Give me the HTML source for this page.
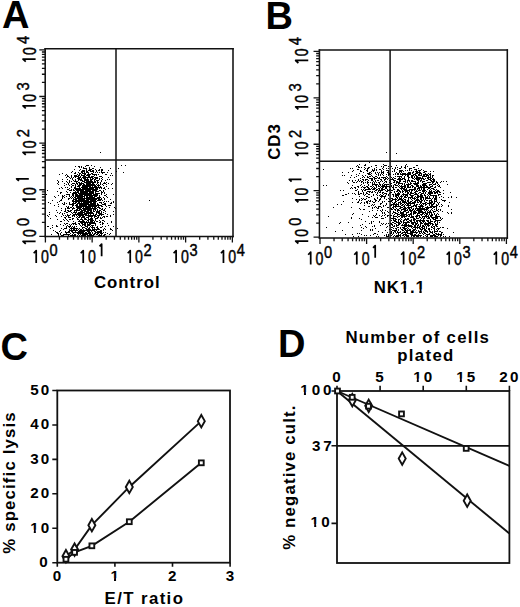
<!DOCTYPE html>
<html><head><meta charset="utf-8"><title>Figure</title><style>
html,body{margin:0;padding:0;background:#fff;}
body{width:520px;height:607px;overflow:hidden;}
svg{display:block;}
text{font-family:"Liberation Sans",sans-serif;fill:#000;}
.L{font-weight:bold;font-size:38px;}
.X{font-weight:bold;font-size:16.8px;letter-spacing:1px;}
.N{font-weight:bold;font-size:15.2px;letter-spacing:2.1px;}
.T{font-size:17.4px;stroke:#000;stroke-width:0.45px;}
.T0{font-size:17.9px;stroke:#000;stroke-width:0.45px;}
</style></head>
<body><svg width="520" height="607" viewBox="0 0 520 607"><rect width="520" height="607" fill="#fff"/><text x="2" y="27.6" class="L">A</text><text x="265.5" y="28.8" class="L">B</text><text x="0.6" y="359.8" class="L">C</text><text x="277.9" y="357.2" class="L">D</text><path d="M45.2 48.1V237.3M233 48.1V237.3" stroke="#111" stroke-width="1.55" fill="none"/><path d="M44.45 48.85H233.75" stroke="#111" stroke-width="1.5" fill="none"/><path d="M44.45 236.5H233.75" stroke="#111" stroke-width="1.6" fill="none"/><line x1="116" y1="48.85" x2="116" y2="236.5" stroke="#111" stroke-width="1.5"/><line x1="45.2" y1="159.95" x2="233" y2="159.95" stroke="#111" stroke-width="1.5"/><path d="M45.4 236.5v5.9M45.2 236.4h-5.9M59.47 236.5v3.3M45.2 222.36h-3.3M67.7 236.5v3.3M45.2 214.15h-3.3M73.54 236.5v3.3M45.2 208.33h-3.3M78.07 236.5v3.3M45.2 203.81h-3.3M81.77 236.5v3.3M45.2 200.11h-3.3M84.9 236.5v3.3M45.2 196.99h-3.3M87.61 236.5v3.3M45.2 194.29h-3.3M90 236.5v3.3M45.2 191.9h-3.3M92.14 236.5v5.9M45.2 189.77h-5.9M106.21 236.5v3.3M45.2 175.73h-3.3M114.44 236.5v3.3M45.2 167.52h-3.3M120.28 236.5v3.3M45.2 161.7h-3.3M124.81 236.5v3.3M45.2 157.18h-3.3M128.51 236.5v3.3M45.2 153.48h-3.3M131.64 236.5v3.3M45.2 150.36h-3.3M134.35 236.5v3.3M45.2 147.66h-3.3M136.74 236.5v3.3M45.2 145.27h-3.3M138.88 236.5v5.9M45.2 143.14h-5.9M152.95 236.5v3.3M45.2 129.1h-3.3M161.18 236.5v3.3M45.2 120.89h-3.3M167.02 236.5v3.3M45.2 115.07h-3.3M171.55 236.5v3.3M45.2 110.55h-3.3M175.25 236.5v3.3M45.2 106.85h-3.3M178.38 236.5v3.3M45.2 103.73h-3.3M181.09 236.5v3.3M45.2 101.03h-3.3M183.48 236.5v3.3M45.2 98.64h-3.3M185.62 236.5v5.9M45.2 96.51h-5.9M199.69 236.5v3.3M45.2 82.47h-3.3M207.92 236.5v3.3M45.2 74.26h-3.3M213.76 236.5v3.3M45.2 68.44h-3.3M218.29 236.5v3.3M45.2 63.92h-3.3M221.99 236.5v3.3M45.2 60.22h-3.3M225.12 236.5v3.3M45.2 57.1h-3.3M227.83 236.5v3.3M45.2 54.4h-3.3M230.22 236.5v3.3M45.2 52.01h-3.3M232.36 236.5v5.9M45.2 49.88h-5.9" stroke="#111" stroke-width="1.3" fill="none"/><g transform="translate(45,263.1)"><path d="M-8.8 0V-12.6L-11.3 -9.85" fill="none" stroke="#000" stroke-width="1.75" stroke-linejoin="round"/><text class="T0" transform="scale(0.79,1)" x="0" y="0" text-anchor="middle">0</text><text class="T" transform="scale(0.84,1)" x="5.48" y="-6.8">0</text></g><g transform="translate(92.04,263.1)"><path d="M-8.8 0V-12.6L-11.3 -9.85" fill="none" stroke="#000" stroke-width="1.75" stroke-linejoin="round"/><text class="T0" transform="scale(0.79,1)" x="0" y="0" text-anchor="middle">0</text><path d="M9.6 -6.8V-19L7.5 -16.69" fill="none" stroke="#000" stroke-width="1.75" stroke-linejoin="round"/></g><g transform="translate(139.03,263.1)"><path d="M-8.8 0V-12.6L-11.3 -9.85" fill="none" stroke="#000" stroke-width="1.75" stroke-linejoin="round"/><text class="T0" transform="scale(0.79,1)" x="0" y="0" text-anchor="middle">0</text><text class="T" transform="scale(0.84,1)" x="5.48" y="-6.8">2</text></g><g transform="translate(184.92,263.1)"><path d="M-8.8 0V-12.6L-11.3 -9.85" fill="none" stroke="#000" stroke-width="1.75" stroke-linejoin="round"/><text class="T0" transform="scale(0.79,1)" x="0" y="0" text-anchor="middle">0</text><text class="T" transform="scale(0.84,1)" x="5.48" y="-6.8">3</text></g><g transform="translate(232.26,263.1)"><path d="M-8.8 0V-12.6L-11.3 -9.85" fill="none" stroke="#000" stroke-width="1.75" stroke-linejoin="round"/><text class="T0" transform="scale(0.79,1)" x="0" y="0" text-anchor="middle">0</text><text class="T" transform="scale(0.84,1)" x="5.48" y="-6.8">4</text></g><g transform="translate(35.6,232) rotate(-90)"><path d="M-9.3 0V-12.6L-11.8 -9.85" fill="none" stroke="#000" stroke-width="1.75" stroke-linejoin="round"/><text class="T0" transform="scale(0.79,1)" x="-1.52" y="0" text-anchor="middle">0</text><text class="T" transform="scale(0.84,1)" x="7.14" y="-6.8">0</text></g><g transform="translate(35.6,189.77) rotate(-90)"><path d="M-9.3 0V-12.6L-11.8 -9.85" fill="none" stroke="#000" stroke-width="1.75" stroke-linejoin="round"/><text class="T0" transform="scale(0.79,1)" x="-1.52" y="0" text-anchor="middle">0</text><path d="M11 -6.8V-19L8.9 -16.69" fill="none" stroke="#000" stroke-width="1.75" stroke-linejoin="round"/></g><g transform="translate(35.6,143.14) rotate(-90)"><path d="M-9.3 0V-12.6L-11.8 -9.85" fill="none" stroke="#000" stroke-width="1.75" stroke-linejoin="round"/><text class="T0" transform="scale(0.79,1)" x="-1.52" y="0" text-anchor="middle">0</text><text class="T" transform="scale(0.84,1)" x="7.14" y="-6.8">2</text></g><g transform="translate(35.6,96.51) rotate(-90)"><path d="M-9.3 0V-12.6L-11.8 -9.85" fill="none" stroke="#000" stroke-width="1.75" stroke-linejoin="round"/><text class="T0" transform="scale(0.79,1)" x="-1.52" y="0" text-anchor="middle">0</text><text class="T" transform="scale(0.84,1)" x="7.14" y="-6.8">3</text></g><g transform="translate(35.6,49.88) rotate(-90)"><path d="M-9.3 0V-12.6L-11.8 -9.85" fill="none" stroke="#000" stroke-width="1.75" stroke-linejoin="round"/><text class="T0" transform="scale(0.79,1)" x="-1.52" y="0" text-anchor="middle">0</text><text class="T" transform="scale(0.84,1)" x="7.14" y="-6.8">4</text></g><path d="M88 216h1v1h-1zM80 212h1v1h-1zM85 194h1v1h-1zM100 200h1v1h-1zM87 208h1v1h-1zM95 198h1v1h-1zM91 184h1v1h-1zM84 192h1v1h-1zM78 177h1v1h-1zM76 195h1v1h-1zM86 194h1v1h-1zM87 179h1v1h-1zM86 201h1v1h-1zM92 186h1v1h-1zM84 170h1v1h-1zM83 167h1v1h-1zM77 213h1v1h-1zM72 209h1v1h-1zM89 194h1v1h-1zM90 205h1v1h-1zM94 195h1v1h-1zM83 190h1v1h-1zM80 197h1v1h-1zM81 213h1v1h-1zM74 183h1v1h-1zM80 169h1v1h-1zM85 191h1v1h-1zM99 170h1v1h-1zM95 188h1v1h-1zM86 189h1v1h-1zM91 182h1v1h-1zM86 203h1v1h-1zM98 211h1v1h-1zM84 202h1v1h-1zM84 221h1v1h-1zM88 195h1v1h-1zM85 195h1v1h-1zM86 186h1v1h-1zM101 171h1v1h-1zM62 196h1v1h-1zM86 203h1v1h-1zM86 196h1v1h-1zM89 212h1v1h-1zM84 193h1v1h-1zM101 205h1v1h-1zM80 231h1v1h-1zM92 190h1v1h-1zM79 202h1v1h-1zM81 183h1v1h-1zM78 191h1v1h-1zM95 192h1v1h-1zM77 207h1v1h-1zM87 210h1v1h-1zM95 196h1v1h-1zM86 197h1v1h-1zM79 207h1v1h-1zM97 200h1v1h-1zM85 194h1v1h-1zM82 187h1v1h-1zM84 186h1v1h-1zM84 176h1v1h-1zM89 199h1v1h-1zM79 166h1v1h-1zM87 213h1v1h-1zM82 191h1v1h-1zM83 207h1v1h-1zM81 212h1v1h-1zM85 211h1v1h-1zM87 195h1v1h-1zM77 188h1v1h-1zM85 207h1v1h-1zM89 188h1v1h-1zM90 212h1v1h-1zM86 192h1v1h-1zM84 209h1v1h-1zM91 185h1v1h-1zM90 191h1v1h-1zM82 215h1v1h-1zM93 188h1v1h-1zM88 205h1v1h-1zM83 196h1v1h-1zM92 173h1v1h-1zM89 208h1v1h-1zM91 179h1v1h-1zM89 186h1v1h-1zM91 206h1v1h-1zM89 187h1v1h-1zM83 210h1v1h-1zM81 205h1v1h-1zM91 194h1v1h-1zM104 199h1v1h-1zM102 170h1v1h-1zM71 212h1v1h-1zM91 194h1v1h-1zM87 171h1v1h-1zM83 184h1v1h-1zM85 210h1v1h-1zM87 203h1v1h-1zM82 192h1v1h-1zM88 194h1v1h-1zM96 186h1v1h-1zM100 184h1v1h-1zM94 187h1v1h-1zM99 200h1v1h-1zM90 208h1v1h-1zM83 183h1v1h-1zM73 215h1v1h-1zM82 190h1v1h-1zM87 226h1v1h-1zM75 201h1v1h-1zM84 205h1v1h-1zM74 192h1v1h-1zM93 220h1v1h-1zM98 186h1v1h-1zM87 196h1v1h-1zM77 178h1v1h-1zM92 201h1v1h-1zM86 215h1v1h-1zM80 205h1v1h-1zM87 197h1v1h-1zM90 200h1v1h-1zM89 202h1v1h-1zM101 194h1v1h-1zM94 207h1v1h-1zM85 209h1v1h-1zM81 214h1v1h-1zM81 191h1v1h-1zM89 210h1v1h-1zM93 211h1v1h-1zM86 185h1v1h-1zM91 202h1v1h-1zM80 212h1v1h-1zM88 185h1v1h-1zM90 179h1v1h-1zM81 204h1v1h-1zM76 199h1v1h-1zM78 208h1v1h-1zM82 201h1v1h-1zM76 193h1v1h-1zM94 204h1v1h-1zM74 211h1v1h-1zM93 193h1v1h-1zM97 183h1v1h-1zM86 214h1v1h-1zM96 216h1v1h-1zM79 173h1v1h-1zM90 178h1v1h-1zM86 180h1v1h-1zM94 209h1v1h-1zM91 198h1v1h-1zM87 194h1v1h-1zM90 201h1v1h-1zM90 192h1v1h-1zM100 202h1v1h-1zM97 217h1v1h-1zM81 174h1v1h-1zM96 193h1v1h-1zM88 194h1v1h-1zM88 181h1v1h-1zM86 192h1v1h-1zM87 165h1v1h-1zM93 203h1v1h-1zM75 188h1v1h-1zM87 207h1v1h-1zM87 217h1v1h-1zM87 184h1v1h-1zM82 208h1v1h-1zM83 210h1v1h-1zM94 206h1v1h-1zM94 196h1v1h-1zM87 190h1v1h-1zM83 176h1v1h-1zM83 183h1v1h-1zM77 200h1v1h-1zM90 193h1v1h-1zM97 211h1v1h-1zM94 190h1v1h-1zM77 206h1v1h-1zM89 208h1v1h-1zM90 216h1v1h-1zM85 207h1v1h-1zM81 166h1v1h-1zM84 219h1v1h-1zM75 212h1v1h-1zM82 192h1v1h-1zM87 201h1v1h-1zM80 200h1v1h-1zM90 210h1v1h-1zM82 220h1v1h-1zM100 232h1v1h-1zM78 200h1v1h-1zM74 203h1v1h-1zM91 182h1v1h-1zM76 201h1v1h-1zM91 187h1v1h-1zM82 200h1v1h-1zM88 220h1v1h-1zM79 166h1v1h-1zM90 190h1v1h-1zM89 208h1v1h-1zM91 218h1v1h-1zM96 175h1v1h-1zM87 226h1v1h-1zM84 212h1v1h-1zM87 192h1v1h-1zM98 213h1v1h-1zM85 211h1v1h-1zM78 188h1v1h-1zM93 199h1v1h-1zM80 204h1v1h-1zM89 216h1v1h-1zM94 194h1v1h-1zM84 196h1v1h-1zM85 218h1v1h-1zM98 217h1v1h-1zM90 195h1v1h-1zM93 193h1v1h-1zM89 175h1v1h-1zM84 218h1v1h-1zM80 177h1v1h-1zM86 221h1v1h-1zM97 193h1v1h-1zM84 196h1v1h-1zM80 199h1v1h-1zM85 177h1v1h-1zM83 194h1v1h-1zM81 182h1v1h-1zM93 225h1v1h-1zM85 192h1v1h-1zM91 195h1v1h-1zM82 217h1v1h-1zM80 188h1v1h-1zM82 186h1v1h-1zM85 206h1v1h-1zM97 207h1v1h-1zM87 180h1v1h-1zM87 185h1v1h-1zM86 212h1v1h-1zM88 195h1v1h-1zM82 198h1v1h-1zM88 185h1v1h-1zM83 210h1v1h-1zM75 192h1v1h-1zM79 220h1v1h-1zM91 205h1v1h-1zM90 202h1v1h-1zM89 176h1v1h-1zM89 206h1v1h-1zM77 210h1v1h-1zM92 177h1v1h-1zM84 194h1v1h-1zM83 203h1v1h-1zM78 195h1v1h-1zM89 208h1v1h-1zM87 195h1v1h-1zM92 170h1v1h-1zM94 194h1v1h-1zM78 192h1v1h-1zM74 169h1v1h-1zM85 187h1v1h-1zM92 186h1v1h-1zM78 185h1v1h-1zM99 198h1v1h-1zM83 184h1v1h-1zM79 196h1v1h-1zM90 214h1v1h-1zM95 202h1v1h-1zM82 186h1v1h-1zM71 184h1v1h-1zM90 193h1v1h-1zM90 179h1v1h-1zM93 202h1v1h-1zM87 204h1v1h-1zM71 190h1v1h-1zM81 223h1v1h-1zM86 191h1v1h-1zM93 183h1v1h-1zM97 188h1v1h-1zM87 185h1v1h-1zM93 168h1v1h-1zM92 187h1v1h-1zM87 182h1v1h-1zM89 201h1v1h-1zM91 202h1v1h-1zM91 212h1v1h-1zM84 181h1v1h-1zM78 208h1v1h-1zM84 213h1v1h-1zM87 184h1v1h-1zM93 225h1v1h-1zM86 185h1v1h-1zM81 210h1v1h-1zM83 192h1v1h-1zM92 198h1v1h-1zM88 190h1v1h-1zM83 200h1v1h-1zM88 206h1v1h-1zM84 203h1v1h-1zM90 199h1v1h-1zM91 212h1v1h-1zM88 199h1v1h-1zM80 203h1v1h-1zM86 194h1v1h-1zM81 206h1v1h-1zM105 204h1v1h-1zM88 204h1v1h-1zM83 199h1v1h-1zM82 189h1v1h-1zM89 201h1v1h-1zM86 187h1v1h-1zM89 183h1v1h-1zM92 193h1v1h-1zM87 209h1v1h-1zM91 180h1v1h-1zM85 203h1v1h-1zM86 197h1v1h-1zM90 199h1v1h-1zM88 201h1v1h-1zM97 205h1v1h-1zM91 193h1v1h-1zM95 195h1v1h-1zM92 168h1v1h-1zM89 197h1v1h-1zM84 216h1v1h-1zM90 196h1v1h-1zM83 224h1v1h-1zM92 207h1v1h-1zM82 216h1v1h-1zM91 194h1v1h-1zM86 175h1v1h-1zM92 183h1v1h-1zM93 192h1v1h-1zM83 203h1v1h-1zM88 182h1v1h-1zM86 206h1v1h-1zM85 179h1v1h-1zM85 185h1v1h-1zM83 199h1v1h-1zM87 195h1v1h-1zM75 203h1v1h-1zM86 192h1v1h-1zM88 225h1v1h-1zM78 176h1v1h-1zM92 187h1v1h-1zM96 184h1v1h-1zM84 210h1v1h-1zM93 204h1v1h-1zM90 196h1v1h-1zM84 195h1v1h-1zM96 208h1v1h-1zM87 202h1v1h-1zM93 214h1v1h-1zM86 197h1v1h-1zM89 234h1v1h-1zM89 216h1v1h-1zM76 210h1v1h-1zM77 183h1v1h-1zM83 196h1v1h-1zM88 203h1v1h-1zM89 192h1v1h-1zM105 203h1v1h-1zM92 226h1v1h-1zM94 206h1v1h-1zM89 224h1v1h-1zM79 185h1v1h-1zM88 170h1v1h-1zM82 214h1v1h-1zM84 200h1v1h-1zM92 182h1v1h-1zM89 189h1v1h-1zM79 194h1v1h-1zM87 192h1v1h-1zM82 211h1v1h-1zM95 206h1v1h-1zM86 183h1v1h-1zM81 183h1v1h-1zM88 211h1v1h-1zM93 198h1v1h-1zM84 200h1v1h-1zM88 206h1v1h-1zM97 189h1v1h-1zM102 169h1v1h-1zM75 177h1v1h-1zM80 195h1v1h-1zM101 188h1v1h-1zM95 193h1v1h-1zM88 184h1v1h-1zM103 197h1v1h-1zM83 230h1v1h-1zM88 204h1v1h-1zM86 186h1v1h-1zM77 196h1v1h-1zM98 204h1v1h-1zM86 213h1v1h-1zM81 217h1v1h-1zM87 186h1v1h-1zM92 205h1v1h-1zM85 201h1v1h-1zM94 217h1v1h-1zM101 194h1v1h-1zM84 204h1v1h-1zM84 212h1v1h-1zM78 195h1v1h-1zM78 219h1v1h-1zM85 213h1v1h-1zM97 181h1v1h-1zM85 208h1v1h-1zM87 196h1v1h-1zM93 211h1v1h-1zM83 196h1v1h-1zM91 201h1v1h-1zM88 182h1v1h-1zM99 195h1v1h-1zM89 198h1v1h-1zM87 200h1v1h-1zM81 203h1v1h-1zM95 204h1v1h-1zM92 205h1v1h-1zM87 223h1v1h-1zM82 203h1v1h-1zM94 202h1v1h-1zM80 183h1v1h-1zM98 185h1v1h-1zM87 206h1v1h-1zM88 173h1v1h-1zM74 197h1v1h-1zM82 194h1v1h-1zM88 200h1v1h-1zM78 175h1v1h-1zM94 189h1v1h-1zM79 170h1v1h-1zM91 180h1v1h-1zM80 207h1v1h-1zM89 206h1v1h-1zM80 194h1v1h-1zM82 210h1v1h-1zM90 183h1v1h-1zM91 196h1v1h-1zM84 214h1v1h-1zM75 212h1v1h-1zM95 169h1v1h-1zM86 196h1v1h-1zM79 190h1v1h-1zM81 199h1v1h-1zM83 168h1v1h-1zM95 210h1v1h-1zM81 210h1v1h-1zM101 176h1v1h-1zM84 191h1v1h-1zM91 194h1v1h-1zM77 216h1v1h-1zM85 208h1v1h-1zM103 188h1v1h-1zM84 211h1v1h-1zM86 205h1v1h-1zM87 229h1v1h-1zM88 207h1v1h-1zM95 206h1v1h-1zM86 171h1v1h-1zM78 179h1v1h-1zM93 198h1v1h-1zM90 197h1v1h-1zM86 214h1v1h-1zM86 215h1v1h-1zM92 201h1v1h-1zM91 196h1v1h-1zM91 193h1v1h-1zM97 197h1v1h-1zM85 192h1v1h-1zM98 206h1v1h-1zM89 206h1v1h-1zM93 172h1v1h-1zM104 209h1v1h-1zM80 195h1v1h-1zM92 207h1v1h-1zM93 197h1v1h-1zM90 204h1v1h-1zM92 207h1v1h-1zM89 195h1v1h-1zM93 229h1v1h-1zM107 197h1v1h-1zM87 211h1v1h-1zM95 193h1v1h-1zM85 186h1v1h-1zM93 200h1v1h-1zM87 174h1v1h-1zM80 191h1v1h-1zM80 194h1v1h-1zM74 192h1v1h-1zM90 216h1v1h-1zM99 187h1v1h-1zM95 231h1v1h-1zM89 191h1v1h-1zM87 207h1v1h-1zM105 211h1v1h-1zM75 213h1v1h-1zM88 200h1v1h-1zM96 180h1v1h-1zM98 197h1v1h-1zM75 194h1v1h-1zM94 208h1v1h-1zM83 201h1v1h-1zM82 191h1v1h-1zM80 197h1v1h-1zM84 210h1v1h-1zM71 175h1v1h-1zM100 187h1v1h-1zM90 188h1v1h-1zM92 196h1v1h-1zM93 210h1v1h-1zM86 185h1v1h-1zM84 189h1v1h-1zM95 195h1v1h-1zM78 200h1v1h-1zM102 169h1v1h-1zM80 195h1v1h-1zM85 194h1v1h-1zM75 210h1v1h-1zM87 193h1v1h-1zM91 187h1v1h-1zM94 196h1v1h-1zM89 215h1v1h-1zM93 188h1v1h-1zM94 182h1v1h-1zM83 207h1v1h-1zM80 198h1v1h-1zM80 213h1v1h-1zM94 185h1v1h-1zM90 206h1v1h-1zM80 212h1v1h-1zM89 202h1v1h-1zM85 208h1v1h-1zM96 201h1v1h-1zM95 190h1v1h-1zM86 172h1v1h-1zM95 172h1v1h-1zM77 206h1v1h-1zM97 218h1v1h-1zM81 209h1v1h-1zM91 191h1v1h-1zM92 222h1v1h-1zM85 195h1v1h-1zM93 200h1v1h-1zM100 199h1v1h-1zM89 208h1v1h-1zM81 209h1v1h-1zM78 206h1v1h-1zM83 185h1v1h-1zM103 220h1v1h-1zM86 193h1v1h-1zM76 206h1v1h-1zM90 198h1v1h-1zM95 199h1v1h-1zM74 212h1v1h-1zM90 187h1v1h-1zM79 207h1v1h-1zM91 192h1v1h-1zM85 202h1v1h-1zM86 195h1v1h-1zM95 191h1v1h-1zM84 195h1v1h-1zM88 214h1v1h-1zM92 184h1v1h-1zM83 233h1v1h-1zM82 196h1v1h-1zM82 227h1v1h-1zM93 211h1v1h-1zM82 189h1v1h-1zM89 167h1v1h-1zM94 180h1v1h-1zM88 203h1v1h-1zM81 203h1v1h-1zM92 225h1v1h-1zM90 223h1v1h-1zM90 195h1v1h-1zM93 191h1v1h-1zM88 207h1v1h-1zM95 202h1v1h-1zM77 216h1v1h-1zM88 194h1v1h-1zM81 206h1v1h-1zM89 208h1v1h-1zM86 219h1v1h-1zM85 204h1v1h-1zM88 213h1v1h-1zM82 194h1v1h-1zM85 189h1v1h-1zM82 181h1v1h-1zM92 219h1v1h-1zM80 209h1v1h-1zM79 187h1v1h-1zM85 200h1v1h-1zM90 171h1v1h-1zM78 199h1v1h-1zM85 228h1v1h-1zM85 189h1v1h-1zM74 232h1v1h-1zM92 218h1v1h-1zM81 217h1v1h-1zM84 195h1v1h-1zM74 193h1v1h-1zM78 200h1v1h-1zM92 186h1v1h-1zM78 199h1v1h-1zM89 190h1v1h-1zM97 211h1v1h-1zM81 194h1v1h-1zM98 180h1v1h-1zM67 187h1v1h-1zM93 178h1v1h-1zM87 200h1v1h-1zM82 177h1v1h-1zM82 211h1v1h-1zM82 194h1v1h-1zM84 181h1v1h-1zM84 202h1v1h-1zM81 194h1v1h-1zM86 189h1v1h-1zM83 204h1v1h-1zM79 208h1v1h-1zM89 201h1v1h-1zM82 199h1v1h-1zM83 198h1v1h-1zM94 208h1v1h-1zM99 185h1v1h-1zM80 197h1v1h-1zM92 203h1v1h-1zM80 229h1v1h-1zM100 221h1v1h-1zM80 200h1v1h-1zM86 234h1v1h-1zM91 215h1v1h-1zM82 197h1v1h-1zM90 234h1v1h-1zM85 168h1v1h-1zM96 211h1v1h-1zM87 188h1v1h-1zM69 208h1v1h-1zM81 219h1v1h-1zM92 216h1v1h-1zM86 215h1v1h-1zM77 218h1v1h-1zM87 181h1v1h-1zM84 184h1v1h-1zM89 188h1v1h-1zM78 193h1v1h-1zM85 201h1v1h-1zM92 216h1v1h-1zM90 221h1v1h-1zM70 197h1v1h-1zM94 180h1v1h-1zM86 201h1v1h-1zM76 190h1v1h-1zM91 194h1v1h-1zM98 231h1v1h-1zM86 182h1v1h-1zM87 190h1v1h-1zM77 192h1v1h-1zM84 193h1v1h-1zM93 213h1v1h-1zM90 193h1v1h-1zM90 198h1v1h-1zM89 184h1v1h-1zM65 210h1v1h-1zM83 191h1v1h-1zM87 197h1v1h-1zM85 219h1v1h-1zM88 201h1v1h-1zM81 197h1v1h-1zM90 197h1v1h-1zM89 185h1v1h-1zM90 184h1v1h-1zM84 187h1v1h-1zM88 213h1v1h-1zM89 186h1v1h-1zM88 212h1v1h-1zM92 205h1v1h-1zM79 190h1v1h-1zM82 191h1v1h-1zM89 199h1v1h-1zM85 206h1v1h-1zM82 193h1v1h-1zM88 179h1v1h-1zM81 179h1v1h-1zM80 196h1v1h-1zM86 203h1v1h-1zM89 182h1v1h-1zM100 217h1v1h-1zM78 188h1v1h-1zM84 201h1v1h-1zM91 198h1v1h-1zM69 229h1v1h-1zM79 198h1v1h-1zM87 230h1v1h-1zM86 199h1v1h-1zM86 198h1v1h-1zM83 171h1v1h-1zM89 196h1v1h-1zM84 187h1v1h-1zM81 200h1v1h-1zM86 205h1v1h-1zM85 194h1v1h-1zM89 197h1v1h-1zM91 196h1v1h-1zM97 210h1v1h-1zM75 193h1v1h-1zM77 197h1v1h-1zM96 208h1v1h-1zM69 195h1v1h-1zM90 198h1v1h-1zM80 169h1v1h-1zM77 208h1v1h-1zM81 193h1v1h-1zM78 202h1v1h-1zM93 200h1v1h-1zM87 187h1v1h-1zM82 200h1v1h-1zM81 214h1v1h-1zM82 199h1v1h-1zM86 202h1v1h-1zM88 217h1v1h-1zM83 191h1v1h-1zM88 204h1v1h-1zM91 213h1v1h-1zM87 227h1v1h-1zM81 193h1v1h-1zM85 200h1v1h-1zM86 175h1v1h-1zM80 215h1v1h-1zM86 208h1v1h-1zM88 207h1v1h-1zM79 186h1v1h-1zM87 192h1v1h-1zM88 182h1v1h-1zM81 209h1v1h-1zM83 202h1v1h-1zM79 210h1v1h-1zM84 168h1v1h-1zM92 226h1v1h-1zM90 177h1v1h-1zM91 197h1v1h-1zM89 168h1v1h-1zM94 211h1v1h-1zM93 194h1v1h-1zM96 174h1v1h-1zM83 201h1v1h-1zM90 224h1v1h-1zM82 204h1v1h-1zM72 209h1v1h-1zM87 201h1v1h-1zM93 194h1v1h-1zM73 223h1v1h-1zM86 204h1v1h-1zM91 191h1v1h-1zM90 230h1v1h-1zM89 228h1v1h-1zM84 208h1v1h-1zM89 215h1v1h-1zM80 193h1v1h-1zM81 197h1v1h-1zM96 170h1v1h-1zM87 172h1v1h-1zM92 203h1v1h-1zM88 206h1v1h-1zM102 192h1v1h-1zM95 189h1v1h-1zM92 208h1v1h-1zM101 209h1v1h-1zM86 209h1v1h-1zM91 195h1v1h-1zM92 192h1v1h-1zM85 192h1v1h-1zM93 190h1v1h-1zM81 215h1v1h-1zM83 192h1v1h-1zM94 211h1v1h-1zM101 202h1v1h-1zM85 205h1v1h-1zM85 204h1v1h-1zM83 214h1v1h-1zM82 205h1v1h-1zM85 214h1v1h-1zM88 183h1v1h-1zM88 182h1v1h-1zM90 204h1v1h-1zM92 185h1v1h-1zM81 209h1v1h-1zM91 187h1v1h-1zM83 208h1v1h-1zM96 199h1v1h-1zM79 200h1v1h-1zM79 203h1v1h-1zM86 189h1v1h-1zM90 197h1v1h-1zM90 192h1v1h-1zM89 188h1v1h-1zM95 206h1v1h-1zM94 175h1v1h-1zM101 171h1v1h-1zM93 202h1v1h-1zM96 213h1v1h-1zM76 205h1v1h-1zM81 172h1v1h-1zM84 196h1v1h-1zM89 194h1v1h-1zM98 212h1v1h-1zM85 218h1v1h-1zM92 200h1v1h-1zM87 194h1v1h-1zM71 196h1v1h-1zM89 219h1v1h-1zM87 179h1v1h-1zM88 176h1v1h-1zM92 199h1v1h-1zM69 190h1v1h-1zM89 216h1v1h-1zM96 218h1v1h-1zM79 204h1v1h-1zM85 191h1v1h-1zM85 173h1v1h-1zM91 189h1v1h-1zM87 206h1v1h-1zM93 189h1v1h-1zM80 209h1v1h-1zM85 186h1v1h-1zM81 218h1v1h-1zM88 186h1v1h-1zM101 212h1v1h-1zM86 179h1v1h-1zM72 218h1v1h-1zM83 202h1v1h-1zM92 206h1v1h-1zM82 190h1v1h-1zM97 191h1v1h-1zM77 203h1v1h-1zM79 186h1v1h-1zM78 199h1v1h-1zM74 199h1v1h-1zM91 221h1v1h-1zM83 224h1v1h-1zM94 205h1v1h-1zM77 206h1v1h-1zM89 208h1v1h-1zM93 211h1v1h-1zM87 198h1v1h-1zM89 206h1v1h-1zM94 194h1v1h-1zM82 193h1v1h-1zM80 176h1v1h-1zM87 197h1v1h-1zM79 204h1v1h-1zM99 205h1v1h-1zM85 209h1v1h-1zM80 185h1v1h-1zM73 199h1v1h-1zM81 196h1v1h-1zM95 205h1v1h-1zM81 211h1v1h-1zM87 199h1v1h-1zM91 200h1v1h-1zM98 213h1v1h-1zM82 193h1v1h-1zM85 179h1v1h-1zM98 207h1v1h-1zM90 229h1v1h-1zM86 208h1v1h-1zM95 178h1v1h-1zM84 194h1v1h-1zM77 207h1v1h-1zM102 209h1v1h-1zM96 171h1v1h-1zM84 180h1v1h-1zM92 196h1v1h-1zM86 205h1v1h-1zM92 221h1v1h-1zM97 211h1v1h-1zM76 215h1v1h-1zM88 177h1v1h-1zM88 195h1v1h-1zM86 211h1v1h-1zM78 207h1v1h-1zM95 182h1v1h-1zM97 189h1v1h-1zM82 211h1v1h-1zM87 172h1v1h-1zM83 208h1v1h-1zM83 191h1v1h-1zM87 198h1v1h-1zM82 185h1v1h-1zM90 215h1v1h-1zM69 204h1v1h-1zM94 186h1v1h-1zM97 177h1v1h-1zM94 221h1v1h-1zM87 184h1v1h-1zM90 218h1v1h-1zM90 221h1v1h-1zM75 186h1v1h-1zM83 207h1v1h-1zM96 186h1v1h-1zM81 210h1v1h-1zM78 206h1v1h-1zM81 197h1v1h-1zM101 194h1v1h-1zM87 187h1v1h-1zM91 219h1v1h-1zM91 180h1v1h-1zM90 220h1v1h-1zM80 196h1v1h-1zM81 190h1v1h-1zM80 179h1v1h-1zM90 197h1v1h-1zM72 183h1v1h-1zM82 183h1v1h-1zM88 195h1v1h-1zM90 179h1v1h-1zM82 192h1v1h-1zM84 193h1v1h-1zM82 196h1v1h-1zM99 187h1v1h-1zM75 202h1v1h-1zM81 209h1v1h-1zM94 221h1v1h-1zM88 174h1v1h-1zM98 211h1v1h-1zM96 199h1v1h-1zM85 198h1v1h-1zM74 212h1v1h-1zM83 189h1v1h-1zM90 186h1v1h-1zM93 189h1v1h-1zM104 216h1v1h-1zM92 203h1v1h-1zM87 191h1v1h-1zM74 190h1v1h-1zM82 191h1v1h-1zM88 172h1v1h-1zM78 189h1v1h-1zM84 211h1v1h-1zM106 196h1v1h-1zM92 198h1v1h-1zM89 223h1v1h-1zM88 206h1v1h-1zM87 190h1v1h-1zM95 196h1v1h-1zM97 183h1v1h-1zM90 222h1v1h-1zM83 203h1v1h-1zM97 204h1v1h-1zM81 194h1v1h-1zM89 190h1v1h-1zM84 200h1v1h-1zM78 221h1v1h-1zM83 198h1v1h-1zM88 218h1v1h-1zM84 227h1v1h-1zM100 208h1v1h-1zM78 180h1v1h-1zM85 202h1v1h-1zM92 215h1v1h-1zM90 199h1v1h-1zM90 170h1v1h-1zM95 177h1v1h-1zM74 188h1v1h-1zM84 181h1v1h-1zM86 199h1v1h-1zM91 204h1v1h-1zM84 200h1v1h-1zM96 195h1v1h-1zM86 168h1v1h-1zM89 227h1v1h-1zM92 195h1v1h-1zM96 216h1v1h-1zM97 182h1v1h-1zM79 208h1v1h-1zM91 205h1v1h-1zM77 209h1v1h-1zM101 215h1v1h-1zM105 205h1v1h-1zM88 224h1v1h-1zM94 166h1v1h-1zM76 202h1v1h-1zM84 224h1v1h-1zM98 216h1v1h-1zM85 195h1v1h-1zM93 194h1v1h-1zM92 203h1v1h-1zM93 200h1v1h-1zM78 178h1v1h-1zM92 178h1v1h-1zM83 205h1v1h-1zM92 213h1v1h-1zM90 220h1v1h-1zM83 215h1v1h-1zM78 192h1v1h-1zM90 207h1v1h-1zM85 189h1v1h-1zM78 166h1v1h-1zM73 221h1v1h-1zM74 176h1v1h-1zM75 194h1v1h-1zM85 190h1v1h-1zM78 196h1v1h-1zM77 203h1v1h-1zM97 185h1v1h-1zM88 191h1v1h-1zM84 179h1v1h-1zM87 198h1v1h-1zM96 232h1v1h-1zM79 214h1v1h-1zM81 190h1v1h-1zM79 205h1v1h-1zM96 196h1v1h-1zM88 186h1v1h-1zM85 179h1v1h-1zM86 169h1v1h-1zM103 216h1v1h-1zM83 191h1v1h-1zM84 199h1v1h-1zM89 225h1v1h-1zM84 171h1v1h-1zM89 204h1v1h-1zM81 209h1v1h-1zM86 187h1v1h-1zM86 180h1v1h-1zM84 222h1v1h-1zM95 206h1v1h-1zM88 202h1v1h-1zM79 200h1v1h-1zM82 189h1v1h-1zM98 187h1v1h-1zM87 199h1v1h-1zM94 194h1v1h-1zM90 203h1v1h-1zM86 190h1v1h-1zM80 213h1v1h-1zM81 214h1v1h-1zM99 190h1v1h-1zM80 184h1v1h-1zM83 217h1v1h-1zM81 183h1v1h-1zM75 199h1v1h-1zM90 219h1v1h-1zM89 197h1v1h-1zM87 229h1v1h-1zM91 181h1v1h-1zM96 206h1v1h-1zM101 199h1v1h-1zM82 228h1v1h-1zM90 193h1v1h-1zM84 203h1v1h-1zM87 192h1v1h-1zM90 201h1v1h-1zM90 190h1v1h-1zM84 212h1v1h-1zM80 193h1v1h-1zM93 194h1v1h-1zM73 202h1v1h-1zM87 207h1v1h-1zM90 188h1v1h-1zM97 182h1v1h-1zM83 207h1v1h-1zM98 215h1v1h-1zM81 203h1v1h-1zM89 207h1v1h-1zM90 193h1v1h-1zM78 191h1v1h-1zM79 196h1v1h-1zM83 203h1v1h-1zM93 171h1v1h-1zM82 194h1v1h-1zM91 193h1v1h-1zM92 215h1v1h-1zM91 182h1v1h-1zM102 223h1v1h-1zM91 209h1v1h-1zM99 196h1v1h-1zM87 192h1v1h-1zM91 187h1v1h-1zM99 200h1v1h-1zM89 196h1v1h-1zM73 207h1v1h-1zM84 208h1v1h-1zM88 183h1v1h-1zM101 198h1v1h-1zM94 181h1v1h-1zM91 218h1v1h-1zM80 190h1v1h-1zM82 193h1v1h-1zM92 227h1v1h-1zM85 203h1v1h-1zM95 196h1v1h-1zM84 187h1v1h-1zM91 208h1v1h-1zM90 188h1v1h-1zM92 192h1v1h-1zM91 193h1v1h-1zM84 201h1v1h-1zM92 212h1v1h-1zM81 211h1v1h-1zM88 210h1v1h-1zM80 225h1v1h-1zM93 205h1v1h-1zM93 184h1v1h-1zM86 229h1v1h-1zM88 200h1v1h-1zM74 208h1v1h-1zM86 209h1v1h-1zM88 193h1v1h-1zM97 200h1v1h-1zM94 207h1v1h-1zM93 213h1v1h-1zM92 186h1v1h-1zM86 217h1v1h-1zM86 193h1v1h-1zM87 212h1v1h-1zM81 198h1v1h-1zM84 189h1v1h-1zM92 191h1v1h-1zM88 204h1v1h-1zM90 205h1v1h-1zM92 188h1v1h-1zM70 210h1v1h-1zM99 193h1v1h-1zM87 210h1v1h-1zM82 198h1v1h-1zM84 206h1v1h-1zM88 221h1v1h-1zM81 189h1v1h-1zM78 201h1v1h-1zM86 195h1v1h-1zM91 185h1v1h-1zM77 228h1v1h-1zM87 185h1v1h-1zM94 200h1v1h-1zM81 203h1v1h-1zM95 209h1v1h-1zM87 222h1v1h-1zM81 196h1v1h-1zM91 184h1v1h-1zM92 204h1v1h-1zM94 203h1v1h-1zM101 180h1v1h-1zM85 191h1v1h-1zM87 207h1v1h-1zM80 212h1v1h-1zM95 200h1v1h-1zM78 207h1v1h-1zM90 186h1v1h-1zM83 191h1v1h-1zM77 204h1v1h-1zM95 203h1v1h-1zM83 198h1v1h-1zM87 224h1v1h-1zM84 205h1v1h-1zM85 215h1v1h-1zM82 206h1v1h-1zM85 207h1v1h-1zM78 197h1v1h-1zM95 208h1v1h-1zM80 234h1v1h-1zM90 195h1v1h-1zM85 186h1v1h-1zM98 216h1v1h-1zM97 185h1v1h-1zM74 169h1v1h-1zM77 191h1v1h-1zM79 175h1v1h-1zM91 189h1v1h-1zM89 215h1v1h-1zM81 191h1v1h-1zM96 177h1v1h-1zM84 182h1v1h-1zM85 189h1v1h-1zM88 191h1v1h-1zM95 187h1v1h-1zM86 207h1v1h-1zM81 189h1v1h-1zM86 192h1v1h-1zM92 188h1v1h-1zM76 206h1v1h-1zM81 189h1v1h-1zM85 213h1v1h-1zM92 200h1v1h-1zM89 192h1v1h-1zM99 212h1v1h-1zM81 210h1v1h-1zM78 186h1v1h-1zM82 220h1v1h-1zM101 198h1v1h-1zM83 216h1v1h-1zM83 220h1v1h-1zM80 211h1v1h-1zM81 222h1v1h-1zM88 189h1v1h-1zM87 207h1v1h-1zM103 183h1v1h-1zM95 216h1v1h-1zM92 193h1v1h-1zM88 186h1v1h-1zM89 182h1v1h-1zM83 199h1v1h-1zM81 180h1v1h-1zM86 202h1v1h-1zM92 204h1v1h-1zM99 198h1v1h-1zM96 184h1v1h-1zM92 208h1v1h-1zM100 190h1v1h-1zM100 197h1v1h-1zM84 175h1v1h-1zM93 190h1v1h-1zM93 201h1v1h-1zM93 199h1v1h-1zM82 192h1v1h-1zM87 204h1v1h-1zM82 211h1v1h-1zM73 180h1v1h-1zM92 203h1v1h-1zM101 213h1v1h-1zM80 183h1v1h-1zM87 197h1v1h-1zM92 191h1v1h-1zM82 188h1v1h-1zM87 186h1v1h-1zM86 208h1v1h-1zM86 183h1v1h-1zM91 209h1v1h-1zM81 192h1v1h-1zM76 183h1v1h-1zM79 179h1v1h-1zM82 225h1v1h-1zM95 192h1v1h-1zM90 199h1v1h-1zM88 170h1v1h-1zM86 182h1v1h-1zM84 196h1v1h-1zM90 216h1v1h-1zM93 182h1v1h-1zM84 206h1v1h-1zM85 166h1v1h-1zM92 188h1v1h-1zM87 172h1v1h-1zM79 215h1v1h-1zM83 204h1v1h-1zM98 198h1v1h-1zM87 194h1v1h-1zM93 203h1v1h-1zM90 220h1v1h-1zM90 215h1v1h-1zM81 194h1v1h-1zM92 186h1v1h-1zM77 196h1v1h-1zM83 203h1v1h-1zM98 191h1v1h-1zM79 193h1v1h-1zM83 190h1v1h-1zM95 206h1v1h-1zM90 194h1v1h-1zM94 196h1v1h-1zM99 198h1v1h-1zM86 208h1v1h-1zM102 173h1v1h-1zM90 181h1v1h-1zM75 191h1v1h-1zM93 174h1v1h-1zM84 223h1v1h-1zM96 193h1v1h-1zM92 199h1v1h-1zM83 186h1v1h-1zM96 188h1v1h-1zM86 190h1v1h-1zM76 195h1v1h-1zM100 183h1v1h-1zM86 214h1v1h-1zM90 197h1v1h-1zM91 202h1v1h-1zM86 186h1v1h-1zM84 173h1v1h-1zM88 194h1v1h-1zM82 175h1v1h-1zM83 171h1v1h-1zM91 180h1v1h-1zM93 185h1v1h-1zM91 205h1v1h-1zM93 193h1v1h-1zM73 203h1v1h-1zM82 175h1v1h-1zM79 201h1v1h-1zM91 202h1v1h-1zM92 213h1v1h-1zM84 197h1v1h-1zM85 193h1v1h-1zM86 200h1v1h-1zM83 199h1v1h-1zM93 193h1v1h-1zM91 185h1v1h-1zM81 222h1v1h-1zM86 215h1v1h-1zM86 194h1v1h-1zM70 207h1v1h-1zM91 187h1v1h-1zM91 206h1v1h-1zM87 189h1v1h-1zM91 191h1v1h-1zM83 178h1v1h-1zM87 215h1v1h-1zM83 190h1v1h-1zM77 194h1v1h-1zM93 195h1v1h-1zM91 213h1v1h-1zM80 189h1v1h-1zM91 193h1v1h-1zM79 197h1v1h-1zM89 213h1v1h-1zM81 202h1v1h-1zM92 196h1v1h-1zM75 223h1v1h-1zM90 201h1v1h-1zM103 212h1v1h-1zM80 197h1v1h-1zM99 215h1v1h-1zM98 197h1v1h-1zM95 188h1v1h-1zM85 206h1v1h-1zM86 206h1v1h-1zM86 201h1v1h-1zM101 206h1v1h-1zM94 177h1v1h-1zM82 210h1v1h-1zM75 191h1v1h-1zM84 214h1v1h-1zM74 190h1v1h-1zM87 199h1v1h-1zM75 214h1v1h-1zM91 215h1v1h-1zM91 206h1v1h-1zM85 193h1v1h-1zM78 203h1v1h-1zM78 213h1v1h-1zM90 189h1v1h-1zM88 175h1v1h-1zM79 187h1v1h-1zM77 189h1v1h-1zM85 188h1v1h-1zM81 180h1v1h-1zM73 205h1v1h-1zM84 214h1v1h-1zM78 190h1v1h-1zM91 217h1v1h-1zM93 210h1v1h-1zM77 205h1v1h-1zM100 167h1v1h-1zM89 228h1v1h-1zM79 201h1v1h-1zM100 205h1v1h-1zM88 209h1v1h-1zM85 208h1v1h-1zM86 209h1v1h-1zM81 195h1v1h-1zM88 165h1v1h-1zM93 192h1v1h-1zM82 177h1v1h-1zM86 184h1v1h-1zM91 220h1v1h-1zM83 187h1v1h-1zM86 193h1v1h-1zM90 169h1v1h-1zM90 197h1v1h-1zM83 175h1v1h-1zM93 213h1v1h-1zM89 207h1v1h-1zM93 200h1v1h-1zM92 183h1v1h-1zM95 220h1v1h-1zM95 186h1v1h-1zM85 206h1v1h-1zM81 203h1v1h-1zM86 219h1v1h-1zM83 190h1v1h-1zM91 213h1v1h-1zM84 178h1v1h-1zM78 175h1v1h-1zM87 183h1v1h-1zM87 177h1v1h-1zM85 205h1v1h-1zM79 214h1v1h-1zM87 186h1v1h-1zM84 197h1v1h-1zM81 189h1v1h-1zM89 170h1v1h-1zM104 210h1v1h-1zM96 230h1v1h-1zM92 197h1v1h-1zM86 206h1v1h-1zM97 185h1v1h-1zM99 193h1v1h-1zM79 217h1v1h-1zM83 208h1v1h-1zM77 208h1v1h-1zM83 214h1v1h-1zM76 188h1v1h-1zM80 201h1v1h-1zM80 193h1v1h-1zM87 191h1v1h-1zM88 202h1v1h-1zM75 212h1v1h-1zM79 186h1v1h-1zM99 188h1v1h-1zM86 208h1v1h-1zM82 196h1v1h-1zM85 195h1v1h-1zM78 212h1v1h-1zM87 206h1v1h-1zM87 189h1v1h-1zM95 187h1v1h-1zM94 187h1v1h-1zM82 199h1v1h-1zM103 210h1v1h-1zM88 204h1v1h-1zM95 191h1v1h-1zM73 183h1v1h-1zM86 187h1v1h-1zM85 218h1v1h-1zM85 189h1v1h-1zM87 215h1v1h-1zM99 207h1v1h-1zM85 191h1v1h-1zM79 189h1v1h-1zM93 206h1v1h-1zM89 183h1v1h-1zM86 188h1v1h-1zM97 198h1v1h-1zM86 197h1v1h-1zM86 202h1v1h-1zM89 197h1v1h-1zM91 210h1v1h-1zM95 233h1v1h-1zM91 216h1v1h-1zM87 220h1v1h-1zM83 171h1v1h-1zM101 234h1v1h-1zM84 174h1v1h-1zM91 189h1v1h-1zM85 215h1v1h-1zM94 209h1v1h-1zM100 224h1v1h-1zM83 185h1v1h-1zM67 212h1v1h-1zM90 186h1v1h-1zM87 231h1v1h-1zM80 222h1v1h-1zM66 223h1v1h-1zM91 193h1v1h-1zM56 232h1v1h-1zM82 230h1v1h-1zM78 179h1v1h-1zM70 192h1v1h-1zM85 213h1v1h-1zM90 198h1v1h-1zM83 167h1v1h-1zM86 228h1v1h-1zM90 208h1v1h-1zM87 206h1v1h-1zM68 216h1v1h-1zM83 235h1v1h-1zM86 188h1v1h-1zM73 189h1v1h-1zM86 213h1v1h-1zM85 185h1v1h-1zM86 172h1v1h-1zM103 220h1v1h-1zM74 216h1v1h-1zM66 216h1v1h-1zM88 189h1v1h-1zM102 217h1v1h-1zM76 207h1v1h-1zM70 204h1v1h-1zM100 222h1v1h-1zM86 197h1v1h-1zM91 206h1v1h-1zM91 206h1v1h-1zM74 187h1v1h-1zM97 203h1v1h-1zM94 228h1v1h-1zM104 217h1v1h-1zM95 205h1v1h-1zM104 193h1v1h-1zM89 181h1v1h-1zM80 191h1v1h-1zM97 188h1v1h-1zM85 233h1v1h-1zM84 225h1v1h-1zM86 226h1v1h-1zM93 206h1v1h-1zM96 191h1v1h-1zM87 234h1v1h-1zM89 212h1v1h-1zM92 207h1v1h-1zM82 171h1v1h-1zM72 171h1v1h-1zM94 222h1v1h-1zM97 229h1v1h-1zM84 198h1v1h-1zM93 201h1v1h-1zM85 200h1v1h-1zM73 218h1v1h-1zM84 210h1v1h-1zM101 232h1v1h-1zM77 206h1v1h-1zM80 231h1v1h-1zM90 181h1v1h-1zM78 234h1v1h-1zM85 228h1v1h-1zM75 231h1v1h-1zM86 202h1v1h-1zM100 217h1v1h-1zM85 213h1v1h-1zM92 235h1v1h-1zM82 231h1v1h-1zM96 199h1v1h-1zM99 172h1v1h-1zM94 201h1v1h-1zM104 198h1v1h-1zM94 181h1v1h-1zM69 232h1v1h-1zM86 197h1v1h-1zM85 174h1v1h-1zM102 184h1v1h-1zM84 227h1v1h-1zM73 195h1v1h-1zM68 198h1v1h-1zM91 230h1v1h-1zM98 184h1v1h-1zM70 192h1v1h-1zM65 234h1v1h-1zM113 214h1v1h-1zM104 195h1v1h-1zM89 177h1v1h-1zM72 213h1v1h-1zM88 219h1v1h-1zM75 228h1v1h-1zM84 231h1v1h-1zM84 205h1v1h-1zM88 199h1v1h-1zM80 177h1v1h-1zM72 223h1v1h-1zM90 233h1v1h-1zM87 233h1v1h-1zM83 221h1v1h-1zM79 213h1v1h-1zM78 198h1v1h-1zM84 180h1v1h-1zM93 225h1v1h-1zM85 230h1v1h-1zM82 224h1v1h-1zM66 228h1v1h-1zM96 187h1v1h-1zM90 210h1v1h-1zM89 185h1v1h-1zM90 208h1v1h-1zM97 221h1v1h-1zM82 230h1v1h-1zM93 197h1v1h-1zM73 223h1v1h-1zM81 206h1v1h-1zM103 191h1v1h-1zM77 201h1v1h-1zM101 188h1v1h-1zM70 211h1v1h-1zM80 207h1v1h-1zM67 189h1v1h-1zM88 188h1v1h-1zM89 192h1v1h-1zM83 227h1v1h-1zM83 196h1v1h-1zM85 177h1v1h-1zM86 177h1v1h-1zM94 206h1v1h-1zM74 228h1v1h-1zM90 221h1v1h-1zM94 215h1v1h-1zM95 178h1v1h-1zM87 182h1v1h-1zM80 208h1v1h-1zM69 226h1v1h-1zM82 208h1v1h-1zM88 211h1v1h-1zM62 198h1v1h-1zM61 221h1v1h-1zM68 226h1v1h-1zM83 229h1v1h-1zM79 212h1v1h-1zM93 230h1v1h-1zM86 192h1v1h-1zM77 235h1v1h-1zM84 234h1v1h-1zM82 172h1v1h-1zM80 195h1v1h-1zM82 201h1v1h-1zM73 204h1v1h-1zM82 221h1v1h-1zM92 223h1v1h-1zM81 178h1v1h-1zM89 177h1v1h-1zM102 204h1v1h-1zM95 207h1v1h-1zM80 230h1v1h-1zM83 189h1v1h-1zM86 215h1v1h-1zM84 230h1v1h-1zM84 210h1v1h-1zM96 195h1v1h-1zM101 227h1v1h-1zM82 222h1v1h-1zM70 225h1v1h-1zM87 222h1v1h-1zM75 203h1v1h-1zM88 215h1v1h-1zM85 179h1v1h-1zM87 226h1v1h-1zM101 180h1v1h-1zM100 227h1v1h-1zM94 195h1v1h-1zM93 176h1v1h-1zM99 195h1v1h-1zM87 199h1v1h-1zM83 221h1v1h-1zM73 228h1v1h-1zM95 193h1v1h-1zM79 189h1v1h-1zM75 198h1v1h-1zM111 203h1v1h-1zM76 210h1v1h-1zM91 199h1v1h-1zM95 202h1v1h-1zM72 194h1v1h-1zM89 198h1v1h-1zM95 206h1v1h-1zM79 197h1v1h-1zM84 210h1v1h-1zM87 235h1v1h-1zM77 184h1v1h-1zM99 229h1v1h-1zM68 176h1v1h-1zM79 221h1v1h-1zM96 214h1v1h-1zM99 215h1v1h-1zM84 208h1v1h-1zM77 230h1v1h-1zM90 216h1v1h-1zM76 207h1v1h-1zM91 203h1v1h-1zM93 230h1v1h-1zM75 176h1v1h-1zM90 232h1v1h-1zM58 195h1v1h-1zM75 235h1v1h-1zM75 199h1v1h-1zM88 231h1v1h-1zM100 213h1v1h-1zM86 171h1v1h-1zM86 233h1v1h-1zM91 177h1v1h-1zM89 187h1v1h-1zM89 174h1v1h-1zM79 223h1v1h-1zM81 229h1v1h-1zM95 224h1v1h-1zM84 222h1v1h-1zM101 233h1v1h-1zM81 192h1v1h-1zM94 197h1v1h-1zM94 227h1v1h-1zM75 228h1v1h-1zM82 177h1v1h-1zM71 187h1v1h-1zM81 215h1v1h-1zM91 176h1v1h-1zM72 201h1v1h-1zM86 222h1v1h-1zM87 192h1v1h-1zM94 223h1v1h-1zM106 201h1v1h-1zM89 188h1v1h-1zM84 235h1v1h-1zM97 210h1v1h-1zM85 182h1v1h-1zM68 217h1v1h-1zM88 190h1v1h-1zM83 233h1v1h-1zM76 181h1v1h-1zM83 233h1v1h-1zM83 170h1v1h-1zM88 186h1v1h-1zM100 186h1v1h-1zM88 174h1v1h-1zM92 187h1v1h-1zM88 189h1v1h-1zM98 199h1v1h-1zM80 216h1v1h-1zM94 231h1v1h-1zM82 195h1v1h-1zM95 207h1v1h-1zM99 202h1v1h-1zM75 231h1v1h-1zM80 233h1v1h-1zM72 195h1v1h-1zM84 223h1v1h-1zM85 233h1v1h-1zM70 217h1v1h-1zM87 225h1v1h-1zM78 179h1v1h-1zM92 196h1v1h-1zM79 232h1v1h-1zM85 219h1v1h-1zM68 194h1v1h-1zM78 219h1v1h-1zM68 232h1v1h-1zM70 207h1v1h-1zM110 203h1v1h-1zM84 231h1v1h-1zM84 172h1v1h-1zM96 205h1v1h-1zM80 207h1v1h-1zM98 170h1v1h-1zM87 233h1v1h-1zM100 190h1v1h-1zM84 191h1v1h-1zM80 200h1v1h-1zM83 186h1v1h-1zM90 186h1v1h-1zM87 175h1v1h-1zM98 200h1v1h-1zM89 185h1v1h-1zM88 229h1v1h-1zM77 176h1v1h-1zM95 182h1v1h-1zM67 175h1v1h-1zM86 206h1v1h-1zM88 222h1v1h-1zM95 216h1v1h-1zM88 233h1v1h-1zM74 230h1v1h-1zM81 233h1v1h-1zM97 212h1v1h-1zM82 234h1v1h-1zM85 224h1v1h-1zM83 233h1v1h-1zM88 185h1v1h-1zM73 227h1v1h-1zM107 214h1v1h-1zM66 196h1v1h-1zM81 204h1v1h-1zM81 187h1v1h-1zM97 189h1v1h-1zM89 181h1v1h-1zM85 225h1v1h-1zM80 219h1v1h-1zM95 210h1v1h-1zM61 235h1v1h-1zM96 229h1v1h-1zM75 214h1v1h-1zM89 233h1v1h-1zM77 214h1v1h-1zM86 165h1v1h-1zM85 209h1v1h-1zM91 191h1v1h-1zM96 227h1v1h-1zM77 218h1v1h-1zM86 181h1v1h-1zM101 172h1v1h-1zM86 165h1v1h-1zM92 206h1v1h-1zM83 189h1v1h-1zM71 235h1v1h-1zM105 204h1v1h-1zM72 230h1v1h-1zM88 170h1v1h-1zM64 211h1v1h-1zM94 216h1v1h-1zM79 190h1v1h-1zM82 198h1v1h-1zM101 232h1v1h-1zM74 181h1v1h-1zM63 196h1v1h-1zM91 222h1v1h-1zM96 194h1v1h-1zM98 229h1v1h-1zM83 215h1v1h-1zM89 197h1v1h-1zM86 188h1v1h-1zM72 193h1v1h-1zM79 224h1v1h-1zM104 234h1v1h-1zM73 235h1v1h-1zM89 209h1v1h-1zM84 198h1v1h-1zM75 234h1v1h-1zM100 182h1v1h-1zM91 222h1v1h-1zM80 214h1v1h-1zM97 205h1v1h-1zM78 231h1v1h-1zM90 224h1v1h-1zM98 232h1v1h-1zM90 230h1v1h-1zM95 204h1v1h-1zM69 188h1v1h-1zM86 188h1v1h-1zM73 193h1v1h-1zM97 185h1v1h-1zM95 181h1v1h-1zM106 174h1v1h-1zM86 212h1v1h-1zM91 199h1v1h-1zM63 204h1v1h-1zM90 204h1v1h-1zM95 189h1v1h-1zM78 202h1v1h-1zM76 211h1v1h-1zM80 195h1v1h-1zM95 232h1v1h-1zM80 195h1v1h-1zM79 205h1v1h-1zM83 194h1v1h-1zM89 219h1v1h-1zM97 204h1v1h-1zM85 180h1v1h-1zM67 214h1v1h-1zM94 233h1v1h-1zM105 195h1v1h-1zM88 208h1v1h-1zM111 221h1v1h-1zM86 206h1v1h-1zM83 190h1v1h-1zM85 185h1v1h-1zM77 233h1v1h-1zM110 175h1v1h-1zM95 210h1v1h-1zM88 220h1v1h-1zM88 220h1v1h-1zM89 215h1v1h-1zM68 184h1v1h-1zM85 173h1v1h-1zM77 204h1v1h-1zM95 219h1v1h-1zM76 232h1v1h-1zM98 197h1v1h-1zM94 208h1v1h-1zM88 198h1v1h-1zM89 225h1v1h-1zM105 183h1v1h-1zM88 225h1v1h-1zM91 173h1v1h-1zM90 213h1v1h-1zM97 194h1v1h-1zM99 213h1v1h-1zM70 210h1v1h-1zM94 202h1v1h-1zM91 231h1v1h-1zM85 215h1v1h-1zM80 193h1v1h-1zM82 233h1v1h-1zM99 234h1v1h-1zM85 176h1v1h-1zM83 173h1v1h-1zM97 180h1v1h-1zM80 203h1v1h-1zM87 185h1v1h-1zM102 214h1v1h-1zM88 210h1v1h-1zM95 178h1v1h-1zM89 198h1v1h-1zM111 202h1v1h-1zM70 230h1v1h-1zM62 235h1v1h-1zM80 233h1v1h-1zM90 206h1v1h-1zM92 193h1v1h-1zM96 232h1v1h-1zM90 220h1v1h-1zM64 204h1v1h-1zM97 191h1v1h-1zM92 220h1v1h-1zM96 190h1v1h-1zM92 216h1v1h-1zM85 208h1v1h-1zM89 193h1v1h-1zM96 221h1v1h-1zM93 202h1v1h-1zM83 188h1v1h-1zM72 205h1v1h-1zM87 190h1v1h-1zM84 187h1v1h-1zM71 224h1v1h-1zM95 192h1v1h-1zM87 187h1v1h-1zM90 169h1v1h-1zM75 185h1v1h-1zM81 232h1v1h-1zM86 196h1v1h-1zM87 209h1v1h-1zM85 235h1v1h-1zM82 197h1v1h-1zM85 211h1v1h-1zM95 218h1v1h-1zM79 223h1v1h-1zM92 181h1v1h-1zM94 184h1v1h-1zM88 197h1v1h-1zM99 190h1v1h-1zM110 199h1v1h-1zM86 168h1v1h-1zM109 179h1v1h-1zM78 217h1v1h-1zM72 194h1v1h-1zM58 204h1v1h-1zM89 231h1v1h-1zM58 233h1v1h-1zM85 194h1v1h-1zM69 182h1v1h-1zM105 189h1v1h-1zM87 178h1v1h-1zM92 185h1v1h-1zM111 184h1v1h-1zM91 225h1v1h-1zM79 197h1v1h-1zM79 209h1v1h-1zM72 200h1v1h-1zM97 234h1v1h-1zM87 229h1v1h-1zM95 185h1v1h-1zM82 191h1v1h-1zM85 176h1v1h-1zM81 184h1v1h-1zM68 221h1v1h-1zM76 176h1v1h-1zM101 192h1v1h-1zM82 195h1v1h-1zM94 203h1v1h-1zM93 187h1v1h-1zM108 183h1v1h-1zM81 210h1v1h-1zM87 204h1v1h-1zM73 233h1v1h-1zM95 206h1v1h-1zM97 207h1v1h-1zM81 212h1v1h-1zM88 203h1v1h-1zM85 201h1v1h-1zM77 233h1v1h-1zM79 208h1v1h-1zM77 219h1v1h-1zM86 186h1v1h-1zM88 197h1v1h-1zM91 202h1v1h-1zM77 235h1v1h-1zM96 232h1v1h-1zM61 199h1v1h-1zM80 231h1v1h-1zM67 220h1v1h-1zM84 188h1v1h-1zM102 184h1v1h-1zM77 201h1v1h-1zM97 209h1v1h-1zM89 205h1v1h-1zM64 217h1v1h-1zM96 230h1v1h-1zM85 224h1v1h-1zM82 183h1v1h-1zM64 220h1v1h-1zM74 199h1v1h-1zM81 222h1v1h-1zM99 179h1v1h-1zM97 232h1v1h-1zM102 206h1v1h-1zM85 178h1v1h-1zM86 232h1v1h-1zM86 191h1v1h-1zM98 186h1v1h-1zM99 176h1v1h-1zM90 221h1v1h-1zM92 208h1v1h-1zM82 194h1v1h-1zM92 207h1v1h-1zM100 231h1v1h-1zM85 192h1v1h-1zM69 202h1v1h-1zM99 214h1v1h-1zM77 188h1v1h-1zM84 185h1v1h-1zM88 188h1v1h-1zM81 198h1v1h-1zM87 223h1v1h-1zM91 218h1v1h-1zM99 231h1v1h-1zM94 189h1v1h-1zM87 175h1v1h-1zM87 191h1v1h-1zM85 226h1v1h-1zM97 232h1v1h-1zM105 232h1v1h-1zM83 199h1v1h-1zM73 233h1v1h-1zM80 198h1v1h-1zM83 209h1v1h-1zM76 226h1v1h-1zM78 231h1v1h-1zM90 226h1v1h-1zM85 182h1v1h-1zM76 224h1v1h-1zM94 189h1v1h-1zM88 219h1v1h-1zM85 222h1v1h-1zM93 204h1v1h-1zM76 228h1v1h-1zM84 235h1v1h-1zM75 166h1v1h-1zM88 184h1v1h-1zM83 234h1v1h-1zM99 197h1v1h-1zM87 213h1v1h-1zM85 211h1v1h-1zM93 208h1v1h-1zM75 222h1v1h-1zM89 189h1v1h-1zM69 231h1v1h-1zM79 167h1v1h-1zM86 170h1v1h-1zM81 235h1v1h-1zM90 186h1v1h-1zM93 235h1v1h-1zM91 223h1v1h-1zM67 182h1v1h-1zM85 234h1v1h-1zM82 231h1v1h-1zM90 224h1v1h-1zM80 221h1v1h-1zM99 202h1v1h-1zM66 177h1v1h-1zM76 209h1v1h-1zM100 182h1v1h-1zM76 217h1v1h-1zM83 170h1v1h-1zM90 212h1v1h-1zM91 169h1v1h-1zM81 183h1v1h-1zM88 215h1v1h-1zM86 230h1v1h-1zM94 196h1v1h-1zM71 189h1v1h-1zM77 198h1v1h-1zM102 177h1v1h-1zM79 202h1v1h-1zM81 221h1v1h-1zM80 169h1v1h-1zM99 208h1v1h-1zM79 199h1v1h-1zM89 209h1v1h-1zM82 180h1v1h-1zM98 217h1v1h-1zM94 209h1v1h-1zM89 201h1v1h-1zM95 229h1v1h-1zM81 195h1v1h-1zM93 213h1v1h-1zM80 233h1v1h-1zM85 223h1v1h-1zM101 214h1v1h-1zM102 179h1v1h-1zM76 212h1v1h-1zM94 227h1v1h-1zM84 204h1v1h-1zM81 231h1v1h-1zM83 177h1v1h-1zM84 221h1v1h-1zM76 200h1v1h-1zM93 194h1v1h-1zM72 204h1v1h-1zM83 185h1v1h-1zM94 189h1v1h-1zM88 200h1v1h-1zM97 187h1v1h-1zM75 177h1v1h-1zM90 233h1v1h-1zM81 235h1v1h-1zM91 184h1v1h-1zM89 229h1v1h-1zM80 193h1v1h-1zM94 194h1v1h-1zM81 167h1v1h-1zM72 228h1v1h-1zM80 201h1v1h-1zM81 189h1v1h-1zM91 180h1v1h-1zM88 231h1v1h-1zM90 209h1v1h-1zM89 219h1v1h-1zM76 199h1v1h-1zM76 193h1v1h-1zM90 211h1v1h-1zM90 180h1v1h-1zM95 181h1v1h-1zM74 215h1v1h-1zM95 198h1v1h-1zM93 201h1v1h-1zM88 232h1v1h-1zM81 171h1v1h-1zM81 211h1v1h-1zM92 177h1v1h-1zM79 235h1v1h-1zM67 215h1v1h-1zM97 182h1v1h-1zM94 179h1v1h-1zM89 222h1v1h-1zM90 233h1v1h-1zM104 198h1v1h-1zM92 230h1v1h-1zM64 223h1v1h-1zM79 213h1v1h-1zM70 214h1v1h-1zM95 232h1v1h-1zM93 230h1v1h-1zM79 231h1v1h-1zM91 217h1v1h-1zM86 221h1v1h-1zM88 206h1v1h-1zM75 184h1v1h-1zM95 174h1v1h-1zM83 192h1v1h-1zM73 185h1v1h-1zM92 179h1v1h-1zM86 232h1v1h-1zM87 215h1v1h-1zM83 206h1v1h-1zM88 209h1v1h-1zM87 211h1v1h-1zM100 210h1v1h-1zM82 196h1v1h-1zM100 218h1v1h-1zM72 197h1v1h-1zM93 170h1v1h-1zM90 215h1v1h-1zM92 200h1v1h-1zM98 180h1v1h-1zM98 228h1v1h-1zM84 204h1v1h-1zM96 184h1v1h-1zM112 188h1v1h-1zM101 191h1v1h-1zM79 195h1v1h-1zM81 211h1v1h-1zM79 230h1v1h-1zM74 215h1v1h-1zM76 198h1v1h-1zM86 208h1v1h-1zM92 199h1v1h-1zM79 184h1v1h-1zM71 207h1v1h-1zM95 215h1v1h-1zM84 217h1v1h-1zM64 183h1v1h-1zM95 202h1v1h-1zM82 220h1v1h-1zM88 228h1v1h-1zM86 229h1v1h-1zM94 209h1v1h-1zM104 187h1v1h-1zM63 235h1v1h-1zM72 178h1v1h-1zM71 181h1v1h-1zM90 181h1v1h-1zM94 194h1v1h-1zM61 208h1v1h-1zM85 206h1v1h-1zM74 203h1v1h-1zM99 199h1v1h-1zM84 230h1v1h-1zM67 210h1v1h-1zM84 197h1v1h-1zM76 189h1v1h-1zM114 207h1v1h-1zM68 211h1v1h-1zM75 230h1v1h-1zM96 180h1v1h-1zM84 201h1v1h-1zM92 230h1v1h-1zM73 194h1v1h-1zM88 220h1v1h-1zM88 181h1v1h-1zM85 218h1v1h-1zM82 232h1v1h-1zM83 233h1v1h-1zM101 211h1v1h-1zM79 228h1v1h-1zM90 186h1v1h-1zM63 215h1v1h-1zM108 177h1v1h-1zM90 180h1v1h-1zM90 229h1v1h-1zM79 183h1v1h-1zM80 229h1v1h-1zM71 186h1v1h-1zM84 191h1v1h-1zM93 189h1v1h-1zM81 214h1v1h-1zM88 211h1v1h-1zM75 181h1v1h-1zM83 222h1v1h-1zM75 199h1v1h-1zM69 180h1v1h-1zM91 165h1v1h-1zM77 174h1v1h-1zM91 227h1v1h-1zM93 215h1v1h-1zM83 200h1v1h-1zM75 205h1v1h-1zM75 222h1v1h-1zM86 234h1v1h-1zM91 192h1v1h-1zM96 187h1v1h-1zM87 204h1v1h-1zM95 203h1v1h-1zM74 227h1v1h-1zM107 216h1v1h-1zM83 222h1v1h-1zM72 204h1v1h-1zM58 184h1v1h-1zM65 231h1v1h-1zM82 170h1v1h-1zM104 228h1v1h-1zM61 187h1v1h-1zM73 230h1v1h-1zM53 230h1v1h-1zM77 195h1v1h-1zM79 182h1v1h-1zM84 193h1v1h-1zM73 201h1v1h-1zM75 205h1v1h-1zM77 207h1v1h-1zM75 195h1v1h-1zM62 173h1v1h-1zM80 189h1v1h-1zM68 232h1v1h-1zM67 225h1v1h-1zM48 202h1v1h-1zM84 177h1v1h-1zM78 202h1v1h-1zM65 209h1v1h-1zM72 219h1v1h-1zM82 213h1v1h-1zM78 214h1v1h-1zM73 203h1v1h-1zM64 197h1v1h-1zM70 233h1v1h-1zM76 204h1v1h-1zM71 181h1v1h-1zM70 190h1v1h-1zM77 181h1v1h-1zM49 214h1v1h-1zM76 214h1v1h-1zM69 227h1v1h-1zM81 204h1v1h-1zM78 198h1v1h-1zM79 186h1v1h-1zM77 210h1v1h-1zM76 209h1v1h-1zM64 202h1v1h-1zM61 216h1v1h-1zM75 198h1v1h-1zM68 231h1v1h-1zM83 200h1v1h-1zM72 223h1v1h-1zM82 206h1v1h-1zM73 195h1v1h-1zM68 221h1v1h-1zM71 198h1v1h-1zM74 201h1v1h-1zM69 219h1v1h-1zM82 173h1v1h-1zM83 202h1v1h-1zM73 192h1v1h-1zM81 213h1v1h-1zM65 175h1v1h-1zM55 231h1v1h-1zM66 219h1v1h-1zM65 211h1v1h-1zM48 226h1v1h-1zM78 193h1v1h-1zM66 174h1v1h-1zM46 194h1v1h-1zM69 181h1v1h-1zM57 202h1v1h-1zM78 172h1v1h-1zM67 223h1v1h-1zM80 173h1v1h-1zM69 217h1v1h-1zM67 232h1v1h-1zM78 185h1v1h-1zM72 185h1v1h-1zM83 232h1v1h-1zM84 182h1v1h-1zM79 196h1v1h-1zM73 190h1v1h-1zM80 231h1v1h-1zM59 174h1v1h-1zM69 177h1v1h-1zM83 210h1v1h-1zM72 226h1v1h-1zM57 191h1v1h-1zM83 234h1v1h-1zM58 182h1v1h-1zM75 202h1v1h-1zM77 186h1v1h-1zM83 177h1v1h-1zM66 212h1v1h-1zM83 194h1v1h-1zM70 226h1v1h-1zM69 215h1v1h-1zM76 183h1v1h-1zM83 199h1v1h-1zM66 226h1v1h-1zM75 175h1v1h-1zM78 198h1v1h-1zM83 204h1v1h-1zM82 212h1v1h-1zM84 176h1v1h-1zM80 192h1v1h-1zM62 214h1v1h-1zM82 201h1v1h-1zM83 173h1v1h-1zM79 232h1v1h-1zM56 226h1v1h-1zM73 232h1v1h-1zM72 215h1v1h-1zM69 198h1v1h-1zM73 195h1v1h-1zM78 186h1v1h-1zM75 201h1v1h-1zM70 228h1v1h-1zM78 198h1v1h-1zM75 175h1v1h-1zM67 210h1v1h-1zM62 195h1v1h-1zM64 195h1v1h-1zM83 181h1v1h-1zM83 176h1v1h-1zM67 234h1v1h-1zM72 208h1v1h-1zM80 173h1v1h-1zM57 212h1v1h-1zM75 196h1v1h-1zM60 234h1v1h-1zM66 206h1v1h-1zM82 235h1v1h-1zM84 233h1v1h-1zM77 178h1v1h-1zM69 230h1v1h-1zM65 232h1v1h-1zM72 216h1v1h-1zM77 232h1v1h-1zM67 220h1v1h-1zM71 227h1v1h-1zM61 192h1v1h-1zM77 184h1v1h-1zM80 196h1v1h-1zM57 219h1v1h-1zM79 213h1v1h-1zM81 195h1v1h-1zM81 235h1v1h-1zM60 212h1v1h-1zM74 199h1v1h-1zM83 193h1v1h-1zM79 173h1v1h-1zM73 200h1v1h-1zM80 200h1v1h-1zM57 233h1v1h-1zM75 210h1v1h-1zM65 218h1v1h-1zM76 182h1v1h-1zM82 219h1v1h-1zM82 210h1v1h-1zM78 198h1v1h-1zM74 175h1v1h-1zM69 219h1v1h-1zM78 178h1v1h-1zM81 226h1v1h-1zM67 192h1v1h-1zM52 200h1v1h-1zM79 216h1v1h-1zM79 174h1v1h-1zM81 201h1v1h-1zM73 224h1v1h-1zM54 205h1v1h-1zM73 214h1v1h-1zM82 222h1v1h-1zM68 234h1v1h-1zM84 225h1v1h-1zM50 203h1v1h-1zM78 182h1v1h-1zM74 223h1v1h-1zM67 207h1v1h-1zM47 190h1v1h-1zM66 194h1v1h-1zM74 214h1v1h-1zM79 232h1v1h-1zM79 235h1v1h-1zM81 190h1v1h-1zM75 187h1v1h-1zM83 235h1v1h-1zM79 177h1v1h-1zM68 207h1v1h-1zM72 203h1v1h-1zM67 212h1v1h-1zM82 193h1v1h-1zM72 185h1v1h-1zM55 215h1v1h-1zM74 216h1v1h-1zM81 214h1v1h-1zM72 179h1v1h-1zM57 226h1v1h-1zM72 206h1v1h-1zM60 193h1v1h-1zM76 206h1v1h-1zM73 212h1v1h-1zM78 210h1v1h-1zM79 232h1v1h-1zM67 194h1v1h-1zM80 180h1v1h-1zM62 197h1v1h-1zM62 203h1v1h-1zM80 214h1v1h-1zM63 219h1v1h-1zM68 210h1v1h-1zM58 234h1v1h-1zM79 178h1v1h-1zM47 215h1v1h-1zM71 177h1v1h-1zM83 188h1v1h-1zM50 218h1v1h-1zM69 188h1v1h-1zM71 229h1v1h-1zM71 228h1v1h-1zM65 217h1v1h-1zM84 180h1v1h-1zM83 216h1v1h-1zM66 181h1v1h-1zM80 229h1v1h-1zM71 210h1v1h-1zM84 179h1v1h-1zM68 206h1v1h-1zM52 225h1v1h-1zM76 194h1v1h-1zM69 194h1v1h-1zM73 198h1v1h-1zM61 210h1v1h-1zM69 224h1v1h-1zM60 200h1v1h-1zM83 185h1v1h-1zM72 215h1v1h-1zM75 202h1v1h-1zM58 206h1v1h-1zM66 191h1v1h-1zM82 227h1v1h-1zM75 191h1v1h-1zM60 221h1v1h-1zM71 231h1v1h-1zM68 183h1v1h-1zM82 214h1v1h-1zM73 227h1v1h-1zM82 223h1v1h-1zM75 224h1v1h-1zM83 191h1v1h-1zM66 227h1v1h-1zM81 195h1v1h-1zM56 225h1v1h-1zM58 181h1v1h-1zM74 199h1v1h-1zM80 221h1v1h-1zM66 233h1v1h-1zM70 226h1v1h-1zM82 180h1v1h-1zM60 230h1v1h-1zM76 200h1v1h-1zM82 173h1v1h-1zM77 233h1v1h-1zM57 232h1v1h-1zM68 235h1v1h-1zM69 181h1v1h-1zM76 196h1v1h-1zM47 226h1v1h-1zM74 232h1v1h-1zM81 178h1v1h-1zM63 234h1v1h-1zM79 175h1v1h-1zM72 194h1v1h-1zM59 231h1v1h-1zM64 228h1v1h-1zM74 235h1v1h-1zM78 189h1v1h-1zM69 227h1v1h-1zM78 190h1v1h-1zM63 225h1v1h-1zM79 207h1v1h-1zM61 228h1v1h-1zM73 196h1v1h-1zM75 200h1v1h-1zM77 184h1v1h-1zM68 232h1v1h-1zM67 179h1v1h-1zM62 213h1v1h-1zM77 190h1v1h-1zM69 234h1v1h-1zM66 232h1v1h-1zM74 234h1v1h-1zM59 188h1v1h-1zM74 173h1v1h-1zM81 182h1v1h-1zM66 216h1v1h-1zM61 200h1v1h-1zM84 222h1v1h-1zM57 180h1v1h-1zM52 227h1v1h-1zM68 208h1v1h-1zM70 178h1v1h-1zM69 208h1v1h-1zM76 192h1v1h-1zM50 228h1v1h-1zM61 232h1v1h-1zM70 228h1v1h-1zM71 204h1v1h-1zM83 189h1v1h-1zM71 176h1v1h-1zM71 172h1v1h-1zM81 178h1v1h-1zM80 212h1v1h-1zM78 223h1v1h-1zM82 233h1v1h-1zM66 184h1v1h-1zM60 192h1v1h-1zM68 210h1v1h-1zM84 186h1v1h-1zM82 233h1v1h-1zM75 180h1v1h-1zM67 176h1v1h-1zM62 235h1v1h-1zM81 192h1v1h-1zM68 199h1v1h-1zM70 219h1v1h-1zM82 191h1v1h-1zM74 210h1v1h-1zM80 185h1v1h-1zM69 185h1v1h-1zM78 215h1v1h-1zM73 192h1v1h-1zM79 206h1v1h-1zM56 216h1v1h-1zM65 175h1v1h-1zM79 178h1v1h-1zM81 197h1v1h-1zM80 209h1v1h-1zM49 212h1v1h-1zM73 208h1v1h-1zM81 187h1v1h-1zM69 196h1v1h-1zM71 189h1v1h-1zM65 228h1v1h-1zM65 187h1v1h-1zM77 184h1v1h-1zM66 174h1v1h-1zM73 177h1v1h-1zM63 229h1v1h-1zM82 203h1v1h-1zM82 199h1v1h-1zM66 203h1v1h-1zM73 230h1v1h-1zM69 203h1v1h-1zM73 180h1v1h-1zM80 212h1v1h-1zM71 184h1v1h-1zM57 183h1v1h-1zM64 203h1v1h-1zM62 188h1v1h-1zM81 230h1v1h-1zM80 180h1v1h-1zM83 193h1v1h-1zM81 203h1v1h-1zM74 226h1v1h-1zM84 187h1v1h-1zM77 183h1v1h-1zM82 185h1v1h-1zM79 187h1v1h-1zM49 214h1v1h-1zM74 192h1v1h-1zM81 175h1v1h-1zM67 208h1v1h-1zM64 185h1v1h-1zM75 189h1v1h-1zM55 197h1v1h-1zM62 181h1v1h-1zM79 200h1v1h-1zM64 213h1v1h-1zM67 189h1v1h-1zM74 188h1v1h-1zM61 235h1v1h-1zM72 193h1v1h-1zM84 172h1v1h-1zM79 178h1v1h-1zM75 234h1v1h-1zM77 198h1v1h-1zM75 197h1v1h-1zM79 173h1v1h-1zM58 235h1v1h-1zM76 229h1v1h-1zM56 210h1v1h-1zM79 208h1v1h-1zM84 194h1v1h-1zM76 211h1v1h-1zM76 183h1v1h-1zM83 208h1v1h-1zM79 196h1v1h-1zM75 179h1v1h-1zM59 213h1v1h-1zM68 215h1v1h-1zM82 173h1v1h-1zM82 234h1v1h-1zM69 211h1v1h-1zM79 175h1v1h-1zM82 193h1v1h-1zM70 228h1v1h-1zM81 207h1v1h-1zM62 179h1v1h-1zM75 230h1v1h-1zM75 193h1v1h-1zM83 178h1v1h-1zM80 192h1v1h-1zM75 173h1v1h-1zM79 210h1v1h-1zM75 172h1v1h-1zM77 235h1v1h-1zM83 212h1v1h-1zM79 209h1v1h-1zM60 233h1v1h-1zM60 224h1v1h-1zM72 232h1v1h-1zM79 188h1v1h-1zM73 232h1v1h-1zM48 216h1v1h-1zM79 216h1v1h-1zM65 208h1v1h-1zM72 235h1v1h-1zM59 201h1v1h-1zM65 215h1v1h-1zM79 194h1v1h-1zM54 196h1v1h-1zM68 189h1v1h-1zM73 229h1v1h-1zM76 175h1v1h-1zM80 206h1v1h-1zM65 224h1v1h-1zM51 234h1v1h-1zM71 230h1v1h-1zM91 227h1v1h-1zM103 172h1v1h-1zM92 182h1v1h-1zM100 202h1v1h-1zM96 218h1v1h-1zM94 189h1v1h-1zM109 234h1v1h-1zM94 217h1v1h-1zM101 193h1v1h-1zM97 205h1v1h-1zM91 211h1v1h-1zM102 222h1v1h-1zM108 188h1v1h-1zM97 215h1v1h-1zM104 210h1v1h-1zM99 222h1v1h-1zM100 176h1v1h-1zM113 201h1v1h-1zM113 226h1v1h-1zM99 211h1v1h-1zM94 184h1v1h-1zM103 185h1v1h-1zM99 234h1v1h-1zM90 232h1v1h-1zM94 181h1v1h-1zM90 193h1v1h-1zM95 225h1v1h-1zM97 197h1v1h-1zM95 204h1v1h-1zM95 201h1v1h-1zM92 200h1v1h-1zM93 171h1v1h-1zM102 224h1v1h-1zM103 214h1v1h-1zM107 172h1v1h-1zM110 205h1v1h-1zM88 193h1v1h-1zM97 233h1v1h-1zM88 185h1v1h-1zM104 188h1v1h-1zM96 178h1v1h-1zM101 199h1v1h-1zM97 234h1v1h-1zM103 229h1v1h-1zM103 223h1v1h-1zM110 215h1v1h-1zM92 228h1v1h-1zM96 212h1v1h-1zM93 222h1v1h-1zM101 170h1v1h-1zM99 210h1v1h-1zM113 211h1v1h-1zM90 203h1v1h-1zM96 227h1v1h-1zM98 170h1v1h-1zM92 197h1v1h-1zM107 233h1v1h-1zM97 172h1v1h-1zM90 182h1v1h-1zM96 196h1v1h-1zM105 226h1v1h-1zM90 200h1v1h-1zM94 211h1v1h-1zM103 190h1v1h-1zM103 204h1v1h-1zM94 209h1v1h-1zM98 212h1v1h-1zM94 196h1v1h-1zM106 206h1v1h-1zM94 215h1v1h-1zM104 183h1v1h-1zM99 229h1v1h-1zM98 199h1v1h-1zM91 206h1v1h-1zM93 206h1v1h-1zM102 226h1v1h-1zM97 221h1v1h-1zM101 218h1v1h-1zM99 205h1v1h-1zM108 170h1v1h-1zM90 185h1v1h-1zM108 205h1v1h-1zM93 171h1v1h-1zM98 205h1v1h-1zM88 220h1v1h-1zM107 214h1v1h-1zM94 195h1v1h-1zM95 224h1v1h-1zM89 185h1v1h-1zM102 192h1v1h-1zM104 228h1v1h-1zM104 204h1v1h-1zM91 173h1v1h-1zM97 178h1v1h-1zM101 169h1v1h-1zM96 218h1v1h-1zM113 194h1v1h-1zM93 222h1v1h-1zM97 228h1v1h-1zM92 235h1v1h-1zM94 174h1v1h-1zM90 190h1v1h-1zM99 235h1v1h-1zM98 174h1v1h-1zM109 205h1v1h-1zM102 172h1v1h-1zM92 187h1v1h-1zM88 195h1v1h-1zM90 209h1v1h-1zM110 229h1v1h-1zM90 205h1v1h-1zM96 206h1v1h-1zM97 209h1v1h-1zM103 232h1v1h-1zM102 220h1v1h-1zM105 204h1v1h-1zM105 208h1v1h-1zM90 198h1v1h-1zM94 199h1v1h-1zM95 194h1v1h-1zM94 195h1v1h-1zM88 202h1v1h-1zM97 226h1v1h-1zM92 188h1v1h-1zM96 232h1v1h-1zM112 175h1v1h-1zM91 234h1v1h-1zM89 232h1v1h-1zM99 212h1v1h-1zM95 199h1v1h-1zM106 184h1v1h-1zM106 216h1v1h-1zM106 182h1v1h-1zM91 179h1v1h-1zM111 229h1v1h-1zM97 231h1v1h-1zM104 172h1v1h-1zM98 235h1v1h-1zM110 216h1v1h-1zM105 174h1v1h-1zM95 198h1v1h-1zM92 191h1v1h-1zM99 220h1v1h-1zM104 182h1v1h-1zM97 178h1v1h-1zM92 168h1v1h-1zM105 213h1v1h-1zM90 229h1v1h-1zM91 208h1v1h-1zM96 212h1v1h-1zM92 190h1v1h-1zM89 182h1v1h-1zM104 221h1v1h-1zM98 193h1v1h-1zM101 215h1v1h-1zM104 235h1v1h-1zM98 180h1v1h-1zM92 171h1v1h-1zM97 195h1v1h-1zM89 195h1v1h-1zM91 171h1v1h-1zM101 206h1v1h-1zM91 235h1v1h-1zM106 186h1v1h-1zM100 235h1v1h-1zM89 235h1v1h-1zM101 181h1v1h-1zM91 191h1v1h-1zM92 182h1v1h-1zM96 193h1v1h-1zM90 219h1v1h-1zM105 229h1v1h-1zM96 205h1v1h-1zM94 177h1v1h-1zM92 189h1v1h-1zM108 201h1v1h-1zM116 171h1v1h-1zM102 200h1v1h-1zM102 208h1v1h-1zM93 227h1v1h-1zM94 199h1v1h-1zM90 235h1v1h-1zM115 208h1v1h-1zM97 227h1v1h-1zM99 185h1v1h-1zM92 207h1v1h-1zM90 193h1v1h-1zM90 170h1v1h-1zM93 200h1v1h-1zM100 214h1v1h-1zM93 209h1v1h-1zM89 170h1v1h-1zM111 222h1v1h-1zM97 200h1v1h-1zM93 223h1v1h-1zM90 174h1v1h-1zM107 223h1v1h-1zM90 196h1v1h-1zM91 188h1v1h-1zM103 202h1v1h-1zM109 207h1v1h-1zM92 174h1v1h-1zM92 232h1v1h-1zM101 187h1v1h-1zM89 169h1v1h-1zM88 204h1v1h-1zM99 178h1v1h-1zM101 231h1v1h-1zM93 185h1v1h-1zM108 225h1v1h-1zM110 228h1v1h-1zM101 169h1v1h-1zM102 204h1v1h-1zM113 202h1v1h-1zM96 189h1v1h-1zM92 176h1v1h-1zM104 201h1v1h-1zM107 179h1v1h-1zM91 212h1v1h-1zM98 182h1v1h-1zM91 199h1v1h-1zM104 203h1v1h-1zM98 184h1v1h-1zM111 173h1v1h-1zM93 215h1v1h-1zM104 192h1v1h-1zM95 185h1v1h-1zM105 180h1v1h-1zM90 192h1v1h-1zM92 232h1v1h-1zM97 212h1v1h-1zM95 214h1v1h-1zM89 193h1v1h-1zM95 179h1v1h-1zM104 182h1v1h-1zM94 198h1v1h-1zM95 216h1v1h-1zM88 180h1v1h-1zM101 203h1v1h-1zM105 204h1v1h-1zM90 195h1v1h-1zM109 234h1v1h-1zM99 169h1v1h-1zM94 233h1v1h-1zM106 194h1v1h-1zM95 208h1v1h-1zM96 198h1v1h-1zM93 197h1v1h-1zM101 178h1v1h-1zM95 223h1v1h-1zM110 168h1v1h-1zM110 216h1v1h-1zM92 199h1v1h-1zM92 227h1v1h-1zM112 183h1v1h-1zM92 229h1v1h-1zM103 235h1v1h-1zM87 235h1v1h-1zM67 234h1v1h-1zM78 232h1v1h-1zM92 230h1v1h-1zM82 231h1v1h-1zM89 231h1v1h-1zM82 232h1v1h-1zM99 235h1v1h-1zM84 230h1v1h-1zM82 230h1v1h-1zM90 235h1v1h-1zM80 232h1v1h-1zM96 229h1v1h-1zM101 235h1v1h-1zM84 230h1v1h-1zM72 234h1v1h-1zM73 232h1v1h-1zM95 233h1v1h-1zM64 234h1v1h-1zM92 233h1v1h-1zM100 230h1v1h-1zM85 234h1v1h-1zM81 231h1v1h-1zM96 234h1v1h-1zM87 231h1v1h-1zM74 229h1v1h-1zM85 232h1v1h-1zM69 231h1v1h-1zM92 229h1v1h-1zM94 229h1v1h-1zM70 230h1v1h-1zM89 231h1v1h-1zM77 233h1v1h-1zM98 229h1v1h-1zM76 232h1v1h-1zM102 233h1v1h-1zM84 233h1v1h-1zM86 234h1v1h-1zM83 230h1v1h-1zM78 229h1v1h-1zM88 230h1v1h-1zM69 232h1v1h-1zM88 232h1v1h-1zM94 233h1v1h-1zM73 233h1v1h-1zM83 231h1v1h-1zM112 230h1v1h-1zM96 234h1v1h-1zM79 232h1v1h-1zM88 231h1v1h-1zM97 232h1v1h-1zM85 230h1v1h-1zM87 233h1v1h-1zM78 234h1v1h-1zM86 230h1v1h-1zM110 233h1v1h-1zM66 232h1v1h-1zM98 229h1v1h-1zM76 232h1v1h-1zM97 234h1v1h-1zM71 231h1v1h-1zM101 231h1v1h-1zM75 234h1v1h-1zM79 233h1v1h-1zM90 234h1v1h-1zM88 235h1v1h-1zM66 234h1v1h-1zM97 231h1v1h-1zM82 231h1v1h-1zM79 232h1v1h-1zM94 230h1v1h-1zM72 231h1v1h-1zM81 231h1v1h-1zM105 234h1v1h-1zM84 234h1v1h-1zM94 234h1v1h-1zM90 234h1v1h-1zM93 234h1v1h-1zM99 234h1v1h-1zM100 233h1v1h-1zM98 235h1v1h-1zM103 235h1v1h-1zM91 234h1v1h-1zM87 235h1v1h-1zM98 233h1v1h-1zM75 232h1v1h-1zM89 230h1v1h-1zM70 235h1v1h-1zM103 230h1v1h-1zM76 230h1v1h-1zM65 231h1v1h-1zM78 233h1v1h-1zM83 234h1v1h-1zM71 235h1v1h-1zM101 230h1v1h-1zM84 234h1v1h-1zM81 229h1v1h-1zM73 233h1v1h-1zM99 232h1v1h-1zM97 233h1v1h-1zM103 230h1v1h-1zM97 233h1v1h-1zM72 232h1v1h-1zM86 230h1v1h-1zM80 233h1v1h-1zM78 229h1v1h-1zM90 230h1v1h-1zM86 233h1v1h-1zM83 232h1v1h-1zM100 152h1v1h-1zM121 165h1v1h-1zM125 165h1v1h-1zM123 172h1v1h-1zM118 168h1v1h-1zM149 200h1v1h-1zM117 228h1v1h-1z" fill="#000"/><path d="M319.45 49.35V238.8M507.3 49.35V238.8" stroke="#111" stroke-width="1.55" fill="none"/><path d="M318.7 50.1H508.05" stroke="#111" stroke-width="1.5" fill="none"/><path d="M318.7 238H508.05" stroke="#111" stroke-width="1.6" fill="none"/><line x1="390.1" y1="50.1" x2="390.1" y2="238" stroke="#111" stroke-width="1.5"/><line x1="319.45" y1="161.3" x2="507.3" y2="161.3" stroke="#111" stroke-width="1.5"/><path d="M320 238v5.9M319.45 237.1h-5.9M334.03 238v3.3M319.45 223.12h-3.3M342.23 238v3.3M319.45 214.95h-3.3M348.06 238v3.3M319.45 209.15h-3.3M352.57 238v3.3M319.45 204.65h-3.3M356.26 238v3.3M319.45 200.97h-3.3M359.38 238v3.3M319.45 197.86h-3.3M362.08 238v3.3M319.45 195.17h-3.3M364.47 238v3.3M319.45 192.79h-3.3M366.6 238v5.9M319.45 190.67h-5.9M380.63 238v3.3M319.45 176.69h-3.3M388.83 238v3.3M319.45 168.52h-3.3M394.66 238v3.3M319.45 162.72h-3.3M399.17 238v3.3M319.45 158.22h-3.3M402.86 238v3.3M319.45 154.54h-3.3M405.98 238v3.3M319.45 151.43h-3.3M408.68 238v3.3M319.45 148.74h-3.3M411.07 238v3.3M319.45 146.36h-3.3M413.2 238v5.9M319.45 144.24h-5.9M427.23 238v3.3M319.45 130.26h-3.3M435.43 238v3.3M319.45 122.09h-3.3M441.26 238v3.3M319.45 116.29h-3.3M445.77 238v3.3M319.45 111.79h-3.3M449.46 238v3.3M319.45 108.11h-3.3M452.58 238v3.3M319.45 105h-3.3M455.28 238v3.3M319.45 102.31h-3.3M457.67 238v3.3M319.45 99.93h-3.3M459.8 238v5.9M319.45 97.81h-5.9M473.83 238v3.3M319.45 83.83h-3.3M482.03 238v3.3M319.45 75.66h-3.3M487.86 238v3.3M319.45 69.86h-3.3M492.37 238v3.3M319.45 65.36h-3.3M496.06 238v3.3M319.45 61.68h-3.3M499.18 238v3.3M319.45 58.57h-3.3M501.88 238v3.3M319.45 55.88h-3.3M504.27 238v3.3M319.45 53.5h-3.3M506.4 238v5.9M319.45 51.38h-5.9" stroke="#111" stroke-width="1.3" fill="none"/><g transform="translate(319.5,264.6)"><path d="M-8.8 0V-12.6L-11.3 -9.85" fill="none" stroke="#000" stroke-width="1.75" stroke-linejoin="round"/><text class="T0" transform="scale(0.79,1)" x="0" y="0" text-anchor="middle">0</text><text class="T" transform="scale(0.84,1)" x="5.48" y="-6.8">0</text></g><g transform="translate(365.6,264.6)"><path d="M-8.8 0V-12.6L-11.3 -9.85" fill="none" stroke="#000" stroke-width="1.75" stroke-linejoin="round"/><text class="T0" transform="scale(0.79,1)" x="0" y="0" text-anchor="middle">0</text><path d="M9.6 -6.8V-19L7.5 -16.69" fill="none" stroke="#000" stroke-width="1.75" stroke-linejoin="round"/></g><g transform="translate(412.4,264.6)"><path d="M-8.8 0V-12.6L-11.3 -9.85" fill="none" stroke="#000" stroke-width="1.75" stroke-linejoin="round"/><text class="T0" transform="scale(0.79,1)" x="0" y="0" text-anchor="middle">0</text><text class="T" transform="scale(0.84,1)" x="5.48" y="-6.8">2</text></g><g transform="translate(458,264.6)"><path d="M-8.8 0V-12.6L-11.3 -9.85" fill="none" stroke="#000" stroke-width="1.75" stroke-linejoin="round"/><text class="T0" transform="scale(0.79,1)" x="0" y="0" text-anchor="middle">0</text><text class="T" transform="scale(0.84,1)" x="5.48" y="-6.8">3</text></g><g transform="translate(505.1,264.6)"><path d="M-8.8 0V-12.6L-11.3 -9.85" fill="none" stroke="#000" stroke-width="1.75" stroke-linejoin="round"/><text class="T0" transform="scale(0.79,1)" x="0" y="0" text-anchor="middle">0</text><text class="T" transform="scale(0.84,1)" x="5.48" y="-6.8">4</text></g><g transform="translate(308.25,231.9) rotate(-90)"><path d="M-9.1 0V-12.6L-11.6 -9.85" fill="none" stroke="#000" stroke-width="1.75" stroke-linejoin="round"/><text class="T0" transform="scale(0.79,1)" x="-1.27" y="0" text-anchor="middle">0</text><text class="T" transform="scale(0.84,1)" x="7.38" y="-6.8">0</text></g><g transform="translate(308.25,190.67) rotate(-90)"><path d="M-9.1 0V-12.6L-11.6 -9.85" fill="none" stroke="#000" stroke-width="1.75" stroke-linejoin="round"/><text class="T0" transform="scale(0.79,1)" x="-1.27" y="0" text-anchor="middle">0</text><path d="M11.2 -6.8V-19L9.1 -16.69" fill="none" stroke="#000" stroke-width="1.75" stroke-linejoin="round"/></g><g transform="translate(308.25,144.24) rotate(-90)"><path d="M-9.1 0V-12.6L-11.6 -9.85" fill="none" stroke="#000" stroke-width="1.75" stroke-linejoin="round"/><text class="T0" transform="scale(0.79,1)" x="-1.27" y="0" text-anchor="middle">0</text><text class="T" transform="scale(0.84,1)" x="7.38" y="-6.8">2</text></g><g transform="translate(308.25,97.81) rotate(-90)"><path d="M-9.1 0V-12.6L-11.6 -9.85" fill="none" stroke="#000" stroke-width="1.75" stroke-linejoin="round"/><text class="T0" transform="scale(0.79,1)" x="-1.27" y="0" text-anchor="middle">0</text><text class="T" transform="scale(0.84,1)" x="7.38" y="-6.8">3</text></g><g transform="translate(308.25,51.38) rotate(-90)"><path d="M-9.1 0V-12.6L-11.6 -9.85" fill="none" stroke="#000" stroke-width="1.75" stroke-linejoin="round"/><text class="T0" transform="scale(0.79,1)" x="-1.27" y="0" text-anchor="middle">0</text><text class="T" transform="scale(0.84,1)" x="7.38" y="-6.8">4</text></g><path d="M418 227h1v1h-1zM424 201h1v1h-1zM399 168h1v1h-1zM400 231h1v1h-1zM398 210h1v1h-1zM402 184h1v1h-1zM406 188h1v1h-1zM430 182h1v1h-1zM430 221h1v1h-1zM403 181h1v1h-1zM393 174h1v1h-1zM420 228h1v1h-1zM411 222h1v1h-1zM394 221h1v1h-1zM433 195h1v1h-1zM417 182h1v1h-1zM404 226h1v1h-1zM396 221h1v1h-1zM394 192h1v1h-1zM420 231h1v1h-1zM414 184h1v1h-1zM397 232h1v1h-1zM396 197h1v1h-1zM398 196h1v1h-1zM415 174h1v1h-1zM413 218h1v1h-1zM399 197h1v1h-1zM439 192h1v1h-1zM412 185h1v1h-1zM416 175h1v1h-1zM404 186h1v1h-1zM426 209h1v1h-1zM422 193h1v1h-1zM413 183h1v1h-1zM401 221h1v1h-1zM420 210h1v1h-1zM425 224h1v1h-1zM427 225h1v1h-1zM412 226h1v1h-1zM428 220h1v1h-1zM425 215h1v1h-1zM417 225h1v1h-1zM419 179h1v1h-1zM409 214h1v1h-1zM421 186h1v1h-1zM395 184h1v1h-1zM402 196h1v1h-1zM416 230h1v1h-1zM389 199h1v1h-1zM427 212h1v1h-1zM393 208h1v1h-1zM434 221h1v1h-1zM418 212h1v1h-1zM422 208h1v1h-1zM407 176h1v1h-1zM415 211h1v1h-1zM428 188h1v1h-1zM406 235h1v1h-1zM430 235h1v1h-1zM411 234h1v1h-1zM402 212h1v1h-1zM409 233h1v1h-1zM402 233h1v1h-1zM414 212h1v1h-1zM427 194h1v1h-1zM413 208h1v1h-1zM409 215h1v1h-1zM430 223h1v1h-1zM406 210h1v1h-1zM414 194h1v1h-1zM429 229h1v1h-1zM396 194h1v1h-1zM405 170h1v1h-1zM409 190h1v1h-1zM394 170h1v1h-1zM403 208h1v1h-1zM391 227h1v1h-1zM426 186h1v1h-1zM423 176h1v1h-1zM405 210h1v1h-1zM411 177h1v1h-1zM395 174h1v1h-1zM416 170h1v1h-1zM409 208h1v1h-1zM432 218h1v1h-1zM396 228h1v1h-1zM414 205h1v1h-1zM402 173h1v1h-1zM398 186h1v1h-1zM422 214h1v1h-1zM397 189h1v1h-1zM427 224h1v1h-1zM392 178h1v1h-1zM421 210h1v1h-1zM407 215h1v1h-1zM405 228h1v1h-1zM420 224h1v1h-1zM411 217h1v1h-1zM409 184h1v1h-1zM395 219h1v1h-1zM413 181h1v1h-1zM404 185h1v1h-1zM402 191h1v1h-1zM401 233h1v1h-1zM411 213h1v1h-1zM413 214h1v1h-1zM402 175h1v1h-1zM402 175h1v1h-1zM411 190h1v1h-1zM411 225h1v1h-1zM398 235h1v1h-1zM410 173h1v1h-1zM425 207h1v1h-1zM432 175h1v1h-1zM425 173h1v1h-1zM404 174h1v1h-1zM400 174h1v1h-1zM394 204h1v1h-1zM408 190h1v1h-1zM390 208h1v1h-1zM429 207h1v1h-1zM410 210h1v1h-1zM425 198h1v1h-1zM428 192h1v1h-1zM396 183h1v1h-1zM398 176h1v1h-1zM408 172h1v1h-1zM423 190h1v1h-1zM410 193h1v1h-1zM419 211h1v1h-1zM422 223h1v1h-1zM424 216h1v1h-1zM404 174h1v1h-1zM395 218h1v1h-1zM407 210h1v1h-1zM393 194h1v1h-1zM432 183h1v1h-1zM408 173h1v1h-1zM419 170h1v1h-1zM416 205h1v1h-1zM433 189h1v1h-1zM429 200h1v1h-1zM428 234h1v1h-1zM421 202h1v1h-1zM394 209h1v1h-1zM414 181h1v1h-1zM404 199h1v1h-1zM424 190h1v1h-1zM437 205h1v1h-1zM412 209h1v1h-1zM393 220h1v1h-1zM432 198h1v1h-1zM423 220h1v1h-1zM411 210h1v1h-1zM397 173h1v1h-1zM403 221h1v1h-1zM413 232h1v1h-1zM420 220h1v1h-1zM404 202h1v1h-1zM404 194h1v1h-1zM417 184h1v1h-1zM431 180h1v1h-1zM421 222h1v1h-1zM423 206h1v1h-1zM395 185h1v1h-1zM396 225h1v1h-1zM417 218h1v1h-1zM415 226h1v1h-1zM400 215h1v1h-1zM432 227h1v1h-1zM404 228h1v1h-1zM429 194h1v1h-1zM416 186h1v1h-1zM419 171h1v1h-1zM393 180h1v1h-1zM396 213h1v1h-1zM426 228h1v1h-1zM431 221h1v1h-1zM432 233h1v1h-1zM413 181h1v1h-1zM397 181h1v1h-1zM424 217h1v1h-1zM428 208h1v1h-1zM404 222h1v1h-1zM392 198h1v1h-1zM394 214h1v1h-1zM419 172h1v1h-1zM424 174h1v1h-1zM407 222h1v1h-1zM424 191h1v1h-1zM428 198h1v1h-1zM401 186h1v1h-1zM434 227h1v1h-1zM391 166h1v1h-1zM400 206h1v1h-1zM395 210h1v1h-1zM420 196h1v1h-1zM422 233h1v1h-1zM419 170h1v1h-1zM421 230h1v1h-1zM425 231h1v1h-1zM433 204h1v1h-1zM436 198h1v1h-1zM401 216h1v1h-1zM398 178h1v1h-1zM412 178h1v1h-1zM395 201h1v1h-1zM397 231h1v1h-1zM397 222h1v1h-1zM408 202h1v1h-1zM406 212h1v1h-1zM434 192h1v1h-1zM415 200h1v1h-1zM426 198h1v1h-1zM410 168h1v1h-1zM415 194h1v1h-1zM391 218h1v1h-1zM430 222h1v1h-1zM434 222h1v1h-1zM410 195h1v1h-1zM416 191h1v1h-1zM411 199h1v1h-1zM396 181h1v1h-1zM433 226h1v1h-1zM423 220h1v1h-1zM407 185h1v1h-1zM425 184h1v1h-1zM401 210h1v1h-1zM396 205h1v1h-1zM433 178h1v1h-1zM420 181h1v1h-1zM433 217h1v1h-1zM398 216h1v1h-1zM430 212h1v1h-1zM431 191h1v1h-1zM408 205h1v1h-1zM429 184h1v1h-1zM404 174h1v1h-1zM409 214h1v1h-1zM420 205h1v1h-1zM418 234h1v1h-1zM397 211h1v1h-1zM427 196h1v1h-1zM427 174h1v1h-1zM399 194h1v1h-1zM415 169h1v1h-1zM424 214h1v1h-1zM427 235h1v1h-1zM405 182h1v1h-1zM408 175h1v1h-1zM418 178h1v1h-1zM407 232h1v1h-1zM429 198h1v1h-1zM404 190h1v1h-1zM396 204h1v1h-1zM398 199h1v1h-1zM397 195h1v1h-1zM395 195h1v1h-1zM421 223h1v1h-1zM415 235h1v1h-1zM406 212h1v1h-1zM412 193h1v1h-1zM412 173h1v1h-1zM399 170h1v1h-1zM419 215h1v1h-1zM394 192h1v1h-1zM393 220h1v1h-1zM403 200h1v1h-1zM431 190h1v1h-1zM431 201h1v1h-1zM436 225h1v1h-1zM429 191h1v1h-1zM427 223h1v1h-1zM419 209h1v1h-1zM419 175h1v1h-1zM417 222h1v1h-1zM431 203h1v1h-1zM398 233h1v1h-1zM426 210h1v1h-1zM401 215h1v1h-1zM416 194h1v1h-1zM404 206h1v1h-1zM421 175h1v1h-1zM403 171h1v1h-1zM392 199h1v1h-1zM411 201h1v1h-1zM393 205h1v1h-1zM425 224h1v1h-1zM423 232h1v1h-1zM393 196h1v1h-1zM395 199h1v1h-1zM404 177h1v1h-1zM410 201h1v1h-1zM423 209h1v1h-1zM428 217h1v1h-1zM407 225h1v1h-1zM421 193h1v1h-1zM400 176h1v1h-1zM416 172h1v1h-1zM417 191h1v1h-1zM393 180h1v1h-1zM433 171h1v1h-1zM418 220h1v1h-1zM414 203h1v1h-1zM396 228h1v1h-1zM400 181h1v1h-1zM415 216h1v1h-1zM395 187h1v1h-1zM429 212h1v1h-1zM395 213h1v1h-1zM431 204h1v1h-1zM410 189h1v1h-1zM414 188h1v1h-1zM406 235h1v1h-1zM406 236h1v1h-1zM394 218h1v1h-1zM415 196h1v1h-1zM416 175h1v1h-1zM401 229h1v1h-1zM411 231h1v1h-1zM413 213h1v1h-1zM408 200h1v1h-1zM429 214h1v1h-1zM418 224h1v1h-1zM396 236h1v1h-1zM397 191h1v1h-1zM423 181h1v1h-1zM405 223h1v1h-1zM424 176h1v1h-1zM410 182h1v1h-1zM413 167h1v1h-1zM423 184h1v1h-1zM394 202h1v1h-1zM400 208h1v1h-1zM411 227h1v1h-1zM420 214h1v1h-1zM417 186h1v1h-1zM405 232h1v1h-1zM391 205h1v1h-1zM394 235h1v1h-1zM400 178h1v1h-1zM402 186h1v1h-1zM400 228h1v1h-1zM434 181h1v1h-1zM398 183h1v1h-1zM422 190h1v1h-1zM431 214h1v1h-1zM429 207h1v1h-1zM405 201h1v1h-1zM398 196h1v1h-1zM428 221h1v1h-1zM416 194h1v1h-1zM422 184h1v1h-1zM401 185h1v1h-1zM391 186h1v1h-1zM418 218h1v1h-1zM401 209h1v1h-1zM422 225h1v1h-1zM418 180h1v1h-1zM410 220h1v1h-1zM403 228h1v1h-1zM401 212h1v1h-1zM404 215h1v1h-1zM421 211h1v1h-1zM404 176h1v1h-1zM413 189h1v1h-1zM394 180h1v1h-1zM405 165h1v1h-1zM400 208h1v1h-1zM399 180h1v1h-1zM420 202h1v1h-1zM418 200h1v1h-1zM415 229h1v1h-1zM421 179h1v1h-1zM417 220h1v1h-1zM398 219h1v1h-1zM419 201h1v1h-1zM418 218h1v1h-1zM437 217h1v1h-1zM416 171h1v1h-1zM410 231h1v1h-1zM427 197h1v1h-1zM435 190h1v1h-1zM421 212h1v1h-1zM428 193h1v1h-1zM411 168h1v1h-1zM432 176h1v1h-1zM401 188h1v1h-1zM427 214h1v1h-1zM428 187h1v1h-1zM408 179h1v1h-1zM406 184h1v1h-1zM401 207h1v1h-1zM394 178h1v1h-1zM428 224h1v1h-1zM416 232h1v1h-1zM395 167h1v1h-1zM406 219h1v1h-1zM429 201h1v1h-1zM432 236h1v1h-1zM415 200h1v1h-1zM412 235h1v1h-1zM410 192h1v1h-1zM411 235h1v1h-1zM412 200h1v1h-1zM408 178h1v1h-1zM413 193h1v1h-1zM400 188h1v1h-1zM428 175h1v1h-1zM428 217h1v1h-1zM398 209h1v1h-1zM404 183h1v1h-1zM415 198h1v1h-1zM430 236h1v1h-1zM414 234h1v1h-1zM409 230h1v1h-1zM425 216h1v1h-1zM431 192h1v1h-1zM407 207h1v1h-1zM407 235h1v1h-1zM425 229h1v1h-1zM397 227h1v1h-1zM414 199h1v1h-1zM400 173h1v1h-1zM435 196h1v1h-1zM404 176h1v1h-1zM431 200h1v1h-1zM399 187h1v1h-1zM402 200h1v1h-1zM415 201h1v1h-1zM429 207h1v1h-1zM425 195h1v1h-1zM402 192h1v1h-1zM403 215h1v1h-1zM403 234h1v1h-1zM423 193h1v1h-1zM415 228h1v1h-1zM418 224h1v1h-1zM401 187h1v1h-1zM399 224h1v1h-1zM408 185h1v1h-1zM397 214h1v1h-1zM430 232h1v1h-1zM410 197h1v1h-1zM423 234h1v1h-1zM414 205h1v1h-1zM417 221h1v1h-1zM410 226h1v1h-1zM424 223h1v1h-1zM399 182h1v1h-1zM401 205h1v1h-1zM405 216h1v1h-1zM429 211h1v1h-1zM417 218h1v1h-1zM410 194h1v1h-1zM420 221h1v1h-1zM403 221h1v1h-1zM410 205h1v1h-1zM430 223h1v1h-1zM417 213h1v1h-1zM422 196h1v1h-1zM396 226h1v1h-1zM400 213h1v1h-1zM423 197h1v1h-1zM436 236h1v1h-1zM402 201h1v1h-1zM396 203h1v1h-1zM399 178h1v1h-1zM390 205h1v1h-1zM415 206h1v1h-1zM415 208h1v1h-1zM416 175h1v1h-1zM429 230h1v1h-1zM420 190h1v1h-1zM396 195h1v1h-1zM399 208h1v1h-1zM407 180h1v1h-1zM399 198h1v1h-1zM421 188h1v1h-1zM398 230h1v1h-1zM399 191h1v1h-1zM393 204h1v1h-1zM432 181h1v1h-1zM411 195h1v1h-1zM397 185h1v1h-1zM403 201h1v1h-1zM392 222h1v1h-1zM406 226h1v1h-1zM404 228h1v1h-1zM410 220h1v1h-1zM410 194h1v1h-1zM392 199h1v1h-1zM419 231h1v1h-1zM432 205h1v1h-1zM436 199h1v1h-1zM429 188h1v1h-1zM434 193h1v1h-1zM426 175h1v1h-1zM403 222h1v1h-1zM401 183h1v1h-1zM425 212h1v1h-1zM423 199h1v1h-1zM411 222h1v1h-1zM420 210h1v1h-1zM426 198h1v1h-1zM406 215h1v1h-1zM402 184h1v1h-1zM412 231h1v1h-1zM429 205h1v1h-1zM417 208h1v1h-1zM395 216h1v1h-1zM406 213h1v1h-1zM402 213h1v1h-1zM427 211h1v1h-1zM420 236h1v1h-1zM397 200h1v1h-1zM395 200h1v1h-1zM401 172h1v1h-1zM415 219h1v1h-1zM430 198h1v1h-1zM423 236h1v1h-1zM419 235h1v1h-1zM414 236h1v1h-1zM424 175h1v1h-1zM419 187h1v1h-1zM425 192h1v1h-1zM410 194h1v1h-1zM416 177h1v1h-1zM421 227h1v1h-1zM436 198h1v1h-1zM407 210h1v1h-1zM430 203h1v1h-1zM400 180h1v1h-1zM402 187h1v1h-1zM418 186h1v1h-1zM419 213h1v1h-1zM408 222h1v1h-1zM405 181h1v1h-1zM432 185h1v1h-1zM431 188h1v1h-1zM414 198h1v1h-1zM398 194h1v1h-1zM435 187h1v1h-1zM422 205h1v1h-1zM421 215h1v1h-1zM407 231h1v1h-1zM402 233h1v1h-1zM399 193h1v1h-1zM420 206h1v1h-1zM406 235h1v1h-1zM425 225h1v1h-1zM413 172h1v1h-1zM428 223h1v1h-1zM426 223h1v1h-1zM397 182h1v1h-1zM413 216h1v1h-1zM425 235h1v1h-1zM397 217h1v1h-1zM430 211h1v1h-1zM422 191h1v1h-1zM431 213h1v1h-1zM433 197h1v1h-1zM417 228h1v1h-1zM431 212h1v1h-1zM398 183h1v1h-1zM433 234h1v1h-1zM410 214h1v1h-1zM420 185h1v1h-1zM421 201h1v1h-1zM418 197h1v1h-1zM400 221h1v1h-1zM414 205h1v1h-1zM405 232h1v1h-1zM426 214h1v1h-1zM403 204h1v1h-1zM399 216h1v1h-1zM404 205h1v1h-1zM404 174h1v1h-1zM410 194h1v1h-1zM403 174h1v1h-1zM429 200h1v1h-1zM416 171h1v1h-1zM403 174h1v1h-1zM411 176h1v1h-1zM403 212h1v1h-1zM431 200h1v1h-1zM417 204h1v1h-1zM399 181h1v1h-1zM407 194h1v1h-1zM431 200h1v1h-1zM419 209h1v1h-1zM402 214h1v1h-1zM405 200h1v1h-1zM414 201h1v1h-1zM426 217h1v1h-1zM434 181h1v1h-1zM427 182h1v1h-1zM431 213h1v1h-1zM425 207h1v1h-1zM411 225h1v1h-1zM429 202h1v1h-1zM390 217h1v1h-1zM427 186h1v1h-1zM422 227h1v1h-1zM410 226h1v1h-1zM412 197h1v1h-1zM415 225h1v1h-1zM432 202h1v1h-1zM392 187h1v1h-1zM420 178h1v1h-1zM405 194h1v1h-1zM397 235h1v1h-1zM429 200h1v1h-1zM427 178h1v1h-1zM423 189h1v1h-1zM418 202h1v1h-1zM413 208h1v1h-1zM434 179h1v1h-1zM419 231h1v1h-1zM391 190h1v1h-1zM392 204h1v1h-1zM416 178h1v1h-1zM430 195h1v1h-1zM420 195h1v1h-1zM398 192h1v1h-1zM425 215h1v1h-1zM426 231h1v1h-1zM412 190h1v1h-1zM420 233h1v1h-1zM411 196h1v1h-1zM398 235h1v1h-1zM403 186h1v1h-1zM405 174h1v1h-1zM411 201h1v1h-1zM398 221h1v1h-1zM417 179h1v1h-1zM423 197h1v1h-1zM422 203h1v1h-1zM412 210h1v1h-1zM420 187h1v1h-1zM414 189h1v1h-1zM406 208h1v1h-1zM405 196h1v1h-1zM397 225h1v1h-1zM429 203h1v1h-1zM392 225h1v1h-1zM425 183h1v1h-1zM419 212h1v1h-1zM402 183h1v1h-1zM426 226h1v1h-1zM404 188h1v1h-1zM420 178h1v1h-1zM393 220h1v1h-1zM424 189h1v1h-1zM409 210h1v1h-1zM419 226h1v1h-1zM425 176h1v1h-1zM429 193h1v1h-1zM418 179h1v1h-1zM425 205h1v1h-1zM412 196h1v1h-1zM398 194h1v1h-1zM396 194h1v1h-1zM423 170h1v1h-1zM399 185h1v1h-1zM392 179h1v1h-1zM410 204h1v1h-1zM399 232h1v1h-1zM429 194h1v1h-1zM420 197h1v1h-1zM408 190h1v1h-1zM403 198h1v1h-1zM429 204h1v1h-1zM426 228h1v1h-1zM406 224h1v1h-1zM427 234h1v1h-1zM408 230h1v1h-1zM409 220h1v1h-1zM399 214h1v1h-1zM408 236h1v1h-1zM417 199h1v1h-1zM396 191h1v1h-1zM412 226h1v1h-1zM430 200h1v1h-1zM407 193h1v1h-1zM427 209h1v1h-1zM434 229h1v1h-1zM412 203h1v1h-1zM395 219h1v1h-1zM421 175h1v1h-1zM405 207h1v1h-1zM408 203h1v1h-1zM423 185h1v1h-1zM426 214h1v1h-1zM394 199h1v1h-1zM399 183h1v1h-1zM416 184h1v1h-1zM400 236h1v1h-1zM438 211h1v1h-1zM401 212h1v1h-1zM420 177h1v1h-1zM418 225h1v1h-1zM391 186h1v1h-1zM414 192h1v1h-1zM393 208h1v1h-1zM403 194h1v1h-1zM429 229h1v1h-1zM402 224h1v1h-1zM428 195h1v1h-1zM432 193h1v1h-1zM419 177h1v1h-1zM415 192h1v1h-1zM407 196h1v1h-1zM421 220h1v1h-1zM399 219h1v1h-1zM395 196h1v1h-1zM428 177h1v1h-1zM437 191h1v1h-1zM429 174h1v1h-1zM421 227h1v1h-1zM419 204h1v1h-1zM415 228h1v1h-1zM396 230h1v1h-1zM435 197h1v1h-1zM398 225h1v1h-1zM414 221h1v1h-1zM421 201h1v1h-1zM394 203h1v1h-1zM412 216h1v1h-1zM427 208h1v1h-1zM411 181h1v1h-1zM403 189h1v1h-1zM415 189h1v1h-1zM411 175h1v1h-1zM398 210h1v1h-1zM413 174h1v1h-1zM429 191h1v1h-1zM415 231h1v1h-1zM397 213h1v1h-1zM420 223h1v1h-1zM418 188h1v1h-1zM414 179h1v1h-1zM418 183h1v1h-1zM407 200h1v1h-1zM404 234h1v1h-1zM426 236h1v1h-1zM417 197h1v1h-1zM424 229h1v1h-1zM395 236h1v1h-1zM434 217h1v1h-1zM407 173h1v1h-1zM411 193h1v1h-1zM398 234h1v1h-1zM412 223h1v1h-1zM435 225h1v1h-1zM404 231h1v1h-1zM405 192h1v1h-1zM422 177h1v1h-1zM430 231h1v1h-1zM411 234h1v1h-1zM416 215h1v1h-1zM409 225h1v1h-1zM425 233h1v1h-1zM421 229h1v1h-1zM421 178h1v1h-1zM397 198h1v1h-1zM413 223h1v1h-1zM406 232h1v1h-1zM401 177h1v1h-1zM435 193h1v1h-1zM398 222h1v1h-1zM420 236h1v1h-1zM405 190h1v1h-1zM411 196h1v1h-1zM390 174h1v1h-1zM405 192h1v1h-1zM394 199h1v1h-1zM432 175h1v1h-1zM400 179h1v1h-1zM429 205h1v1h-1zM406 194h1v1h-1zM393 219h1v1h-1zM436 204h1v1h-1zM432 176h1v1h-1zM393 187h1v1h-1zM393 233h1v1h-1zM431 223h1v1h-1zM401 183h1v1h-1zM414 192h1v1h-1zM426 200h1v1h-1zM429 202h1v1h-1zM404 178h1v1h-1zM436 192h1v1h-1zM403 178h1v1h-1zM427 178h1v1h-1zM392 218h1v1h-1zM405 195h1v1h-1zM398 179h1v1h-1zM418 178h1v1h-1zM397 227h1v1h-1zM411 183h1v1h-1zM406 195h1v1h-1zM421 209h1v1h-1zM421 193h1v1h-1zM404 205h1v1h-1zM416 199h1v1h-1zM411 213h1v1h-1zM419 232h1v1h-1zM416 212h1v1h-1zM417 172h1v1h-1zM438 220h1v1h-1zM424 184h1v1h-1zM397 227h1v1h-1zM419 190h1v1h-1zM400 203h1v1h-1zM430 216h1v1h-1zM398 202h1v1h-1zM428 212h1v1h-1zM409 168h1v1h-1zM425 185h1v1h-1zM406 216h1v1h-1zM407 180h1v1h-1zM416 165h1v1h-1zM392 207h1v1h-1zM434 231h1v1h-1zM403 173h1v1h-1zM414 211h1v1h-1zM410 217h1v1h-1zM424 218h1v1h-1zM397 191h1v1h-1zM394 226h1v1h-1zM437 230h1v1h-1zM413 218h1v1h-1zM426 180h1v1h-1zM430 186h1v1h-1zM432 204h1v1h-1zM403 222h1v1h-1zM395 178h1v1h-1zM423 231h1v1h-1zM404 232h1v1h-1zM410 193h1v1h-1zM413 175h1v1h-1zM429 182h1v1h-1zM394 225h1v1h-1zM427 225h1v1h-1zM398 184h1v1h-1zM426 198h1v1h-1zM426 208h1v1h-1zM416 223h1v1h-1zM396 196h1v1h-1zM400 221h1v1h-1zM426 213h1v1h-1zM403 171h1v1h-1zM393 228h1v1h-1zM430 176h1v1h-1zM396 182h1v1h-1zM403 191h1v1h-1zM394 178h1v1h-1zM414 204h1v1h-1zM414 232h1v1h-1zM407 194h1v1h-1zM420 199h1v1h-1zM438 194h1v1h-1zM413 171h1v1h-1zM422 233h1v1h-1zM412 217h1v1h-1zM418 181h1v1h-1zM428 210h1v1h-1zM407 192h1v1h-1zM404 173h1v1h-1zM403 200h1v1h-1zM402 204h1v1h-1zM413 206h1v1h-1zM434 203h1v1h-1zM401 188h1v1h-1zM399 191h1v1h-1zM407 221h1v1h-1zM407 227h1v1h-1zM428 215h1v1h-1zM392 213h1v1h-1zM395 206h1v1h-1zM424 221h1v1h-1zM422 195h1v1h-1zM409 189h1v1h-1zM396 172h1v1h-1zM421 197h1v1h-1zM436 218h1v1h-1zM398 227h1v1h-1zM426 183h1v1h-1zM433 203h1v1h-1zM427 232h1v1h-1zM419 188h1v1h-1zM426 216h1v1h-1zM422 213h1v1h-1zM431 181h1v1h-1zM435 223h1v1h-1zM400 180h1v1h-1zM405 204h1v1h-1zM410 201h1v1h-1zM422 177h1v1h-1zM395 228h1v1h-1zM410 232h1v1h-1zM405 226h1v1h-1zM420 220h1v1h-1zM399 181h1v1h-1zM440 231h1v1h-1zM411 196h1v1h-1zM427 177h1v1h-1zM421 195h1v1h-1zM391 205h1v1h-1zM421 189h1v1h-1zM418 175h1v1h-1zM421 214h1v1h-1zM392 234h1v1h-1zM428 223h1v1h-1zM424 189h1v1h-1zM437 234h1v1h-1zM420 217h1v1h-1zM398 225h1v1h-1zM423 208h1v1h-1zM427 216h1v1h-1zM424 212h1v1h-1zM418 181h1v1h-1zM417 214h1v1h-1zM396 165h1v1h-1zM418 234h1v1h-1zM419 217h1v1h-1zM422 181h1v1h-1zM410 221h1v1h-1zM419 208h1v1h-1zM425 187h1v1h-1zM403 201h1v1h-1zM403 230h1v1h-1zM411 233h1v1h-1zM395 200h1v1h-1zM391 185h1v1h-1zM408 235h1v1h-1zM397 194h1v1h-1zM429 229h1v1h-1zM424 230h1v1h-1zM414 211h1v1h-1zM429 201h1v1h-1zM405 211h1v1h-1zM432 181h1v1h-1zM431 236h1v1h-1zM414 190h1v1h-1zM390 215h1v1h-1zM403 228h1v1h-1zM401 203h1v1h-1zM398 203h1v1h-1zM420 175h1v1h-1zM407 204h1v1h-1zM400 235h1v1h-1zM426 231h1v1h-1zM412 232h1v1h-1zM421 187h1v1h-1zM427 180h1v1h-1zM435 220h1v1h-1zM409 220h1v1h-1zM409 173h1v1h-1zM409 230h1v1h-1zM432 202h1v1h-1zM421 205h1v1h-1zM408 204h1v1h-1zM417 236h1v1h-1zM405 186h1v1h-1zM404 187h1v1h-1zM435 235h1v1h-1zM387 184h1v1h-1zM418 168h1v1h-1zM418 182h1v1h-1zM392 171h1v1h-1zM400 207h1v1h-1zM401 170h1v1h-1zM405 175h1v1h-1zM409 177h1v1h-1zM406 188h1v1h-1zM427 175h1v1h-1zM424 174h1v1h-1zM411 191h1v1h-1zM402 183h1v1h-1zM404 220h1v1h-1zM410 234h1v1h-1zM421 229h1v1h-1zM401 199h1v1h-1zM413 219h1v1h-1zM422 205h1v1h-1zM400 221h1v1h-1zM409 172h1v1h-1zM414 222h1v1h-1zM405 208h1v1h-1zM423 226h1v1h-1zM424 179h1v1h-1zM433 180h1v1h-1zM411 208h1v1h-1zM397 174h1v1h-1zM401 213h1v1h-1zM432 192h1v1h-1zM401 167h1v1h-1zM425 178h1v1h-1zM415 181h1v1h-1zM433 218h1v1h-1zM404 211h1v1h-1zM426 191h1v1h-1zM400 199h1v1h-1zM421 202h1v1h-1zM432 186h1v1h-1zM410 211h1v1h-1zM415 194h1v1h-1zM410 184h1v1h-1zM426 176h1v1h-1zM401 216h1v1h-1zM395 210h1v1h-1zM418 225h1v1h-1zM435 231h1v1h-1zM430 216h1v1h-1zM431 227h1v1h-1zM415 173h1v1h-1zM399 198h1v1h-1zM416 191h1v1h-1zM419 235h1v1h-1zM398 205h1v1h-1zM411 195h1v1h-1zM400 235h1v1h-1zM400 180h1v1h-1zM417 201h1v1h-1zM402 207h1v1h-1zM410 233h1v1h-1zM431 180h1v1h-1zM403 211h1v1h-1zM423 218h1v1h-1zM421 169h1v1h-1zM419 221h1v1h-1zM424 227h1v1h-1zM416 194h1v1h-1zM400 176h1v1h-1zM407 205h1v1h-1zM411 212h1v1h-1zM397 204h1v1h-1zM411 226h1v1h-1zM395 193h1v1h-1zM408 219h1v1h-1zM430 206h1v1h-1zM410 186h1v1h-1zM400 191h1v1h-1zM417 210h1v1h-1zM423 191h1v1h-1zM407 227h1v1h-1zM413 236h1v1h-1zM391 223h1v1h-1zM430 180h1v1h-1zM430 173h1v1h-1zM405 167h1v1h-1zM404 174h1v1h-1zM420 208h1v1h-1zM413 211h1v1h-1zM404 209h1v1h-1zM398 223h1v1h-1zM411 195h1v1h-1zM403 195h1v1h-1zM417 228h1v1h-1zM420 186h1v1h-1zM423 216h1v1h-1zM395 232h1v1h-1zM405 191h1v1h-1zM400 168h1v1h-1zM407 174h1v1h-1zM412 224h1v1h-1zM431 191h1v1h-1zM400 212h1v1h-1zM403 216h1v1h-1zM401 225h1v1h-1zM417 194h1v1h-1zM406 214h1v1h-1zM413 181h1v1h-1zM420 226h1v1h-1zM396 185h1v1h-1zM415 184h1v1h-1zM405 218h1v1h-1zM402 178h1v1h-1zM417 200h1v1h-1zM401 196h1v1h-1zM403 223h1v1h-1zM420 198h1v1h-1zM399 223h1v1h-1zM413 181h1v1h-1zM406 215h1v1h-1zM409 169h1v1h-1zM398 179h1v1h-1zM412 193h1v1h-1zM425 197h1v1h-1zM429 228h1v1h-1zM394 189h1v1h-1zM433 207h1v1h-1zM408 233h1v1h-1zM427 236h1v1h-1zM409 207h1v1h-1zM404 197h1v1h-1zM415 202h1v1h-1zM400 232h1v1h-1zM422 177h1v1h-1zM431 195h1v1h-1zM395 173h1v1h-1zM414 201h1v1h-1zM395 202h1v1h-1zM431 206h1v1h-1zM415 234h1v1h-1zM402 225h1v1h-1zM412 198h1v1h-1zM393 230h1v1h-1zM433 179h1v1h-1zM433 191h1v1h-1zM411 219h1v1h-1zM413 206h1v1h-1zM395 232h1v1h-1zM428 173h1v1h-1zM394 191h1v1h-1zM437 193h1v1h-1zM401 195h1v1h-1zM415 224h1v1h-1zM395 223h1v1h-1zM416 193h1v1h-1zM392 224h1v1h-1zM404 209h1v1h-1zM411 196h1v1h-1zM431 214h1v1h-1zM399 206h1v1h-1zM415 188h1v1h-1zM432 179h1v1h-1zM390 192h1v1h-1zM413 205h1v1h-1zM421 196h1v1h-1zM398 209h1v1h-1zM423 179h1v1h-1zM414 219h1v1h-1zM427 198h1v1h-1zM427 221h1v1h-1zM430 215h1v1h-1zM409 180h1v1h-1zM424 224h1v1h-1zM400 228h1v1h-1zM402 204h1v1h-1zM406 205h1v1h-1zM406 220h1v1h-1zM405 175h1v1h-1zM421 195h1v1h-1zM426 228h1v1h-1zM402 174h1v1h-1zM399 168h1v1h-1zM429 179h1v1h-1zM429 217h1v1h-1zM418 206h1v1h-1zM430 210h1v1h-1zM424 210h1v1h-1zM428 229h1v1h-1zM405 232h1v1h-1zM414 204h1v1h-1zM431 215h1v1h-1zM418 183h1v1h-1zM398 232h1v1h-1zM399 176h1v1h-1zM393 208h1v1h-1zM417 178h1v1h-1zM410 209h1v1h-1zM429 177h1v1h-1zM412 177h1v1h-1zM434 214h1v1h-1zM435 233h1v1h-1zM418 209h1v1h-1zM428 210h1v1h-1zM394 231h1v1h-1zM434 209h1v1h-1zM420 170h1v1h-1zM407 203h1v1h-1zM418 190h1v1h-1zM417 202h1v1h-1zM414 235h1v1h-1zM427 216h1v1h-1zM403 213h1v1h-1zM425 199h1v1h-1zM391 220h1v1h-1zM399 222h1v1h-1zM423 197h1v1h-1zM411 217h1v1h-1zM430 187h1v1h-1zM425 212h1v1h-1zM420 222h1v1h-1zM414 226h1v1h-1zM429 228h1v1h-1zM395 212h1v1h-1zM422 220h1v1h-1zM405 195h1v1h-1zM428 220h1v1h-1zM424 216h1v1h-1zM423 183h1v1h-1zM423 174h1v1h-1zM418 178h1v1h-1zM405 214h1v1h-1zM406 228h1v1h-1zM402 179h1v1h-1zM418 211h1v1h-1zM410 189h1v1h-1zM434 191h1v1h-1zM430 179h1v1h-1zM406 232h1v1h-1zM436 215h1v1h-1zM432 201h1v1h-1zM421 178h1v1h-1zM431 223h1v1h-1zM396 224h1v1h-1zM421 194h1v1h-1zM424 214h1v1h-1zM398 193h1v1h-1zM437 222h1v1h-1zM404 181h1v1h-1zM391 204h1v1h-1zM407 230h1v1h-1zM407 184h1v1h-1zM396 199h1v1h-1zM392 199h1v1h-1zM388 195h1v1h-1zM416 235h1v1h-1zM424 209h1v1h-1zM426 215h1v1h-1zM427 234h1v1h-1zM432 177h1v1h-1zM416 197h1v1h-1zM416 171h1v1h-1zM428 178h1v1h-1zM391 232h1v1h-1zM407 187h1v1h-1zM419 227h1v1h-1zM426 176h1v1h-1zM409 191h1v1h-1zM424 172h1v1h-1zM414 235h1v1h-1zM433 224h1v1h-1zM418 170h1v1h-1zM425 209h1v1h-1zM411 177h1v1h-1zM417 165h1v1h-1zM413 232h1v1h-1zM408 200h1v1h-1zM399 199h1v1h-1zM396 182h1v1h-1zM395 209h1v1h-1zM408 197h1v1h-1zM424 233h1v1h-1zM436 189h1v1h-1zM392 168h1v1h-1zM425 192h1v1h-1zM399 181h1v1h-1zM409 230h1v1h-1zM422 229h1v1h-1zM414 198h1v1h-1zM411 197h1v1h-1zM435 216h1v1h-1zM429 225h1v1h-1zM410 207h1v1h-1zM397 197h1v1h-1zM392 209h1v1h-1zM404 217h1v1h-1zM407 230h1v1h-1zM403 223h1v1h-1zM420 235h1v1h-1zM397 193h1v1h-1zM405 233h1v1h-1zM409 194h1v1h-1zM418 218h1v1h-1zM434 236h1v1h-1zM417 236h1v1h-1zM407 236h1v1h-1zM421 218h1v1h-1zM391 235h1v1h-1zM426 217h1v1h-1zM401 219h1v1h-1zM422 185h1v1h-1zM391 215h1v1h-1zM401 214h1v1h-1zM406 194h1v1h-1zM434 180h1v1h-1zM404 201h1v1h-1zM422 209h1v1h-1zM413 230h1v1h-1zM391 208h1v1h-1zM399 199h1v1h-1zM430 176h1v1h-1zM406 184h1v1h-1zM402 205h1v1h-1zM417 195h1v1h-1zM412 234h1v1h-1zM427 182h1v1h-1zM420 222h1v1h-1zM424 232h1v1h-1zM408 211h1v1h-1zM415 183h1v1h-1zM395 168h1v1h-1zM421 208h1v1h-1zM420 194h1v1h-1zM432 193h1v1h-1zM424 228h1v1h-1zM421 180h1v1h-1zM412 176h1v1h-1zM399 172h1v1h-1zM415 205h1v1h-1zM398 206h1v1h-1zM407 212h1v1h-1zM428 222h1v1h-1zM420 211h1v1h-1zM415 222h1v1h-1zM431 186h1v1h-1zM407 235h1v1h-1zM403 202h1v1h-1zM428 228h1v1h-1zM408 174h1v1h-1zM399 235h1v1h-1zM402 215h1v1h-1zM404 207h1v1h-1zM420 207h1v1h-1zM416 183h1v1h-1zM434 181h1v1h-1zM417 232h1v1h-1zM405 224h1v1h-1zM402 190h1v1h-1zM407 182h1v1h-1zM432 214h1v1h-1zM419 173h1v1h-1zM424 181h1v1h-1zM395 193h1v1h-1zM410 195h1v1h-1zM407 181h1v1h-1zM397 211h1v1h-1zM429 207h1v1h-1zM422 216h1v1h-1zM417 227h1v1h-1zM400 227h1v1h-1zM408 186h1v1h-1zM419 174h1v1h-1zM396 222h1v1h-1zM417 179h1v1h-1zM430 202h1v1h-1zM417 184h1v1h-1zM398 212h1v1h-1zM403 214h1v1h-1zM414 230h1v1h-1zM400 218h1v1h-1zM404 216h1v1h-1zM411 226h1v1h-1zM409 216h1v1h-1zM408 212h1v1h-1zM431 236h1v1h-1zM422 185h1v1h-1zM400 174h1v1h-1zM427 207h1v1h-1zM394 171h1v1h-1zM406 219h1v1h-1zM406 203h1v1h-1zM432 224h1v1h-1zM402 202h1v1h-1zM408 199h1v1h-1zM432 206h1v1h-1zM403 230h1v1h-1zM422 225h1v1h-1zM422 178h1v1h-1zM395 194h1v1h-1zM393 226h1v1h-1zM433 182h1v1h-1zM393 186h1v1h-1zM411 220h1v1h-1zM425 187h1v1h-1zM415 191h1v1h-1zM402 235h1v1h-1zM401 196h1v1h-1zM429 191h1v1h-1zM422 220h1v1h-1zM409 226h1v1h-1zM421 232h1v1h-1zM424 226h1v1h-1zM398 189h1v1h-1zM395 228h1v1h-1zM403 221h1v1h-1zM399 219h1v1h-1zM406 202h1v1h-1zM394 169h1v1h-1zM401 171h1v1h-1zM398 184h1v1h-1zM397 236h1v1h-1zM435 195h1v1h-1zM397 167h1v1h-1zM402 235h1v1h-1zM418 215h1v1h-1zM424 181h1v1h-1zM411 185h1v1h-1zM433 206h1v1h-1zM406 205h1v1h-1zM400 179h1v1h-1zM425 171h1v1h-1zM392 227h1v1h-1zM406 164h1v1h-1zM394 192h1v1h-1zM421 173h1v1h-1zM395 218h1v1h-1zM412 178h1v1h-1zM400 198h1v1h-1zM409 222h1v1h-1zM405 224h1v1h-1zM403 225h1v1h-1zM414 232h1v1h-1zM401 166h1v1h-1zM428 173h1v1h-1zM431 199h1v1h-1zM423 172h1v1h-1zM430 171h1v1h-1zM414 220h1v1h-1zM433 235h1v1h-1zM404 215h1v1h-1zM404 216h1v1h-1zM416 210h1v1h-1zM403 191h1v1h-1zM410 174h1v1h-1zM393 216h1v1h-1zM414 199h1v1h-1zM434 187h1v1h-1zM426 187h1v1h-1zM393 211h1v1h-1zM427 236h1v1h-1zM428 226h1v1h-1zM403 214h1v1h-1zM407 193h1v1h-1zM411 207h1v1h-1zM411 236h1v1h-1zM409 181h1v1h-1zM415 178h1v1h-1zM435 211h1v1h-1zM398 200h1v1h-1zM430 178h1v1h-1zM420 175h1v1h-1zM398 196h1v1h-1zM411 232h1v1h-1zM431 229h1v1h-1zM398 173h1v1h-1zM405 225h1v1h-1zM431 216h1v1h-1zM432 231h1v1h-1zM430 191h1v1h-1zM421 196h1v1h-1zM393 180h1v1h-1zM437 223h1v1h-1zM417 185h1v1h-1zM393 204h1v1h-1zM411 210h1v1h-1zM425 224h1v1h-1zM413 202h1v1h-1zM400 176h1v1h-1zM426 197h1v1h-1zM411 214h1v1h-1zM405 222h1v1h-1zM392 168h1v1h-1zM415 171h1v1h-1zM418 230h1v1h-1zM417 215h1v1h-1zM412 203h1v1h-1zM415 224h1v1h-1zM394 178h1v1h-1zM410 198h1v1h-1zM431 190h1v1h-1zM396 222h1v1h-1zM419 220h1v1h-1zM424 209h1v1h-1zM422 217h1v1h-1zM411 176h1v1h-1zM417 177h1v1h-1zM407 166h1v1h-1zM393 199h1v1h-1zM405 219h1v1h-1zM405 197h1v1h-1zM418 174h1v1h-1zM394 206h1v1h-1zM403 186h1v1h-1zM398 220h1v1h-1zM419 178h1v1h-1zM418 208h1v1h-1zM416 204h1v1h-1zM398 195h1v1h-1zM424 220h1v1h-1zM434 228h1v1h-1zM410 233h1v1h-1zM403 178h1v1h-1zM412 228h1v1h-1zM407 209h1v1h-1zM412 189h1v1h-1zM427 180h1v1h-1zM402 224h1v1h-1zM393 195h1v1h-1zM406 174h1v1h-1zM398 179h1v1h-1zM395 210h1v1h-1zM434 200h1v1h-1zM413 231h1v1h-1zM435 201h1v1h-1zM430 184h1v1h-1zM416 216h1v1h-1zM397 215h1v1h-1zM398 235h1v1h-1zM404 167h1v1h-1zM414 229h1v1h-1zM415 193h1v1h-1zM426 191h1v1h-1zM407 209h1v1h-1zM397 236h1v1h-1zM410 183h1v1h-1zM399 177h1v1h-1zM414 221h1v1h-1zM408 193h1v1h-1zM393 203h1v1h-1zM391 177h1v1h-1zM390 201h1v1h-1zM433 211h1v1h-1zM403 212h1v1h-1zM403 195h1v1h-1zM433 179h1v1h-1zM423 175h1v1h-1zM407 201h1v1h-1zM413 198h1v1h-1zM395 219h1v1h-1zM423 186h1v1h-1zM426 214h1v1h-1zM417 173h1v1h-1zM419 178h1v1h-1zM416 208h1v1h-1zM402 199h1v1h-1zM418 218h1v1h-1zM394 216h1v1h-1zM405 180h1v1h-1zM430 212h1v1h-1zM435 220h1v1h-1zM422 228h1v1h-1zM418 185h1v1h-1zM410 213h1v1h-1zM428 218h1v1h-1zM416 169h1v1h-1zM413 231h1v1h-1zM402 205h1v1h-1zM426 204h1v1h-1zM432 176h1v1h-1zM407 190h1v1h-1zM419 192h1v1h-1zM422 212h1v1h-1zM431 184h1v1h-1zM432 218h1v1h-1zM427 175h1v1h-1zM412 202h1v1h-1zM423 228h1v1h-1zM414 176h1v1h-1zM402 230h1v1h-1zM426 217h1v1h-1zM415 226h1v1h-1zM410 173h1v1h-1zM401 188h1v1h-1zM399 206h1v1h-1zM400 220h1v1h-1zM415 187h1v1h-1zM406 219h1v1h-1zM411 195h1v1h-1zM435 224h1v1h-1zM392 204h1v1h-1zM419 200h1v1h-1zM430 192h1v1h-1zM406 232h1v1h-1zM424 195h1v1h-1zM428 221h1v1h-1zM410 187h1v1h-1zM429 185h1v1h-1zM424 203h1v1h-1zM426 200h1v1h-1zM394 170h1v1h-1zM411 192h1v1h-1zM394 220h1v1h-1zM425 204h1v1h-1zM412 195h1v1h-1zM402 209h1v1h-1zM395 209h1v1h-1zM397 190h1v1h-1zM400 171h1v1h-1zM401 198h1v1h-1zM408 218h1v1h-1zM427 218h1v1h-1zM397 209h1v1h-1zM409 226h1v1h-1zM416 175h1v1h-1zM396 235h1v1h-1zM420 203h1v1h-1zM434 189h1v1h-1zM403 188h1v1h-1zM393 236h1v1h-1zM430 193h1v1h-1zM409 197h1v1h-1zM398 183h1v1h-1zM436 196h1v1h-1zM397 210h1v1h-1zM416 172h1v1h-1zM434 198h1v1h-1zM430 174h1v1h-1zM396 226h1v1h-1zM398 186h1v1h-1zM424 171h1v1h-1zM410 231h1v1h-1zM428 225h1v1h-1zM418 209h1v1h-1zM402 227h1v1h-1zM402 225h1v1h-1zM404 229h1v1h-1zM399 170h1v1h-1zM402 232h1v1h-1zM410 189h1v1h-1zM398 236h1v1h-1zM418 195h1v1h-1zM413 172h1v1h-1zM415 213h1v1h-1zM424 229h1v1h-1zM402 184h1v1h-1zM401 200h1v1h-1zM430 177h1v1h-1zM395 220h1v1h-1zM430 231h1v1h-1zM425 223h1v1h-1zM404 220h1v1h-1zM391 229h1v1h-1zM418 196h1v1h-1zM401 174h1v1h-1zM434 219h1v1h-1zM391 209h1v1h-1zM424 209h1v1h-1zM431 235h1v1h-1zM414 183h1v1h-1zM407 170h1v1h-1zM415 175h1v1h-1zM395 184h1v1h-1zM396 208h1v1h-1zM417 180h1v1h-1zM411 203h1v1h-1zM394 182h1v1h-1zM411 189h1v1h-1zM402 200h1v1h-1zM402 201h1v1h-1zM407 175h1v1h-1zM405 189h1v1h-1zM436 205h1v1h-1zM421 211h1v1h-1zM407 230h1v1h-1zM431 193h1v1h-1zM404 214h1v1h-1zM400 201h1v1h-1zM398 214h1v1h-1zM400 234h1v1h-1zM403 213h1v1h-1zM409 229h1v1h-1zM411 208h1v1h-1zM417 198h1v1h-1zM413 178h1v1h-1zM401 187h1v1h-1zM424 191h1v1h-1zM385 217h1v1h-1zM416 221h1v1h-1zM397 174h1v1h-1zM429 200h1v1h-1zM407 174h1v1h-1zM434 207h1v1h-1zM415 229h1v1h-1zM425 190h1v1h-1zM402 217h1v1h-1zM420 229h1v1h-1zM413 217h1v1h-1zM418 187h1v1h-1zM429 203h1v1h-1zM423 203h1v1h-1zM392 190h1v1h-1zM394 206h1v1h-1zM391 198h1v1h-1zM436 233h1v1h-1zM435 236h1v1h-1zM434 235h1v1h-1zM416 194h1v1h-1zM425 213h1v1h-1zM424 230h1v1h-1zM398 190h1v1h-1zM424 200h1v1h-1zM404 190h1v1h-1zM417 189h1v1h-1zM416 173h1v1h-1zM415 232h1v1h-1zM420 198h1v1h-1zM420 173h1v1h-1zM430 189h1v1h-1zM420 209h1v1h-1zM420 225h1v1h-1zM421 205h1v1h-1zM409 174h1v1h-1zM412 181h1v1h-1zM406 190h1v1h-1zM402 199h1v1h-1zM431 192h1v1h-1zM400 201h1v1h-1zM426 207h1v1h-1zM416 236h1v1h-1zM423 216h1v1h-1zM415 223h1v1h-1zM407 191h1v1h-1zM429 234h1v1h-1zM409 209h1v1h-1zM432 236h1v1h-1zM405 182h1v1h-1zM392 190h1v1h-1zM404 208h1v1h-1zM405 230h1v1h-1zM397 210h1v1h-1zM404 225h1v1h-1zM426 204h1v1h-1zM419 216h1v1h-1zM414 183h1v1h-1zM417 199h1v1h-1zM414 197h1v1h-1zM421 206h1v1h-1zM404 209h1v1h-1zM410 230h1v1h-1zM406 189h1v1h-1zM403 193h1v1h-1zM431 215h1v1h-1zM414 236h1v1h-1zM399 180h1v1h-1zM414 176h1v1h-1zM417 199h1v1h-1zM396 230h1v1h-1zM422 185h1v1h-1zM421 197h1v1h-1zM430 236h1v1h-1zM424 216h1v1h-1zM405 222h1v1h-1zM422 195h1v1h-1zM404 232h1v1h-1zM400 211h1v1h-1zM393 215h1v1h-1zM404 227h1v1h-1zM424 232h1v1h-1zM405 199h1v1h-1zM416 207h1v1h-1zM393 182h1v1h-1zM427 235h1v1h-1zM415 235h1v1h-1zM422 233h1v1h-1zM432 183h1v1h-1zM425 203h1v1h-1zM436 216h1v1h-1zM417 183h1v1h-1zM422 233h1v1h-1zM396 195h1v1h-1zM396 201h1v1h-1zM427 187h1v1h-1zM432 208h1v1h-1zM393 218h1v1h-1zM425 211h1v1h-1zM412 230h1v1h-1zM435 217h1v1h-1zM422 185h1v1h-1zM417 188h1v1h-1zM391 183h1v1h-1zM399 191h1v1h-1zM421 227h1v1h-1zM431 190h1v1h-1zM400 204h1v1h-1zM406 231h1v1h-1zM400 220h1v1h-1zM429 192h1v1h-1zM426 217h1v1h-1zM403 232h1v1h-1zM416 236h1v1h-1zM414 201h1v1h-1zM430 210h1v1h-1zM391 198h1v1h-1zM413 224h1v1h-1zM419 189h1v1h-1zM433 188h1v1h-1zM430 224h1v1h-1zM395 221h1v1h-1zM414 230h1v1h-1zM424 186h1v1h-1zM399 210h1v1h-1zM400 212h1v1h-1zM433 224h1v1h-1zM393 216h1v1h-1zM414 212h1v1h-1zM405 168h1v1h-1zM422 197h1v1h-1zM406 230h1v1h-1zM419 188h1v1h-1zM416 205h1v1h-1zM432 227h1v1h-1zM418 179h1v1h-1zM434 229h1v1h-1zM422 182h1v1h-1zM424 185h1v1h-1zM411 211h1v1h-1zM411 221h1v1h-1zM416 176h1v1h-1zM393 217h1v1h-1zM431 227h1v1h-1zM422 177h1v1h-1zM409 190h1v1h-1zM414 169h1v1h-1zM418 202h1v1h-1zM425 193h1v1h-1zM402 224h1v1h-1zM426 204h1v1h-1zM423 187h1v1h-1zM409 197h1v1h-1zM431 232h1v1h-1zM405 229h1v1h-1zM417 176h1v1h-1zM411 208h1v1h-1zM398 184h1v1h-1zM393 177h1v1h-1zM434 230h1v1h-1zM423 178h1v1h-1zM425 183h1v1h-1zM424 183h1v1h-1zM424 194h1v1h-1zM431 193h1v1h-1zM431 232h1v1h-1zM421 186h1v1h-1zM434 192h1v1h-1zM398 224h1v1h-1zM393 179h1v1h-1zM423 204h1v1h-1zM413 227h1v1h-1zM420 180h1v1h-1zM400 196h1v1h-1zM409 187h1v1h-1zM393 232h1v1h-1zM402 229h1v1h-1zM423 174h1v1h-1zM400 186h1v1h-1zM417 223h1v1h-1zM390 184h1v1h-1zM391 231h1v1h-1zM414 192h1v1h-1zM414 167h1v1h-1zM434 200h1v1h-1zM392 234h1v1h-1zM408 228h1v1h-1zM414 177h1v1h-1zM396 230h1v1h-1zM400 192h1v1h-1zM399 185h1v1h-1zM407 215h1v1h-1zM404 184h1v1h-1zM423 188h1v1h-1zM420 219h1v1h-1zM401 196h1v1h-1zM402 188h1v1h-1zM424 187h1v1h-1zM416 172h1v1h-1zM425 184h1v1h-1zM422 226h1v1h-1zM398 174h1v1h-1zM407 212h1v1h-1zM407 219h1v1h-1zM424 175h1v1h-1zM412 185h1v1h-1zM421 200h1v1h-1zM397 179h1v1h-1zM396 199h1v1h-1zM396 208h1v1h-1zM434 234h1v1h-1zM395 207h1v1h-1zM415 182h1v1h-1zM394 171h1v1h-1zM430 232h1v1h-1zM405 190h1v1h-1zM410 233h1v1h-1zM404 231h1v1h-1zM405 209h1v1h-1zM391 224h1v1h-1zM426 234h1v1h-1zM402 179h1v1h-1zM408 201h1v1h-1zM412 234h1v1h-1zM430 175h1v1h-1zM416 176h1v1h-1zM429 187h1v1h-1zM430 219h1v1h-1zM407 231h1v1h-1zM400 183h1v1h-1zM397 169h1v1h-1zM407 233h1v1h-1zM397 176h1v1h-1zM418 231h1v1h-1zM429 190h1v1h-1zM398 203h1v1h-1zM407 229h1v1h-1zM422 229h1v1h-1zM414 189h1v1h-1zM413 212h1v1h-1zM432 210h1v1h-1zM436 208h1v1h-1zM414 210h1v1h-1zM406 213h1v1h-1zM421 235h1v1h-1zM423 192h1v1h-1zM407 176h1v1h-1zM408 233h1v1h-1zM410 229h1v1h-1zM431 203h1v1h-1zM430 207h1v1h-1zM404 224h1v1h-1zM396 182h1v1h-1zM408 180h1v1h-1zM398 224h1v1h-1zM408 214h1v1h-1zM431 205h1v1h-1zM408 185h1v1h-1zM422 206h1v1h-1zM392 202h1v1h-1zM415 206h1v1h-1zM424 221h1v1h-1zM394 223h1v1h-1zM400 223h1v1h-1zM416 233h1v1h-1zM416 206h1v1h-1zM398 229h1v1h-1zM404 199h1v1h-1zM404 210h1v1h-1zM427 218h1v1h-1zM427 189h1v1h-1zM411 170h1v1h-1zM414 211h1v1h-1zM431 188h1v1h-1zM420 198h1v1h-1zM398 182h1v1h-1zM419 207h1v1h-1zM418 172h1v1h-1zM429 196h1v1h-1zM407 195h1v1h-1zM392 178h1v1h-1zM421 218h1v1h-1zM399 190h1v1h-1zM406 203h1v1h-1zM398 179h1v1h-1zM428 187h1v1h-1zM424 194h1v1h-1zM422 176h1v1h-1zM410 226h1v1h-1zM433 219h1v1h-1zM427 206h1v1h-1zM434 195h1v1h-1zM433 196h1v1h-1zM430 186h1v1h-1zM407 170h1v1h-1zM395 178h1v1h-1zM391 231h1v1h-1zM409 170h1v1h-1zM420 222h1v1h-1zM400 208h1v1h-1zM403 209h1v1h-1zM407 194h1v1h-1zM422 207h1v1h-1zM431 178h1v1h-1zM429 234h1v1h-1zM432 188h1v1h-1zM419 171h1v1h-1zM402 209h1v1h-1zM407 186h1v1h-1zM422 187h1v1h-1zM419 206h1v1h-1zM404 203h1v1h-1zM393 226h1v1h-1zM416 204h1v1h-1zM420 229h1v1h-1zM404 178h1v1h-1zM395 193h1v1h-1zM399 177h1v1h-1zM421 204h1v1h-1zM414 198h1v1h-1zM405 180h1v1h-1zM405 235h1v1h-1zM432 221h1v1h-1zM423 172h1v1h-1zM421 178h1v1h-1zM408 192h1v1h-1zM410 226h1v1h-1zM428 175h1v1h-1zM416 224h1v1h-1zM418 174h1v1h-1zM418 235h1v1h-1zM422 221h1v1h-1zM435 187h1v1h-1zM412 228h1v1h-1zM391 179h1v1h-1zM425 211h1v1h-1zM394 214h1v1h-1zM396 197h1v1h-1zM394 184h1v1h-1zM405 185h1v1h-1zM417 222h1v1h-1zM406 234h1v1h-1zM408 176h1v1h-1zM402 213h1v1h-1zM407 230h1v1h-1zM429 201h1v1h-1zM421 198h1v1h-1zM401 221h1v1h-1zM401 222h1v1h-1zM424 230h1v1h-1zM405 204h1v1h-1zM432 235h1v1h-1zM424 208h1v1h-1zM406 232h1v1h-1zM429 197h1v1h-1zM401 214h1v1h-1zM422 211h1v1h-1zM414 202h1v1h-1zM405 214h1v1h-1zM429 218h1v1h-1zM416 220h1v1h-1zM415 223h1v1h-1zM420 205h1v1h-1zM417 209h1v1h-1zM404 229h1v1h-1zM399 179h1v1h-1zM413 206h1v1h-1zM406 219h1v1h-1zM400 199h1v1h-1zM423 222h1v1h-1zM407 225h1v1h-1zM398 193h1v1h-1zM427 231h1v1h-1zM415 223h1v1h-1zM431 181h1v1h-1zM414 187h1v1h-1zM422 200h1v1h-1zM415 228h1v1h-1zM424 188h1v1h-1zM426 227h1v1h-1zM416 185h1v1h-1zM412 172h1v1h-1zM404 236h1v1h-1zM411 180h1v1h-1zM425 174h1v1h-1zM419 228h1v1h-1zM401 187h1v1h-1zM407 218h1v1h-1zM417 196h1v1h-1zM421 193h1v1h-1zM412 233h1v1h-1zM426 223h1v1h-1zM414 213h1v1h-1zM421 187h1v1h-1zM431 199h1v1h-1zM424 203h1v1h-1zM412 222h1v1h-1zM421 173h1v1h-1zM396 206h1v1h-1zM413 209h1v1h-1zM413 229h1v1h-1zM409 205h1v1h-1zM397 169h1v1h-1zM420 219h1v1h-1zM401 179h1v1h-1zM406 220h1v1h-1zM409 210h1v1h-1zM387 172h1v1h-1zM412 195h1v1h-1zM408 208h1v1h-1zM408 184h1v1h-1zM417 235h1v1h-1zM426 228h1v1h-1zM416 236h1v1h-1zM401 177h1v1h-1zM417 226h1v1h-1zM425 187h1v1h-1zM404 210h1v1h-1zM417 225h1v1h-1zM400 235h1v1h-1zM422 220h1v1h-1zM403 227h1v1h-1zM391 233h1v1h-1zM403 174h1v1h-1zM406 225h1v1h-1zM402 179h1v1h-1zM425 224h1v1h-1zM424 191h1v1h-1zM418 190h1v1h-1zM428 192h1v1h-1zM437 202h1v1h-1zM405 202h1v1h-1zM399 171h1v1h-1zM420 194h1v1h-1zM398 203h1v1h-1zM429 213h1v1h-1zM393 188h1v1h-1zM393 219h1v1h-1zM395 198h1v1h-1zM422 229h1v1h-1zM395 174h1v1h-1zM406 234h1v1h-1zM395 236h1v1h-1zM408 218h1v1h-1zM396 213h1v1h-1zM392 194h1v1h-1zM423 187h1v1h-1zM408 221h1v1h-1zM417 171h1v1h-1zM434 213h1v1h-1zM410 234h1v1h-1zM398 233h1v1h-1zM412 180h1v1h-1zM419 173h1v1h-1zM435 198h1v1h-1zM428 182h1v1h-1zM422 196h1v1h-1zM429 203h1v1h-1zM416 179h1v1h-1zM399 178h1v1h-1zM402 200h1v1h-1zM411 203h1v1h-1zM423 212h1v1h-1zM432 182h1v1h-1zM416 185h1v1h-1zM411 201h1v1h-1zM407 232h1v1h-1zM430 210h1v1h-1zM415 227h1v1h-1zM395 205h1v1h-1zM427 203h1v1h-1zM410 173h1v1h-1zM418 196h1v1h-1zM416 183h1v1h-1zM396 206h1v1h-1zM423 184h1v1h-1zM409 220h1v1h-1zM411 177h1v1h-1zM435 219h1v1h-1zM407 231h1v1h-1zM418 199h1v1h-1zM413 235h1v1h-1zM403 220h1v1h-1zM401 189h1v1h-1zM425 187h1v1h-1zM406 197h1v1h-1zM420 220h1v1h-1zM398 204h1v1h-1zM402 207h1v1h-1zM421 232h1v1h-1zM391 201h1v1h-1zM420 231h1v1h-1zM418 188h1v1h-1zM401 217h1v1h-1zM412 173h1v1h-1zM412 198h1v1h-1zM395 180h1v1h-1zM398 227h1v1h-1zM396 221h1v1h-1zM418 210h1v1h-1zM393 207h1v1h-1zM428 216h1v1h-1zM397 222h1v1h-1zM426 220h1v1h-1zM393 185h1v1h-1zM418 227h1v1h-1zM406 191h1v1h-1zM416 200h1v1h-1zM404 219h1v1h-1zM421 231h1v1h-1zM398 212h1v1h-1zM403 232h1v1h-1zM403 235h1v1h-1zM412 216h1v1h-1zM410 203h1v1h-1zM416 185h1v1h-1zM432 175h1v1h-1zM411 211h1v1h-1zM432 215h1v1h-1zM395 230h1v1h-1zM395 216h1v1h-1zM392 171h1v1h-1zM404 173h1v1h-1zM432 195h1v1h-1zM418 236h1v1h-1zM419 233h1v1h-1zM404 194h1v1h-1zM410 198h1v1h-1zM393 222h1v1h-1zM392 200h1v1h-1zM431 226h1v1h-1zM413 203h1v1h-1zM424 223h1v1h-1zM418 197h1v1h-1zM424 218h1v1h-1zM420 202h1v1h-1zM405 187h1v1h-1zM404 187h1v1h-1zM397 206h1v1h-1zM394 212h1v1h-1zM425 185h1v1h-1zM412 186h1v1h-1zM396 172h1v1h-1zM428 224h1v1h-1zM393 206h1v1h-1zM428 176h1v1h-1zM403 206h1v1h-1zM434 222h1v1h-1zM409 184h1v1h-1zM402 217h1v1h-1zM391 208h1v1h-1zM395 176h1v1h-1zM398 190h1v1h-1zM433 181h1v1h-1zM406 194h1v1h-1zM408 186h1v1h-1zM417 179h1v1h-1zM420 208h1v1h-1zM412 217h1v1h-1zM400 179h1v1h-1zM408 216h1v1h-1zM431 204h1v1h-1zM418 185h1v1h-1zM413 195h1v1h-1zM432 217h1v1h-1zM426 230h1v1h-1zM410 225h1v1h-1zM393 212h1v1h-1zM421 214h1v1h-1zM398 229h1v1h-1zM403 234h1v1h-1zM402 194h1v1h-1zM419 196h1v1h-1zM396 216h1v1h-1zM394 182h1v1h-1zM400 181h1v1h-1zM412 206h1v1h-1zM412 190h1v1h-1zM400 202h1v1h-1zM429 196h1v1h-1zM430 195h1v1h-1zM395 231h1v1h-1zM396 201h1v1h-1zM403 195h1v1h-1zM432 225h1v1h-1zM398 220h1v1h-1zM422 213h1v1h-1zM400 223h1v1h-1zM414 218h1v1h-1zM405 223h1v1h-1zM405 225h1v1h-1zM403 188h1v1h-1zM401 219h1v1h-1zM412 187h1v1h-1zM413 198h1v1h-1zM428 212h1v1h-1zM413 181h1v1h-1zM396 233h1v1h-1zM402 174h1v1h-1zM425 230h1v1h-1zM401 197h1v1h-1zM417 216h1v1h-1zM409 202h1v1h-1zM439 222h1v1h-1zM391 192h1v1h-1zM400 206h1v1h-1zM433 212h1v1h-1zM401 183h1v1h-1zM420 172h1v1h-1zM395 213h1v1h-1zM431 212h1v1h-1zM405 189h1v1h-1zM407 231h1v1h-1zM414 225h1v1h-1zM413 186h1v1h-1zM432 232h1v1h-1zM400 186h1v1h-1zM418 208h1v1h-1zM415 212h1v1h-1zM396 219h1v1h-1zM421 232h1v1h-1zM420 212h1v1h-1zM421 199h1v1h-1zM405 197h1v1h-1zM402 173h1v1h-1zM396 204h1v1h-1zM425 199h1v1h-1zM431 207h1v1h-1zM432 215h1v1h-1zM423 225h1v1h-1zM432 223h1v1h-1zM418 197h1v1h-1zM393 189h1v1h-1zM429 222h1v1h-1zM414 226h1v1h-1zM434 211h1v1h-1zM406 222h1v1h-1zM403 223h1v1h-1zM420 196h1v1h-1zM420 236h1v1h-1zM401 210h1v1h-1zM403 194h1v1h-1zM400 199h1v1h-1zM428 226h1v1h-1zM426 234h1v1h-1zM436 226h1v1h-1zM404 196h1v1h-1zM425 225h1v1h-1zM405 234h1v1h-1zM425 222h1v1h-1zM426 224h1v1h-1zM411 223h1v1h-1zM408 207h1v1h-1zM396 187h1v1h-1zM416 232h1v1h-1zM404 189h1v1h-1zM403 178h1v1h-1zM401 205h1v1h-1zM435 215h1v1h-1zM415 178h1v1h-1zM397 213h1v1h-1zM406 223h1v1h-1zM403 232h1v1h-1zM428 179h1v1h-1zM430 220h1v1h-1zM394 223h1v1h-1zM434 189h1v1h-1zM404 179h1v1h-1zM430 193h1v1h-1zM417 210h1v1h-1zM405 179h1v1h-1zM403 178h1v1h-1zM413 219h1v1h-1zM405 218h1v1h-1zM426 185h1v1h-1zM420 192h1v1h-1zM408 204h1v1h-1zM418 175h1v1h-1zM425 178h1v1h-1zM421 220h1v1h-1zM410 204h1v1h-1zM398 199h1v1h-1zM426 174h1v1h-1zM432 236h1v1h-1zM410 230h1v1h-1zM426 202h1v1h-1zM429 231h1v1h-1zM426 230h1v1h-1zM419 228h1v1h-1zM394 230h1v1h-1zM428 195h1v1h-1zM409 226h1v1h-1zM396 229h1v1h-1zM418 220h1v1h-1zM395 212h1v1h-1zM424 189h1v1h-1zM393 218h1v1h-1zM394 178h1v1h-1zM415 200h1v1h-1zM402 216h1v1h-1zM408 225h1v1h-1zM404 231h1v1h-1zM419 210h1v1h-1zM405 190h1v1h-1zM401 176h1v1h-1zM426 171h1v1h-1zM428 203h1v1h-1zM429 223h1v1h-1zM408 177h1v1h-1zM430 186h1v1h-1zM423 221h1v1h-1zM433 226h1v1h-1zM433 228h1v1h-1zM408 183h1v1h-1zM418 213h1v1h-1zM421 174h1v1h-1zM429 233h1v1h-1zM403 220h1v1h-1zM405 173h1v1h-1zM408 226h1v1h-1zM430 198h1v1h-1zM409 230h1v1h-1zM412 209h1v1h-1zM423 198h1v1h-1zM414 227h1v1h-1zM429 211h1v1h-1zM408 187h1v1h-1zM434 229h1v1h-1zM420 198h1v1h-1zM416 217h1v1h-1zM417 178h1v1h-1zM420 201h1v1h-1zM424 214h1v1h-1zM413 223h1v1h-1zM411 232h1v1h-1zM434 202h1v1h-1zM414 174h1v1h-1zM401 195h1v1h-1zM428 192h1v1h-1zM416 176h1v1h-1zM428 207h1v1h-1zM419 209h1v1h-1zM429 228h1v1h-1zM427 213h1v1h-1zM404 222h1v1h-1zM431 202h1v1h-1zM390 233h1v1h-1zM418 193h1v1h-1zM433 184h1v1h-1zM408 198h1v1h-1zM394 178h1v1h-1zM430 175h1v1h-1zM405 166h1v1h-1zM423 219h1v1h-1zM397 211h1v1h-1zM424 224h1v1h-1zM419 210h1v1h-1zM395 184h1v1h-1zM408 185h1v1h-1zM416 190h1v1h-1zM430 195h1v1h-1zM431 217h1v1h-1zM408 224h1v1h-1zM396 222h1v1h-1zM415 194h1v1h-1zM426 202h1v1h-1zM419 179h1v1h-1zM422 226h1v1h-1zM404 231h1v1h-1zM393 194h1v1h-1zM402 199h1v1h-1zM431 209h1v1h-1zM395 231h1v1h-1zM396 208h1v1h-1zM411 216h1v1h-1zM403 235h1v1h-1zM412 189h1v1h-1zM433 197h1v1h-1zM420 223h1v1h-1zM395 204h1v1h-1zM416 177h1v1h-1zM427 200h1v1h-1zM403 193h1v1h-1zM398 202h1v1h-1zM427 220h1v1h-1zM404 205h1v1h-1zM413 222h1v1h-1zM402 170h1v1h-1zM436 224h1v1h-1zM430 212h1v1h-1zM408 177h1v1h-1zM429 218h1v1h-1zM409 216h1v1h-1zM425 196h1v1h-1zM413 174h1v1h-1zM416 227h1v1h-1zM416 218h1v1h-1zM410 172h1v1h-1zM413 220h1v1h-1zM391 200h1v1h-1zM428 216h1v1h-1zM408 206h1v1h-1zM396 235h1v1h-1zM430 194h1v1h-1zM410 217h1v1h-1zM412 175h1v1h-1zM405 208h1v1h-1zM415 226h1v1h-1zM411 215h1v1h-1zM410 202h1v1h-1zM392 230h1v1h-1zM401 196h1v1h-1zM422 214h1v1h-1zM400 170h1v1h-1zM399 219h1v1h-1zM418 177h1v1h-1zM405 208h1v1h-1zM429 217h1v1h-1zM408 176h1v1h-1zM415 201h1v1h-1zM425 190h1v1h-1zM401 221h1v1h-1zM412 189h1v1h-1zM394 221h1v1h-1zM424 218h1v1h-1zM411 206h1v1h-1zM429 213h1v1h-1zM405 223h1v1h-1zM425 202h1v1h-1zM424 224h1v1h-1zM418 234h1v1h-1zM395 230h1v1h-1zM415 209h1v1h-1zM423 213h1v1h-1zM415 194h1v1h-1zM433 175h1v1h-1zM399 202h1v1h-1zM422 193h1v1h-1zM430 212h1v1h-1zM409 203h1v1h-1zM422 223h1v1h-1zM395 231h1v1h-1zM390 233h1v1h-1zM418 235h1v1h-1zM394 181h1v1h-1zM401 219h1v1h-1zM451 209h1v1h-1zM437 213h1v1h-1zM447 184h1v1h-1zM440 182h1v1h-1zM440 231h1v1h-1zM436 214h1v1h-1zM441 232h1v1h-1zM443 200h1v1h-1zM437 226h1v1h-1zM438 190h1v1h-1zM441 196h1v1h-1zM435 186h1v1h-1zM436 197h1v1h-1zM434 203h1v1h-1zM440 210h1v1h-1zM434 181h1v1h-1zM439 220h1v1h-1zM436 181h1v1h-1zM451 196h1v1h-1zM437 224h1v1h-1zM441 181h1v1h-1zM434 206h1v1h-1zM435 187h1v1h-1zM439 186h1v1h-1zM437 236h1v1h-1zM435 206h1v1h-1zM436 210h1v1h-1zM439 231h1v1h-1zM436 210h1v1h-1zM436 200h1v1h-1zM447 228h1v1h-1zM437 210h1v1h-1zM437 231h1v1h-1zM443 236h1v1h-1zM443 181h1v1h-1zM442 211h1v1h-1zM445 236h1v1h-1zM440 209h1v1h-1zM448 205h1v1h-1zM437 234h1v1h-1zM436 198h1v1h-1zM437 192h1v1h-1zM435 183h1v1h-1zM435 184h1v1h-1zM443 190h1v1h-1zM436 234h1v1h-1zM436 200h1v1h-1zM436 191h1v1h-1zM435 195h1v1h-1zM438 229h1v1h-1zM436 181h1v1h-1zM438 216h1v1h-1zM438 203h1v1h-1zM444 201h1v1h-1zM449 236h1v1h-1zM439 194h1v1h-1zM439 234h1v1h-1zM438 234h1v1h-1zM439 216h1v1h-1zM441 234h1v1h-1zM442 232h1v1h-1zM441 232h1v1h-1zM436 201h1v1h-1zM435 223h1v1h-1zM438 214h1v1h-1zM440 220h1v1h-1zM437 216h1v1h-1zM440 187h1v1h-1zM435 217h1v1h-1zM436 210h1v1h-1zM434 201h1v1h-1zM441 219h1v1h-1zM440 218h1v1h-1zM436 206h1v1h-1zM442 205h1v1h-1zM441 196h1v1h-1zM443 190h1v1h-1zM443 193h1v1h-1zM435 198h1v1h-1zM436 209h1v1h-1zM434 199h1v1h-1zM434 226h1v1h-1zM450 192h1v1h-1zM435 221h1v1h-1zM436 195h1v1h-1zM436 220h1v1h-1zM440 217h1v1h-1zM439 202h1v1h-1zM438 203h1v1h-1zM436 217h1v1h-1zM443 234h1v1h-1zM434 217h1v1h-1zM442 227h1v1h-1zM447 212h1v1h-1zM440 236h1v1h-1zM439 191h1v1h-1zM441 235h1v1h-1zM441 206h1v1h-1zM451 212h1v1h-1zM438 228h1v1h-1zM448 197h1v1h-1zM448 206h1v1h-1zM440 235h1v1h-1zM438 186h1v1h-1zM442 218h1v1h-1zM438 191h1v1h-1zM445 200h1v1h-1zM437 190h1v1h-1zM434 232h1v1h-1zM438 235h1v1h-1zM437 218h1v1h-1zM453 232h1v1h-1zM437 221h1v1h-1zM436 207h1v1h-1zM436 199h1v1h-1zM438 233h1v1h-1zM436 220h1v1h-1zM439 220h1v1h-1zM449 202h1v1h-1zM443 197h1v1h-1zM440 227h1v1h-1zM436 201h1v1h-1zM439 220h1v1h-1zM435 199h1v1h-1zM435 218h1v1h-1zM434 213h1v1h-1zM434 184h1v1h-1zM434 187h1v1h-1zM439 197h1v1h-1zM438 204h1v1h-1zM438 209h1v1h-1zM436 225h1v1h-1zM451 197h1v1h-1zM438 228h1v1h-1zM441 199h1v1h-1zM442 200h1v1h-1zM440 192h1v1h-1zM441 204h1v1h-1zM434 222h1v1h-1zM434 202h1v1h-1zM440 194h1v1h-1zM437 220h1v1h-1zM439 206h1v1h-1zM443 227h1v1h-1zM438 184h1v1h-1zM444 200h1v1h-1zM439 194h1v1h-1zM448 213h1v1h-1zM438 195h1v1h-1zM446 181h1v1h-1zM451 213h1v1h-1zM435 192h1v1h-1zM437 182h1v1h-1zM440 234h1v1h-1zM437 228h1v1h-1zM436 199h1v1h-1zM436 229h1v1h-1zM456 197h1v1h-1zM437 183h1v1h-1zM436 231h1v1h-1zM441 233h1v1h-1zM439 228h1v1h-1zM436 182h1v1h-1zM435 211h1v1h-1zM437 185h1v1h-1zM437 228h1v1h-1zM439 185h1v1h-1zM376 200h1v1h-1zM376 186h1v1h-1zM375 181h1v1h-1zM358 166h1v1h-1zM380 169h1v1h-1zM378 173h1v1h-1zM387 184h1v1h-1zM357 189h1v1h-1zM372 170h1v1h-1zM372 185h1v1h-1zM389 186h1v1h-1zM368 180h1v1h-1zM381 172h1v1h-1zM379 186h1v1h-1zM382 193h1v1h-1zM387 207h1v1h-1zM367 183h1v1h-1zM383 186h1v1h-1zM369 197h1v1h-1zM364 195h1v1h-1zM370 189h1v1h-1zM381 190h1v1h-1zM385 190h1v1h-1zM354 187h1v1h-1zM384 185h1v1h-1zM385 214h1v1h-1zM376 170h1v1h-1zM357 186h1v1h-1zM358 167h1v1h-1zM386 194h1v1h-1zM374 204h1v1h-1zM378 178h1v1h-1zM389 174h1v1h-1zM375 200h1v1h-1zM370 174h1v1h-1zM357 181h1v1h-1zM369 173h1v1h-1zM376 200h1v1h-1zM353 182h1v1h-1zM380 203h1v1h-1zM368 177h1v1h-1zM361 184h1v1h-1zM360 178h1v1h-1zM382 186h1v1h-1zM376 176h1v1h-1zM375 180h1v1h-1zM378 182h1v1h-1zM390 181h1v1h-1zM355 187h1v1h-1zM381 188h1v1h-1zM379 188h1v1h-1zM367 193h1v1h-1zM379 184h1v1h-1zM378 191h1v1h-1zM368 177h1v1h-1zM372 210h1v1h-1zM371 180h1v1h-1zM386 204h1v1h-1zM362 181h1v1h-1zM384 193h1v1h-1zM377 198h1v1h-1zM367 179h1v1h-1zM388 195h1v1h-1zM385 193h1v1h-1zM367 191h1v1h-1zM366 189h1v1h-1zM372 176h1v1h-1zM374 188h1v1h-1zM371 188h1v1h-1zM387 191h1v1h-1zM370 174h1v1h-1zM363 194h1v1h-1zM368 216h1v1h-1zM370 201h1v1h-1zM365 194h1v1h-1zM379 177h1v1h-1zM360 185h1v1h-1zM358 194h1v1h-1zM377 189h1v1h-1zM372 183h1v1h-1zM369 189h1v1h-1zM369 191h1v1h-1zM375 165h1v1h-1zM376 185h1v1h-1zM365 187h1v1h-1zM389 182h1v1h-1zM377 184h1v1h-1zM388 172h1v1h-1zM387 184h1v1h-1zM375 178h1v1h-1zM378 188h1v1h-1zM380 191h1v1h-1zM358 180h1v1h-1zM381 190h1v1h-1zM363 176h1v1h-1zM371 171h1v1h-1zM376 185h1v1h-1zM361 182h1v1h-1zM373 189h1v1h-1zM361 198h1v1h-1zM379 183h1v1h-1zM375 176h1v1h-1zM369 192h1v1h-1zM371 173h1v1h-1zM384 165h1v1h-1zM382 189h1v1h-1zM374 184h1v1h-1zM385 210h1v1h-1zM379 178h1v1h-1zM369 178h1v1h-1zM385 195h1v1h-1zM382 195h1v1h-1zM388 186h1v1h-1zM363 194h1v1h-1zM372 189h1v1h-1zM365 199h1v1h-1zM383 173h1v1h-1zM378 180h1v1h-1zM383 185h1v1h-1zM378 180h1v1h-1zM376 167h1v1h-1zM368 189h1v1h-1zM359 199h1v1h-1zM383 175h1v1h-1zM373 202h1v1h-1zM372 183h1v1h-1zM380 206h1v1h-1zM374 179h1v1h-1zM387 186h1v1h-1zM377 177h1v1h-1zM360 171h1v1h-1zM363 172h1v1h-1zM367 181h1v1h-1zM369 172h1v1h-1zM389 193h1v1h-1zM368 200h1v1h-1zM372 170h1v1h-1zM367 170h1v1h-1zM382 187h1v1h-1zM384 185h1v1h-1zM365 164h1v1h-1zM368 188h1v1h-1zM378 190h1v1h-1zM379 195h1v1h-1zM359 181h1v1h-1zM363 189h1v1h-1zM369 201h1v1h-1zM377 195h1v1h-1zM379 184h1v1h-1zM361 193h1v1h-1zM375 199h1v1h-1zM390 189h1v1h-1zM376 194h1v1h-1zM381 195h1v1h-1zM370 186h1v1h-1zM376 187h1v1h-1zM383 194h1v1h-1zM378 186h1v1h-1zM390 179h1v1h-1zM382 196h1v1h-1zM375 185h1v1h-1zM374 178h1v1h-1zM387 177h1v1h-1zM365 189h1v1h-1zM383 177h1v1h-1zM368 206h1v1h-1zM367 201h1v1h-1zM350 188h1v1h-1zM359 196h1v1h-1zM372 182h1v1h-1zM362 190h1v1h-1zM381 207h1v1h-1zM375 190h1v1h-1zM362 199h1v1h-1zM374 189h1v1h-1zM377 197h1v1h-1zM382 192h1v1h-1zM377 195h1v1h-1zM382 192h1v1h-1zM368 174h1v1h-1zM373 188h1v1h-1zM379 188h1v1h-1zM362 186h1v1h-1zM367 182h1v1h-1zM358 169h1v1h-1zM358 175h1v1h-1zM373 194h1v1h-1zM367 186h1v1h-1zM373 184h1v1h-1zM372 178h1v1h-1zM378 208h1v1h-1zM388 184h1v1h-1zM370 176h1v1h-1zM385 177h1v1h-1zM374 178h1v1h-1zM375 181h1v1h-1zM369 188h1v1h-1zM374 182h1v1h-1zM386 186h1v1h-1zM375 190h1v1h-1zM372 201h1v1h-1zM388 170h1v1h-1zM386 199h1v1h-1zM375 173h1v1h-1zM361 189h1v1h-1zM340 190h1v1h-1zM364 167h1v1h-1zM363 192h1v1h-1zM380 187h1v1h-1zM377 195h1v1h-1zM367 189h1v1h-1zM376 184h1v1h-1zM372 204h1v1h-1zM386 181h1v1h-1zM384 189h1v1h-1zM368 194h1v1h-1zM372 189h1v1h-1zM380 174h1v1h-1zM377 184h1v1h-1zM382 185h1v1h-1zM379 190h1v1h-1zM367 176h1v1h-1zM389 190h1v1h-1zM359 208h1v1h-1zM386 203h1v1h-1zM379 177h1v1h-1zM375 176h1v1h-1zM357 202h1v1h-1zM359 167h1v1h-1zM374 188h1v1h-1zM373 186h1v1h-1zM381 197h1v1h-1zM378 185h1v1h-1zM369 191h1v1h-1zM372 192h1v1h-1zM385 178h1v1h-1zM355 194h1v1h-1zM358 186h1v1h-1zM371 166h1v1h-1zM374 170h1v1h-1zM376 169h1v1h-1zM343 190h1v1h-1zM387 186h1v1h-1zM390 176h1v1h-1zM372 187h1v1h-1zM366 198h1v1h-1zM369 206h1v1h-1zM372 191h1v1h-1zM368 187h1v1h-1zM362 181h1v1h-1zM384 201h1v1h-1zM381 171h1v1h-1zM374 188h1v1h-1zM371 179h1v1h-1zM375 200h1v1h-1zM359 164h1v1h-1zM358 187h1v1h-1zM367 168h1v1h-1zM383 167h1v1h-1zM369 167h1v1h-1zM364 165h1v1h-1zM387 190h1v1h-1zM376 178h1v1h-1zM380 199h1v1h-1zM371 179h1v1h-1zM356 166h1v1h-1zM359 200h1v1h-1zM364 177h1v1h-1zM383 169h1v1h-1zM365 179h1v1h-1zM382 177h1v1h-1zM387 179h1v1h-1zM374 184h1v1h-1zM351 207h1v1h-1zM375 200h1v1h-1zM373 184h1v1h-1zM384 201h1v1h-1zM381 186h1v1h-1zM356 182h1v1h-1zM378 186h1v1h-1zM384 180h1v1h-1zM363 182h1v1h-1zM380 185h1v1h-1zM354 187h1v1h-1zM381 173h1v1h-1zM369 162h1v1h-1zM372 176h1v1h-1zM380 190h1v1h-1zM385 179h1v1h-1zM383 185h1v1h-1zM384 198h1v1h-1zM369 192h1v1h-1zM381 189h1v1h-1zM385 196h1v1h-1zM384 196h1v1h-1zM358 193h1v1h-1zM382 186h1v1h-1zM369 194h1v1h-1zM354 193h1v1h-1zM372 183h1v1h-1zM377 193h1v1h-1zM374 202h1v1h-1zM360 180h1v1h-1zM385 187h1v1h-1zM366 201h1v1h-1zM372 184h1v1h-1zM363 198h1v1h-1zM383 164h1v1h-1zM362 179h1v1h-1zM371 175h1v1h-1zM364 202h1v1h-1zM373 186h1v1h-1zM379 190h1v1h-1zM376 213h1v1h-1zM376 186h1v1h-1zM361 202h1v1h-1zM369 174h1v1h-1zM374 199h1v1h-1zM372 207h1v1h-1zM373 184h1v1h-1zM363 180h1v1h-1zM375 201h1v1h-1zM366 170h1v1h-1zM364 199h1v1h-1zM368 182h1v1h-1zM368 187h1v1h-1zM378 206h1v1h-1zM386 182h1v1h-1zM364 203h1v1h-1zM386 178h1v1h-1zM380 198h1v1h-1zM369 192h1v1h-1zM372 170h1v1h-1zM378 185h1v1h-1zM372 192h1v1h-1zM355 190h1v1h-1zM363 187h1v1h-1zM362 179h1v1h-1zM357 169h1v1h-1zM378 174h1v1h-1zM371 178h1v1h-1zM386 152h1v1h-1zM388 173h1v1h-1zM362 175h1v1h-1zM388 174h1v1h-1zM373 195h1v1h-1zM377 208h1v1h-1zM352 180h1v1h-1zM382 190h1v1h-1zM375 180h1v1h-1zM388 194h1v1h-1zM354 187h1v1h-1zM384 185h1v1h-1zM380 179h1v1h-1zM365 180h1v1h-1zM385 165h1v1h-1zM371 180h1v1h-1zM358 192h1v1h-1zM388 201h1v1h-1zM378 190h1v1h-1zM368 197h1v1h-1zM384 180h1v1h-1zM369 223h1v1h-1zM361 171h1v1h-1zM374 182h1v1h-1zM374 207h1v1h-1zM369 203h1v1h-1zM385 190h1v1h-1zM384 179h1v1h-1zM371 196h1v1h-1zM379 192h1v1h-1zM387 189h1v1h-1zM364 190h1v1h-1zM358 191h1v1h-1zM370 178h1v1h-1zM380 184h1v1h-1zM374 187h1v1h-1zM377 192h1v1h-1zM363 187h1v1h-1zM386 184h1v1h-1zM368 185h1v1h-1zM361 187h1v1h-1zM369 176h1v1h-1zM388 175h1v1h-1zM368 184h1v1h-1zM367 203h1v1h-1zM352 181h1v1h-1zM382 172h1v1h-1zM366 196h1v1h-1zM362 214h1v1h-1zM365 189h1v1h-1zM367 202h1v1h-1zM376 207h1v1h-1zM390 183h1v1h-1zM377 195h1v1h-1zM389 180h1v1h-1zM364 190h1v1h-1zM384 165h1v1h-1zM386 191h1v1h-1zM376 214h1v1h-1zM374 191h1v1h-1zM389 201h1v1h-1zM380 192h1v1h-1zM374 169h1v1h-1zM378 180h1v1h-1zM363 193h1v1h-1zM382 168h1v1h-1zM382 174h1v1h-1zM383 187h1v1h-1zM377 177h1v1h-1zM372 208h1v1h-1zM365 189h1v1h-1zM370 182h1v1h-1zM352 198h1v1h-1zM388 178h1v1h-1zM377 180h1v1h-1zM375 188h1v1h-1zM386 176h1v1h-1zM381 195h1v1h-1zM383 187h1v1h-1zM367 177h1v1h-1zM364 187h1v1h-1zM378 182h1v1h-1zM384 197h1v1h-1zM375 172h1v1h-1zM372 180h1v1h-1zM376 178h1v1h-1zM351 187h1v1h-1zM383 183h1v1h-1zM366 186h1v1h-1zM362 177h1v1h-1zM375 188h1v1h-1zM356 199h1v1h-1zM365 182h1v1h-1zM372 179h1v1h-1zM374 183h1v1h-1zM373 181h1v1h-1zM370 191h1v1h-1zM380 181h1v1h-1zM379 189h1v1h-1zM382 172h1v1h-1zM367 169h1v1h-1zM380 194h1v1h-1zM364 188h1v1h-1zM381 172h1v1h-1zM367 183h1v1h-1zM382 184h1v1h-1zM366 192h1v1h-1zM363 189h1v1h-1zM376 189h1v1h-1zM384 186h1v1h-1zM366 201h1v1h-1zM370 172h1v1h-1zM381 179h1v1h-1zM366 193h1v1h-1zM367 187h1v1h-1zM385 205h1v1h-1zM362 191h1v1h-1zM375 192h1v1h-1zM369 189h1v1h-1zM366 179h1v1h-1zM379 182h1v1h-1zM380 204h1v1h-1zM365 190h1v1h-1zM358 169h1v1h-1zM377 217h1v1h-1zM383 166h1v1h-1zM358 201h1v1h-1zM374 198h1v1h-1zM361 230h1v1h-1zM382 232h1v1h-1zM378 236h1v1h-1zM386 227h1v1h-1zM374 189h1v1h-1zM352 227h1v1h-1zM358 236h1v1h-1zM388 207h1v1h-1zM390 179h1v1h-1zM381 203h1v1h-1zM381 180h1v1h-1zM376 190h1v1h-1zM326 185h1v1h-1zM382 201h1v1h-1zM380 210h1v1h-1zM365 168h1v1h-1zM352 185h1v1h-1zM353 170h1v1h-1zM371 186h1v1h-1zM379 206h1v1h-1zM361 234h1v1h-1zM353 213h1v1h-1zM345 194h1v1h-1zM382 188h1v1h-1zM382 202h1v1h-1zM380 179h1v1h-1zM351 175h1v1h-1zM373 171h1v1h-1zM360 209h1v1h-1zM361 230h1v1h-1zM375 215h1v1h-1zM384 215h1v1h-1zM374 233h1v1h-1zM385 184h1v1h-1zM388 190h1v1h-1zM368 167h1v1h-1zM380 196h1v1h-1zM389 225h1v1h-1zM387 177h1v1h-1zM354 182h1v1h-1zM381 189h1v1h-1zM342 175h1v1h-1zM388 171h1v1h-1zM359 173h1v1h-1zM335 231h1v1h-1zM373 205h1v1h-1zM333 207h1v1h-1zM382 212h1v1h-1zM370 174h1v1h-1zM365 175h1v1h-1zM328 216h1v1h-1zM384 184h1v1h-1zM370 230h1v1h-1zM365 165h1v1h-1zM350 177h1v1h-1zM379 199h1v1h-1zM388 168h1v1h-1zM383 178h1v1h-1zM389 187h1v1h-1zM367 171h1v1h-1zM367 196h1v1h-1zM374 187h1v1h-1zM361 219h1v1h-1zM374 225h1v1h-1zM382 213h1v1h-1zM363 183h1v1h-1zM337 204h1v1h-1zM378 191h1v1h-1zM380 225h1v1h-1zM389 186h1v1h-1zM388 201h1v1h-1zM356 174h1v1h-1zM387 226h1v1h-1zM364 185h1v1h-1zM388 198h1v1h-1zM364 209h1v1h-1zM389 229h1v1h-1zM383 171h1v1h-1zM378 231h1v1h-1zM376 165h1v1h-1zM381 177h1v1h-1zM365 226h1v1h-1zM386 165h1v1h-1zM371 223h1v1h-1zM356 190h1v1h-1zM386 187h1v1h-1zM390 211h1v1h-1zM367 171h1v1h-1zM358 193h1v1h-1zM384 182h1v1h-1zM375 233h1v1h-1zM349 180h1v1h-1zM370 235h1v1h-1zM383 172h1v1h-1zM352 171h1v1h-1zM374 216h1v1h-1zM387 170h1v1h-1zM387 216h1v1h-1zM382 210h1v1h-1zM348 183h1v1h-1zM352 168h1v1h-1zM375 228h1v1h-1zM378 201h1v1h-1zM381 223h1v1h-1zM381 216h1v1h-1zM361 200h1v1h-1zM388 234h1v1h-1zM379 200h1v1h-1zM351 217h1v1h-1zM372 191h1v1h-1zM371 205h1v1h-1zM346 194h1v1h-1zM353 182h1v1h-1zM348 193h1v1h-1zM345 194h1v1h-1zM384 235h1v1h-1zM370 229h1v1h-1zM360 203h1v1h-1zM365 221h1v1h-1zM370 200h1v1h-1zM372 230h1v1h-1zM384 213h1v1h-1zM381 166h1v1h-1zM342 195h1v1h-1zM373 194h1v1h-1zM358 202h1v1h-1zM374 177h1v1h-1zM389 189h1v1h-1zM364 199h1v1h-1zM373 234h1v1h-1zM373 177h1v1h-1zM359 233h1v1h-1zM367 196h1v1h-1zM385 224h1v1h-1zM375 217h1v1h-1zM388 215h1v1h-1zM386 182h1v1h-1zM383 189h1v1h-1zM378 207h1v1h-1zM389 190h1v1h-1zM384 197h1v1h-1zM358 179h1v1h-1zM371 221h1v1h-1zM372 169h1v1h-1zM381 170h1v1h-1zM372 229h1v1h-1zM363 209h1v1h-1zM371 222h1v1h-1zM362 224h1v1h-1zM361 181h1v1h-1zM379 222h1v1h-1zM359 199h1v1h-1zM373 170h1v1h-1zM386 236h1v1h-1zM377 210h1v1h-1zM382 209h1v1h-1zM382 218h1v1h-1zM366 235h1v1h-1zM389 225h1v1h-1zM375 184h1v1h-1zM348 222h1v1h-1zM351 218h1v1h-1zM388 172h1v1h-1zM382 201h1v1h-1zM382 201h1v1h-1zM372 204h1v1h-1zM366 198h1v1h-1zM372 184h1v1h-1zM390 223h1v1h-1zM376 236h1v1h-1zM376 217h1v1h-1zM368 191h1v1h-1zM382 215h1v1h-1zM360 225h1v1h-1zM364 235h1v1h-1zM386 168h1v1h-1zM366 227h1v1h-1zM352 188h1v1h-1zM384 201h1v1h-1zM342 172h1v1h-1zM383 166h1v1h-1zM345 234h1v1h-1zM383 192h1v1h-1zM341 204h1v1h-1zM379 215h1v1h-1zM359 218h1v1h-1zM379 169h1v1h-1zM363 228h1v1h-1zM374 226h1v1h-1zM382 190h1v1h-1zM355 188h1v1h-1zM343 201h1v1h-1zM382 181h1v1h-1zM381 196h1v1h-1zM377 234h1v1h-1zM387 189h1v1h-1zM380 175h1v1h-1zM364 202h1v1h-1zM347 182h1v1h-1zM360 170h1v1h-1zM383 218h1v1h-1zM348 172h1v1h-1zM323 185h1v1h-1zM381 211h1v1h-1zM383 223h1v1h-1zM376 182h1v1h-1zM383 206h1v1h-1zM384 185h1v1h-1zM384 212h1v1h-1zM350 168h1v1h-1zM363 179h1v1h-1zM378 175h1v1h-1zM386 234h1v1h-1zM386 185h1v1h-1zM383 205h1v1h-1zM374 168h1v1h-1zM388 194h1v1h-1zM376 194h1v1h-1zM323 169h1v1h-1zM387 215h1v1h-1zM382 232h1v1h-1zM375 206h1v1h-1zM388 223h1v1h-1zM385 179h1v1h-1zM364 169h1v1h-1zM326 227h1v1h-1zM358 201h1v1h-1zM382 224h1v1h-1zM361 227h1v1h-1zM353 236h1v1h-1zM352 193h1v1h-1zM385 179h1v1h-1zM386 174h1v1h-1zM357 165h1v1h-1zM360 193h1v1h-1zM372 226h1v1h-1zM381 218h1v1h-1zM369 211h1v1h-1zM374 225h1v1h-1zM384 177h1v1h-1zM344 175h1v1h-1zM368 200h1v1h-1zM361 167h1v1h-1zM354 177h1v1h-1zM388 166h1v1h-1zM385 188h1v1h-1zM388 212h1v1h-1zM377 180h1v1h-1zM367 173h1v1h-1zM386 223h1v1h-1zM373 221h1v1h-1zM381 173h1v1h-1zM352 234h1v1h-1zM376 174h1v1h-1zM385 230h1v1h-1zM380 210h1v1h-1zM368 168h1v1h-1zM372 217h1v1h-1zM388 235h1v1h-1zM385 186h1v1h-1zM388 236h1v1h-1zM357 233h1v1h-1zM371 192h1v1h-1zM379 172h1v1h-1zM386 188h1v1h-1zM356 190h1v1h-1zM342 230h1v1h-1zM388 166h1v1h-1zM387 232h1v1h-1zM352 202h1v1h-1zM386 193h1v1h-1zM373 215h1v1h-1zM389 173h1v1h-1zM381 179h1v1h-1zM387 236h1v1h-1zM383 186h1v1h-1zM387 211h1v1h-1zM356 176h1v1h-1zM359 194h1v1h-1zM386 170h1v1h-1zM364 205h1v1h-1zM383 196h1v1h-1zM377 184h1v1h-1zM366 202h1v1h-1zM339 223h1v1h-1zM368 173h1v1h-1zM386 235h1v1h-1zM376 187h1v1h-1zM379 221h1v1h-1zM385 181h1v1h-1zM377 172h1v1h-1zM383 218h1v1h-1zM352 214h1v1h-1zM396 153h1v1h-1zM355 180h1v1h-1zM343 195h1v1h-1zM340 222h1v1h-1z" fill="#000"/><text x="94" y="287.5" class="X">Control</text><text x="373.8" y="292.7" class="X" style="letter-spacing:0.85px">NK1.1</text><text transform="translate(279.5,159.8) rotate(-90)" class="X">CD3</text><rect x="57.3" y="390.5" width="172.7" height="172.2" fill="none" stroke="#111" stroke-width="1.8"/><path d="M57.3 562.7h-5M57.3 528.26h-5M57.3 493.82h-5M57.3 459.38h-5M57.3 424.94h-5M57.3 390.5h-5M57.3 562.7v4M114.9 562.7v4M172.5 562.7v4M230.1 562.7v4" stroke="#111" stroke-width="1.6" fill="none"/><g transform="translate(49.8,567.2) scale(1,1.0)"><text id="n1" x="0" y="0" class="N" text-anchor="end">0</text></g><g transform="translate(51.3,532.76) scale(1,1.0)"><text id="n2" x="0" y="0" class="N" text-anchor="end">10</text><rect x="-22.31" y="-3.04" width="4.79" height="3.84" fill="#fff"/><rect x="-15.47" y="-3.04" width="4.1" height="3.84" fill="#fff"/></g><g transform="translate(51.3,498.32) scale(1,1.0)"><text id="n3" x="0" y="0" class="N" text-anchor="end">20</text></g><g transform="translate(51.3,463.88) scale(1,1.0)"><text id="n4" x="0" y="0" class="N" text-anchor="end">30</text></g><g transform="translate(51.3,429.44) scale(1,1.0)"><text id="n5" x="0" y="0" class="N" text-anchor="end">40</text></g><g transform="translate(51.3,395) scale(1,1.0)"><text id="n6" x="0" y="0" class="N" text-anchor="end">50</text></g><g transform="translate(58.1,581.3) scale(1,1.0)"><text id="n7" x="0" y="0" class="N" text-anchor="middle">0</text></g><g transform="translate(115.7,581.3) scale(1,1.0)"><text id="n8" x="0" y="0" class="N" text-anchor="middle">1</text><rect x="-6.49" y="-3.04" width="4.79" height="3.84" fill="#fff"/><rect x="0.35" y="-3.04" width="4.1" height="3.84" fill="#fff"/></g><g transform="translate(173.3,581.3) scale(1,1.0)"><text id="n9" x="0" y="0" class="N" text-anchor="middle">2</text></g><g transform="translate(230.9,581.3) scale(1,1.0)"><text id="n10" x="0" y="0" class="N" text-anchor="middle">3</text></g><text x="104.6" y="604" class="X" style="letter-spacing:1.4px">E/T ratio</text><text transform="translate(14.8,553.7) rotate(-90)" class="X" style="letter-spacing:1.15px">% specific lysis</text><polyline points="65.94,556.16 74.58,549.61 91.86,525.16 129.3,486.93 201.3,421.15" fill="none" stroke="#111" stroke-width="1.9"/><polyline points="65.94,559.26 74.58,552.37 91.86,545.82 129.3,521.72 201.3,462.82" fill="none" stroke="#111" stroke-width="1.9"/><path d="M65.94 549.96L69.44 556.16L65.94 562.36L62.44 556.16Z" fill="#fff" stroke="#111" stroke-width="1.9" stroke-linejoin="miter" stroke-miterlimit="10"/><path d="M74.58 543.41L78.08 549.61L74.58 555.81L71.08 549.61Z" fill="#fff" stroke="#111" stroke-width="1.9" stroke-linejoin="miter" stroke-miterlimit="10"/><path d="M91.86 518.96L95.36 525.16L91.86 531.36L88.36 525.16Z" fill="#fff" stroke="#111" stroke-width="1.9" stroke-linejoin="miter" stroke-miterlimit="10"/><path d="M129.3 480.73L132.8 486.93L129.3 493.13L125.8 486.93Z" fill="#fff" stroke="#111" stroke-width="1.9" stroke-linejoin="miter" stroke-miterlimit="10"/><path d="M201.3 414.95L204.8 421.15L201.3 427.35L197.8 421.15Z" fill="#fff" stroke="#111" stroke-width="1.9" stroke-linejoin="miter" stroke-miterlimit="10"/><rect x="63.54" y="556.86" width="4.8" height="4.8" fill="#fff" stroke="#111" stroke-width="1.9"/><rect x="72.18" y="549.97" width="4.8" height="4.8" fill="#fff" stroke="#111" stroke-width="1.9"/><rect x="89.46" y="543.42" width="4.8" height="4.8" fill="#fff" stroke="#111" stroke-width="1.9"/><rect x="126.9" y="519.32" width="4.8" height="4.8" fill="#fff" stroke="#111" stroke-width="1.9"/><rect x="198.9" y="460.42" width="4.8" height="4.8" fill="#fff" stroke="#111" stroke-width="1.9"/><rect x="337" y="391" width="172.4" height="172" fill="none" stroke="#111" stroke-width="1.8"/><line x1="337" y1="445.8" x2="509.4" y2="445.8" stroke="#111" stroke-width="1.8"/><path d="M337 391v-5.3M380.1 391v-5.3M423.2 391v-5.3M466.3 391v-5.3M509.4 391v-5.3M337 391h-5.5M337 445.8h-5.5M337 523.4h-5.5" stroke="#111" stroke-width="1.6" fill="none"/><g transform="translate(337.5,381.6) scale(1,1.0)"><text id="n11" x="0" y="0" class="N" text-anchor="middle">0</text></g><g transform="translate(380.6,381.6) scale(1,1.0)"><text id="n12" x="0" y="0" class="N" text-anchor="middle">5</text></g><g transform="translate(423.7,381.6) scale(1,1.0)"><text id="n13" x="0" y="0" class="N" text-anchor="middle">10</text><rect x="-11.76" y="-3.04" width="4.79" height="3.84" fill="#fff"/><rect x="-4.92" y="-3.04" width="4.1" height="3.84" fill="#fff"/></g><g transform="translate(466.8,381.6) scale(1,1.0)"><text id="n14" x="0" y="0" class="N" text-anchor="middle">15</text><rect x="-11.76" y="-3.04" width="4.79" height="3.84" fill="#fff"/><rect x="-4.92" y="-3.04" width="4.1" height="3.84" fill="#fff"/></g><g transform="translate(509.9,381.6) scale(1,1.0)"><text id="n15" x="0" y="0" class="N" text-anchor="middle">20</text></g><g transform="translate(334.4,395.1) scale(1,1.0)"><text id="n16" x="0" y="0" class="N" text-anchor="end" style="letter-spacing:2.9px">100</text><rect x="-35.26" y="-3.04" width="4.79" height="3.84" fill="#fff"/><rect x="-28.42" y="-3.04" width="4.1" height="3.84" fill="#fff"/></g><g transform="translate(334.4,451.2) scale(1,1.0)"><text id="n17" x="0" y="0" class="N" text-anchor="end" style="letter-spacing:2.7px">37</text></g><g transform="translate(331.7,527.1) scale(1,1.0)"><text id="n18" x="0" y="0" class="N" text-anchor="end">10</text><rect x="-22.31" y="-3.04" width="4.79" height="3.84" fill="#fff"/><rect x="-15.47" y="-3.04" width="4.1" height="3.84" fill="#fff"/></g><text x="345.4" y="343" class="X" style="letter-spacing:1.26px">Number of cells</text><text x="397.2" y="360.8" class="X" style="letter-spacing:1.35px">plated</text><text transform="translate(295.4,549.8) rotate(-90)" class="X" style="letter-spacing:1.16px">% negative cult.</text><line x1="337" y1="391" x2="509.4" y2="465.9" stroke="#111" stroke-width="1.9"/><line x1="337" y1="391" x2="509.4" y2="533.6" stroke="#111" stroke-width="1.9"/><path d="M352.3 394L355.8 400.2L352.3 406.4L348.8 400.2Z" fill="#fff" stroke="#111" stroke-width="1.9" stroke-linejoin="miter" stroke-miterlimit="10"/><path d="M368.7 399.6L372.2 405.8L368.7 412L365.2 405.8Z" fill="#fff" stroke="#111" stroke-width="1.9" stroke-linejoin="miter" stroke-miterlimit="10"/><path d="M402.2 452.4L405.7 458.6L402.2 464.8L398.7 458.6Z" fill="#fff" stroke="#111" stroke-width="1.9" stroke-linejoin="miter" stroke-miterlimit="10"/><path d="M467.2 494.5L470.7 500.7L467.2 506.9L463.7 500.7Z" fill="#fff" stroke="#111" stroke-width="1.9" stroke-linejoin="miter" stroke-miterlimit="10"/><rect x="335.1" y="388.6" width="4.8" height="4.8" fill="#fff" stroke="#111" stroke-width="1.9"/><rect x="349.8" y="394.9" width="4.8" height="4.8" fill="#fff" stroke="#111" stroke-width="1.9"/><rect x="366.1" y="403.8" width="4.8" height="4.8" fill="#fff" stroke="#111" stroke-width="1.9"/><rect x="399.1" y="411.5" width="4.8" height="4.8" fill="#fff" stroke="#111" stroke-width="1.9"/><rect x="463.8" y="446" width="4.8" height="4.8" fill="#fff" stroke="#111" stroke-width="1.9"/><rect x="399.74" y="289.34" width="3.95" height="4.16" fill="#fff"/><rect x="405.95" y="289.34" width="4.54" height="4.16" fill="#fff"/><rect x="415.42" y="289.34" width="3.95" height="4.16" fill="#fff"/><rect x="421.64" y="289.34" width="4.54" height="4.16" fill="#fff"/></svg></body></html>
